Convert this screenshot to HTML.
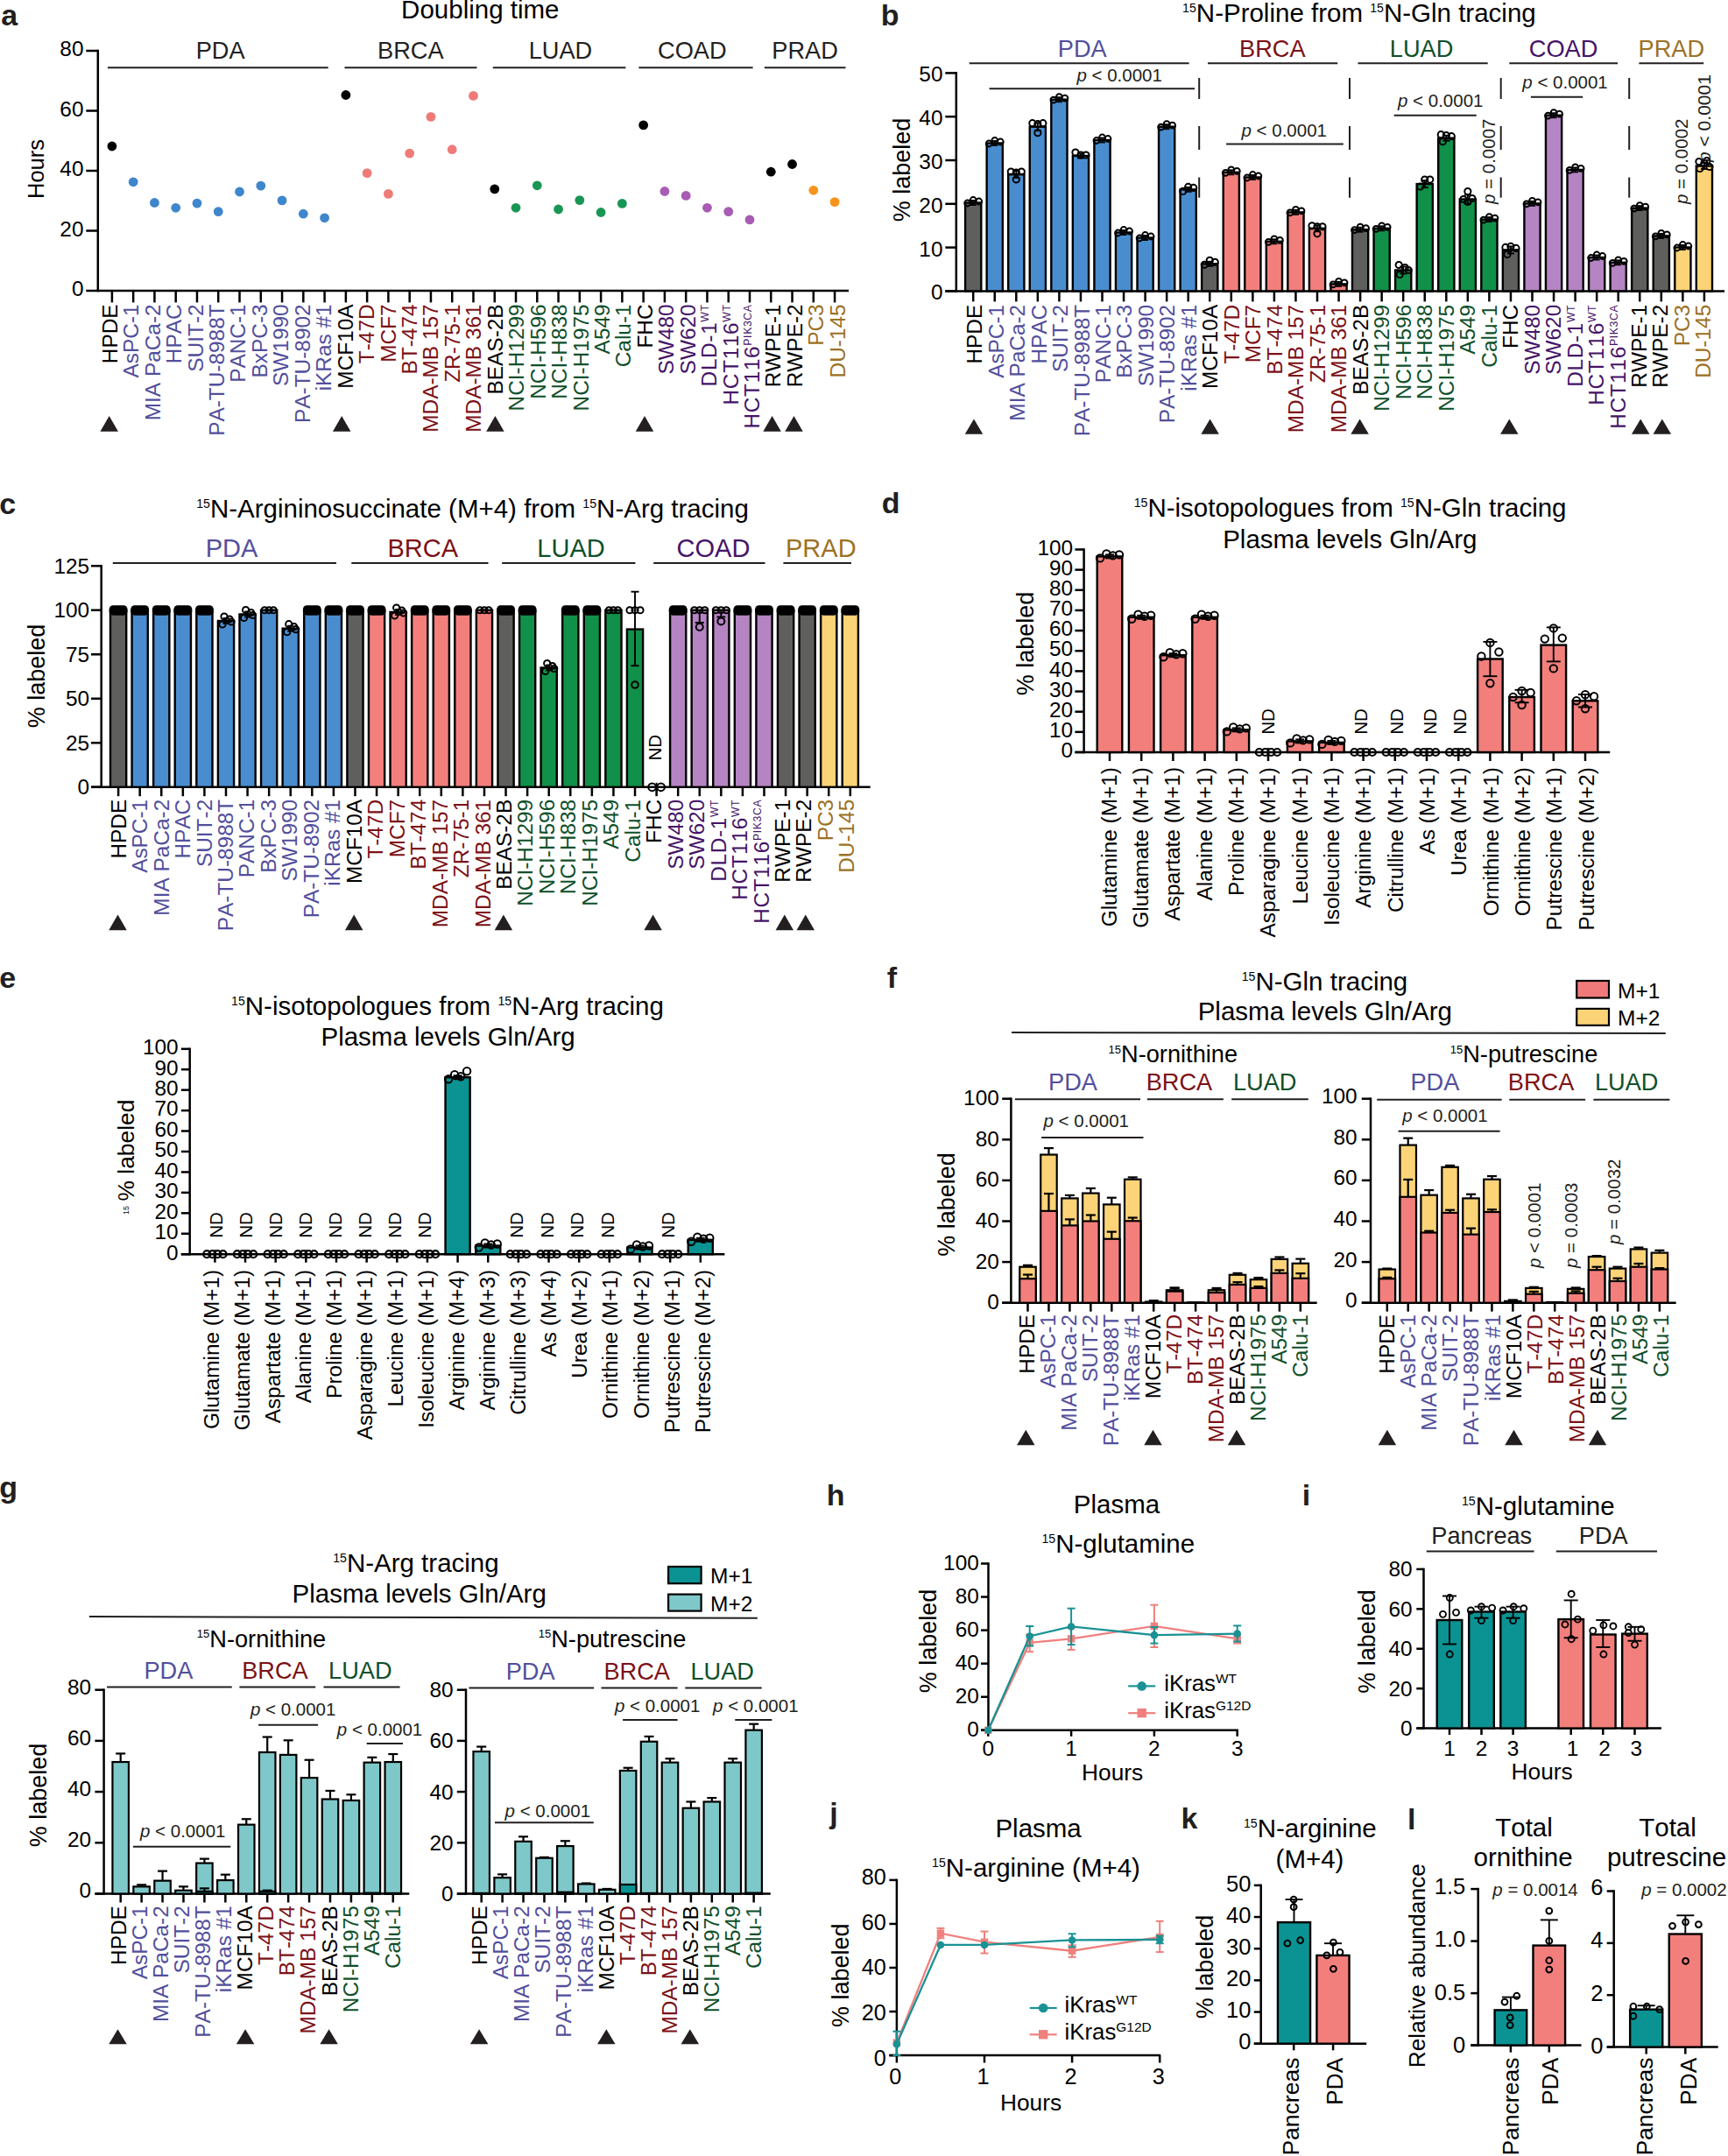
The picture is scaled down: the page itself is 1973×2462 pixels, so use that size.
<!DOCTYPE html>
<html><head><meta charset="utf-8"><title>Figure</title>
<style>html,body{margin:0;padding:0;background:#fff;overflow:hidden}svg{display:block}</style></head>
<body>
<svg width="1973" height="2462" viewBox="0 0 1973 2462" font-family='"Liberation Sans", Arial, Helvetica, sans-serif' style="font-kerning:none">
<text x="1.2" y="28.9" font-size="34" fill="#231f20" font-weight="bold">a</text>
<text x="548.3" y="21.1" font-size="29.5" text-anchor="middle">Doubling time</text>
<line x1="111.8" y1="56.75" x2="111.8" y2="333.25" stroke="#000" stroke-width="2.5"/>
<line x1="98.3" y1="332" x2="111.8" y2="332" stroke="#000" stroke-width="2.5"/>
<text x="95.5" y="338.44" font-size="24.4" text-anchor="end">0</text>
<line x1="98.3" y1="263.5" x2="111.8" y2="263.5" stroke="#000" stroke-width="2.5"/>
<text x="95.5" y="269.94" font-size="24.4" text-anchor="end">20</text>
<line x1="98.3" y1="195" x2="111.8" y2="195" stroke="#000" stroke-width="2.5"/>
<text x="95.5" y="201.44" font-size="24.4" text-anchor="end">40</text>
<line x1="98.3" y1="126.5" x2="111.8" y2="126.5" stroke="#000" stroke-width="2.5"/>
<text x="95.5" y="132.94" font-size="24.4" text-anchor="end">60</text>
<line x1="98.3" y1="58" x2="111.8" y2="58" stroke="#000" stroke-width="2.5"/>
<text x="95.5" y="64.44" font-size="24.4" text-anchor="end">80</text>
<text x="50" y="193" font-size="25.5" text-anchor="middle" transform="rotate(-90 50 193)">Hours</text>
<line x1="111.8" y1="332" x2="969" y2="332" stroke="#000" stroke-width="2.5"/>
<line x1="127.9" y1="332" x2="127.9" y2="345.4" stroke="#000" stroke-width="2.5"/>
<line x1="152.17" y1="332" x2="152.17" y2="345.4" stroke="#000" stroke-width="2.5"/>
<line x1="176.44" y1="332" x2="176.44" y2="345.4" stroke="#000" stroke-width="2.5"/>
<line x1="200.71" y1="332" x2="200.71" y2="345.4" stroke="#000" stroke-width="2.5"/>
<line x1="224.98" y1="332" x2="224.98" y2="345.4" stroke="#000" stroke-width="2.5"/>
<line x1="249.25" y1="332" x2="249.25" y2="345.4" stroke="#000" stroke-width="2.5"/>
<line x1="273.52" y1="332" x2="273.52" y2="345.4" stroke="#000" stroke-width="2.5"/>
<line x1="297.79" y1="332" x2="297.79" y2="345.4" stroke="#000" stroke-width="2.5"/>
<line x1="322.06" y1="332" x2="322.06" y2="345.4" stroke="#000" stroke-width="2.5"/>
<line x1="346.33" y1="332" x2="346.33" y2="345.4" stroke="#000" stroke-width="2.5"/>
<line x1="370.6" y1="332" x2="370.6" y2="345.4" stroke="#000" stroke-width="2.5"/>
<line x1="394.87" y1="332" x2="394.87" y2="345.4" stroke="#000" stroke-width="2.5"/>
<line x1="419.14" y1="332" x2="419.14" y2="345.4" stroke="#000" stroke-width="2.5"/>
<line x1="443.41" y1="332" x2="443.41" y2="345.4" stroke="#000" stroke-width="2.5"/>
<line x1="467.68" y1="332" x2="467.68" y2="345.4" stroke="#000" stroke-width="2.5"/>
<line x1="491.95" y1="332" x2="491.95" y2="345.4" stroke="#000" stroke-width="2.5"/>
<line x1="516.22" y1="332" x2="516.22" y2="345.4" stroke="#000" stroke-width="2.5"/>
<line x1="540.49" y1="332" x2="540.49" y2="345.4" stroke="#000" stroke-width="2.5"/>
<line x1="564.76" y1="332" x2="564.76" y2="345.4" stroke="#000" stroke-width="2.5"/>
<line x1="589.03" y1="332" x2="589.03" y2="345.4" stroke="#000" stroke-width="2.5"/>
<line x1="613.3" y1="332" x2="613.3" y2="345.4" stroke="#000" stroke-width="2.5"/>
<line x1="637.57" y1="332" x2="637.57" y2="345.4" stroke="#000" stroke-width="2.5"/>
<line x1="661.84" y1="332" x2="661.84" y2="345.4" stroke="#000" stroke-width="2.5"/>
<line x1="686.11" y1="332" x2="686.11" y2="345.4" stroke="#000" stroke-width="2.5"/>
<line x1="710.38" y1="332" x2="710.38" y2="345.4" stroke="#000" stroke-width="2.5"/>
<line x1="734.65" y1="332" x2="734.65" y2="345.4" stroke="#000" stroke-width="2.5"/>
<line x1="758.92" y1="332" x2="758.92" y2="345.4" stroke="#000" stroke-width="2.5"/>
<line x1="783.19" y1="332" x2="783.19" y2="345.4" stroke="#000" stroke-width="2.5"/>
<line x1="807.46" y1="332" x2="807.46" y2="345.4" stroke="#000" stroke-width="2.5"/>
<line x1="831.73" y1="332" x2="831.73" y2="345.4" stroke="#000" stroke-width="2.5"/>
<line x1="856" y1="332" x2="856" y2="345.4" stroke="#000" stroke-width="2.5"/>
<line x1="880.27" y1="332" x2="880.27" y2="345.4" stroke="#000" stroke-width="2.5"/>
<line x1="904.54" y1="332" x2="904.54" y2="345.4" stroke="#000" stroke-width="2.5"/>
<line x1="928.81" y1="332" x2="928.81" y2="345.4" stroke="#000" stroke-width="2.5"/>
<line x1="953.08" y1="332" x2="953.08" y2="345.4" stroke="#000" stroke-width="2.5"/>
<circle cx="127.9" cy="167" r="5.4" fill="#000"/>
<circle cx="152.17" cy="207.8" r="5.4" fill="#3f86cc"/>
<circle cx="176.44" cy="231.5" r="5.4" fill="#3f86cc"/>
<circle cx="200.71" cy="237.3" r="5.4" fill="#3f86cc"/>
<circle cx="224.98" cy="232.1" r="5.4" fill="#3f86cc"/>
<circle cx="249.25" cy="241.6" r="5.4" fill="#3f86cc"/>
<circle cx="273.52" cy="219" r="5.4" fill="#3f86cc"/>
<circle cx="297.79" cy="212.1" r="5.4" fill="#3f86cc"/>
<circle cx="322.06" cy="228.9" r="5.4" fill="#3f86cc"/>
<circle cx="346.33" cy="244.2" r="5.4" fill="#3f86cc"/>
<circle cx="370.6" cy="248.8" r="5.4" fill="#3f86cc"/>
<circle cx="394.87" cy="108.5" r="5.4" fill="#000"/>
<circle cx="419.14" cy="197.6" r="5.4" fill="#ee7b78"/>
<circle cx="443.41" cy="221.4" r="5.4" fill="#ee7b78"/>
<circle cx="467.68" cy="175.1" r="5.4" fill="#ee7b78"/>
<circle cx="491.95" cy="133.4" r="5.4" fill="#ee7b78"/>
<circle cx="516.22" cy="170.7" r="5.4" fill="#ee7b78"/>
<circle cx="540.49" cy="109.4" r="5.4" fill="#ee7b78"/>
<circle cx="564.76" cy="215.9" r="5.4" fill="#000"/>
<circle cx="589.03" cy="237.3" r="5.4" fill="#1a9654"/>
<circle cx="613.3" cy="211.8" r="5.4" fill="#1a9654"/>
<circle cx="637.57" cy="239" r="5.4" fill="#1a9654"/>
<circle cx="661.84" cy="228.6" r="5.4" fill="#1a9654"/>
<circle cx="686.11" cy="242.5" r="5.4" fill="#1a9654"/>
<circle cx="710.38" cy="232.4" r="5.4" fill="#1a9654"/>
<circle cx="734.65" cy="142.9" r="5.4" fill="#000"/>
<circle cx="758.92" cy="218.5" r="5.4" fill="#a85cb4"/>
<circle cx="783.19" cy="223.4" r="5.4" fill="#a85cb4"/>
<circle cx="807.46" cy="237.3" r="5.4" fill="#a85cb4"/>
<circle cx="831.73" cy="241.6" r="5.4" fill="#a85cb4"/>
<circle cx="856" cy="250.9" r="5.4" fill="#a85cb4"/>
<circle cx="880.27" cy="196.2" r="5.4" fill="#000"/>
<circle cx="904.54" cy="187.5" r="5.4" fill="#000"/>
<circle cx="928.81" cy="217.3" r="5.4" fill="#f7941d"/>
<circle cx="953.08" cy="230.6" r="5.4" fill="#f7941d"/>
<text x="251.7" y="67.3" font-size="27.2" text-anchor="middle" fill="#231f20">PDA</text>
<line x1="123" y1="77.3" x2="374.7" y2="77.3" stroke="#231f20" stroke-width="2"/>
<text x="468.8" y="67.3" font-size="27.2" text-anchor="middle" fill="#231f20">BRCA</text>
<line x1="393.5" y1="77.3" x2="544.5" y2="77.3" stroke="#231f20" stroke-width="2"/>
<text x="639.9" y="67.3" font-size="27.2" text-anchor="middle" fill="#231f20">LUAD</text>
<line x1="562.8" y1="77.3" x2="714.4" y2="77.3" stroke="#231f20" stroke-width="2"/>
<text x="790.3" y="67.3" font-size="27.2" text-anchor="middle" fill="#231f20">COAD</text>
<line x1="729.4" y1="77.3" x2="859.6" y2="77.3" stroke="#231f20" stroke-width="2"/>
<text x="919.1" y="67.3" font-size="27.2" text-anchor="middle" fill="#231f20">PRAD</text>
<line x1="872.9" y1="77.3" x2="965.5" y2="77.3" stroke="#231f20" stroke-width="2"/>
<text x="133.84" y="347.4" font-size="24.4" text-anchor="end" transform="rotate(-90 133.84 347.4)">HPDE</text>
<text x="158.28" y="347.4" font-size="24.4" text-anchor="end" fill="#524f9c" transform="rotate(-90 158.28 347.4)">AsPC-1</text>
<text x="182.72" y="347.4" font-size="24.4" text-anchor="end" fill="#524f9c" transform="rotate(-90 182.72 347.4)">MIA PaCa-2</text>
<text x="207.16" y="347.4" font-size="24.4" text-anchor="end" fill="#524f9c" transform="rotate(-90 207.16 347.4)">HPAC</text>
<text x="231.6" y="347.4" font-size="24.4" text-anchor="end" fill="#524f9c" transform="rotate(-90 231.6 347.4)">SUIT-2</text>
<text x="256.04" y="347.4" font-size="24.4" text-anchor="end" fill="#524f9c" transform="rotate(-90 256.04 347.4)">PA-TU-8988T</text>
<text x="280.48" y="347.4" font-size="24.4" text-anchor="end" fill="#524f9c" transform="rotate(-90 280.48 347.4)">PANC-1</text>
<text x="304.92" y="347.4" font-size="24.4" text-anchor="end" fill="#524f9c" transform="rotate(-90 304.92 347.4)">BxPC-3</text>
<text x="329.36" y="347.4" font-size="24.4" text-anchor="end" fill="#524f9c" transform="rotate(-90 329.36 347.4)">SW1990</text>
<text x="353.8" y="347.4" font-size="24.4" text-anchor="end" fill="#524f9c" transform="rotate(-90 353.8 347.4)">PA-TU-8902</text>
<text x="378.24" y="347.4" font-size="24.4" text-anchor="end" fill="#524f9c" transform="rotate(-90 378.24 347.4)">iKRas #1</text>
<text x="402.68" y="347.4" font-size="24.4" text-anchor="end" transform="rotate(-90 402.68 347.4)">MCF10A</text>
<text x="427.12" y="347.4" font-size="24.4" text-anchor="end" fill="#7c1116" transform="rotate(-90 427.12 347.4)">T-47D</text>
<text x="451.56" y="347.4" font-size="24.4" text-anchor="end" fill="#7c1116" transform="rotate(-90 451.56 347.4)">MCF7</text>
<text x="476" y="347.4" font-size="24.4" text-anchor="end" fill="#7c1116" transform="rotate(-90 476 347.4)">BT-474</text>
<text x="500.44" y="347.4" font-size="24.4" text-anchor="end" fill="#7c1116" transform="rotate(-90 500.44 347.4)">MDA-MB 157</text>
<text x="524.88" y="347.4" font-size="24.4" text-anchor="end" fill="#7c1116" transform="rotate(-90 524.88 347.4)">ZR-75-1</text>
<text x="549.32" y="347.4" font-size="24.4" text-anchor="end" fill="#7c1116" transform="rotate(-90 549.32 347.4)">MDA-MB 361</text>
<text x="573.76" y="347.4" font-size="24.4" text-anchor="end" transform="rotate(-90 573.76 347.4)">BEAS-2B</text>
<text x="598.2" y="347.4" font-size="24.4" text-anchor="end" fill="#0f502a" transform="rotate(-90 598.2 347.4)">NCI-H1299</text>
<text x="622.64" y="347.4" font-size="24.4" text-anchor="end" fill="#0f502a" transform="rotate(-90 622.64 347.4)">NCI-H596</text>
<text x="647.08" y="347.4" font-size="24.4" text-anchor="end" fill="#0f502a" transform="rotate(-90 647.08 347.4)">NCI-H838</text>
<text x="671.52" y="347.4" font-size="24.4" text-anchor="end" fill="#0f502a" transform="rotate(-90 671.52 347.4)">NCI-H1975</text>
<text x="695.96" y="347.4" font-size="24.4" text-anchor="end" fill="#0f502a" transform="rotate(-90 695.96 347.4)">A549</text>
<text x="720.4" y="347.4" font-size="24.4" text-anchor="end" fill="#0f502a" transform="rotate(-90 720.4 347.4)">Calu-1</text>
<text x="744.84" y="347.4" font-size="24.4" text-anchor="end" transform="rotate(-90 744.84 347.4)">FHC</text>
<text x="769.28" y="347.4" font-size="24.4" text-anchor="end" fill="#451467" transform="rotate(-90 769.28 347.4)">SW480</text>
<text x="793.72" y="347.4" font-size="24.4" text-anchor="end" fill="#451467" transform="rotate(-90 793.72 347.4)">SW620</text>
<text x="818.16" y="347.4" font-size="24.4" text-anchor="end" fill="#451467" transform="rotate(-90 818.16 347.4)" letter-spacing="0.65">DLD-1<tspan dy="-9.03" font-size="12.2">WT</tspan></text>
<text x="842.6" y="347.4" font-size="24.4" text-anchor="end" fill="#451467" transform="rotate(-90 842.6 347.4)" letter-spacing="0.65">HCT116<tspan dy="-9.03" font-size="12.2">WT</tspan></text>
<text x="867.04" y="347.4" font-size="24.4" text-anchor="end" fill="#451467" transform="rotate(-90 867.04 347.4)" letter-spacing="0.65">HCT116<tspan dy="-9.03" font-size="12.2">PIK3CA</tspan></text>
<text x="891.48" y="347.4" font-size="24.4" text-anchor="end" transform="rotate(-90 891.48 347.4)">RWPE-1</text>
<text x="915.92" y="347.4" font-size="24.4" text-anchor="end" transform="rotate(-90 915.92 347.4)">RWPE-2</text>
<text x="940.36" y="347.4" font-size="24.4" text-anchor="end" fill="#9c7124" transform="rotate(-90 940.36 347.4)">PC3</text>
<text x="964.8" y="347.4" font-size="24.4" text-anchor="end" fill="#9c7124" transform="rotate(-90 964.8 347.4)">DU-145</text>
<polygon points="124.7,474.9 114.45,492.8 134.95,492.8" fill="#231f20"/>
<polygon points="390.2,474.9 379.95,492.8 400.45,492.8" fill="#231f20"/>
<polygon points="565.4,474.9 555.15,492.8 575.65,492.8" fill="#231f20"/>
<polygon points="736,474.9 725.75,492.8 746.25,492.8" fill="#231f20"/>
<polygon points="881.6,474.9 871.35,492.8 891.85,492.8" fill="#231f20"/>
<polygon points="906.5,474.9 896.25,492.8 916.75,492.8" fill="#231f20"/>
<text x="1005.8" y="28.9" font-size="34" fill="#231f20" font-weight="bold">b</text>
<text x="1551.9" y="25.4" font-size="29.5" text-anchor="middle"><tspan dy="-10.91" font-size="14.16">15</tspan><tspan dy="10.91">N-Proline from </tspan><tspan dy="-10.91" font-size="14.16">15</tspan><tspan dy="10.91">N-Gln tracing</tspan></text>
<line x1="1091.8" y1="82.15" x2="1091.8" y2="333.65" stroke="#000" stroke-width="2.5"/>
<line x1="1079.3" y1="332.4" x2="1091.8" y2="332.4" stroke="#000" stroke-width="2.5"/>
<text x="1076.5" y="342.44" font-size="24.4" text-anchor="end">0</text>
<line x1="1079.3" y1="282.6" x2="1091.8" y2="282.6" stroke="#000" stroke-width="2.5"/>
<text x="1076.5" y="292.64" font-size="24.4" text-anchor="end">10</text>
<line x1="1079.3" y1="232.8" x2="1091.8" y2="232.8" stroke="#000" stroke-width="2.5"/>
<text x="1076.5" y="242.84" font-size="24.4" text-anchor="end">20</text>
<line x1="1079.3" y1="183" x2="1091.8" y2="183" stroke="#000" stroke-width="2.5"/>
<text x="1076.5" y="193.04" font-size="24.4" text-anchor="end">30</text>
<line x1="1079.3" y1="133.2" x2="1091.8" y2="133.2" stroke="#000" stroke-width="2.5"/>
<text x="1076.5" y="143.24" font-size="24.4" text-anchor="end">40</text>
<line x1="1079.3" y1="83.4" x2="1091.8" y2="83.4" stroke="#000" stroke-width="2.5"/>
<text x="1076.5" y="93.44" font-size="24.4" text-anchor="end">50</text>
<text x="1039" y="193.9" font-size="27" text-anchor="middle" transform="rotate(-90 1039 193.9)">% labeled</text>
<line x1="1079.3" y1="332.4" x2="1969" y2="332.4" stroke="#000" stroke-width="2.5"/>
<line x1="1111.2" y1="332.4" x2="1111.2" y2="344.4" stroke="#000" stroke-width="2.5"/>
<line x1="1135.75" y1="332.4" x2="1135.75" y2="344.4" stroke="#000" stroke-width="2.5"/>
<line x1="1160.3" y1="332.4" x2="1160.3" y2="344.4" stroke="#000" stroke-width="2.5"/>
<line x1="1184.85" y1="332.4" x2="1184.85" y2="344.4" stroke="#000" stroke-width="2.5"/>
<line x1="1209.4" y1="332.4" x2="1209.4" y2="344.4" stroke="#000" stroke-width="2.5"/>
<line x1="1233.95" y1="332.4" x2="1233.95" y2="344.4" stroke="#000" stroke-width="2.5"/>
<line x1="1258.5" y1="332.4" x2="1258.5" y2="344.4" stroke="#000" stroke-width="2.5"/>
<line x1="1283.05" y1="332.4" x2="1283.05" y2="344.4" stroke="#000" stroke-width="2.5"/>
<line x1="1307.6" y1="332.4" x2="1307.6" y2="344.4" stroke="#000" stroke-width="2.5"/>
<line x1="1332.15" y1="332.4" x2="1332.15" y2="344.4" stroke="#000" stroke-width="2.5"/>
<line x1="1356.7" y1="332.4" x2="1356.7" y2="344.4" stroke="#000" stroke-width="2.5"/>
<line x1="1381.25" y1="332.4" x2="1381.25" y2="344.4" stroke="#000" stroke-width="2.5"/>
<line x1="1405.8" y1="332.4" x2="1405.8" y2="344.4" stroke="#000" stroke-width="2.5"/>
<line x1="1430.35" y1="332.4" x2="1430.35" y2="344.4" stroke="#000" stroke-width="2.5"/>
<line x1="1454.9" y1="332.4" x2="1454.9" y2="344.4" stroke="#000" stroke-width="2.5"/>
<line x1="1479.45" y1="332.4" x2="1479.45" y2="344.4" stroke="#000" stroke-width="2.5"/>
<line x1="1504" y1="332.4" x2="1504" y2="344.4" stroke="#000" stroke-width="2.5"/>
<line x1="1528.55" y1="332.4" x2="1528.55" y2="344.4" stroke="#000" stroke-width="2.5"/>
<line x1="1553.1" y1="332.4" x2="1553.1" y2="344.4" stroke="#000" stroke-width="2.5"/>
<line x1="1577.65" y1="332.4" x2="1577.65" y2="344.4" stroke="#000" stroke-width="2.5"/>
<line x1="1602.2" y1="332.4" x2="1602.2" y2="344.4" stroke="#000" stroke-width="2.5"/>
<line x1="1626.75" y1="332.4" x2="1626.75" y2="344.4" stroke="#000" stroke-width="2.5"/>
<line x1="1651.3" y1="332.4" x2="1651.3" y2="344.4" stroke="#000" stroke-width="2.5"/>
<line x1="1675.85" y1="332.4" x2="1675.85" y2="344.4" stroke="#000" stroke-width="2.5"/>
<line x1="1700.4" y1="332.4" x2="1700.4" y2="344.4" stroke="#000" stroke-width="2.5"/>
<line x1="1724.95" y1="332.4" x2="1724.95" y2="344.4" stroke="#000" stroke-width="2.5"/>
<line x1="1749.5" y1="332.4" x2="1749.5" y2="344.4" stroke="#000" stroke-width="2.5"/>
<line x1="1774.05" y1="332.4" x2="1774.05" y2="344.4" stroke="#000" stroke-width="2.5"/>
<line x1="1798.6" y1="332.4" x2="1798.6" y2="344.4" stroke="#000" stroke-width="2.5"/>
<line x1="1823.15" y1="332.4" x2="1823.15" y2="344.4" stroke="#000" stroke-width="2.5"/>
<line x1="1847.7" y1="332.4" x2="1847.7" y2="344.4" stroke="#000" stroke-width="2.5"/>
<line x1="1872.25" y1="332.4" x2="1872.25" y2="344.4" stroke="#000" stroke-width="2.5"/>
<line x1="1896.8" y1="332.4" x2="1896.8" y2="344.4" stroke="#000" stroke-width="2.5"/>
<line x1="1921.35" y1="332.4" x2="1921.35" y2="344.4" stroke="#000" stroke-width="2.5"/>
<line x1="1945.9" y1="332.4" x2="1945.9" y2="344.4" stroke="#000" stroke-width="2.5"/>
<rect x="1102.1" y="231.5" width="18.2" height="100.9" fill="#5f5f5e" stroke="#000" stroke-width="2.4"/>
<rect x="1126.65" y="163.5" width="18.2" height="168.9" fill="#4a8dcf" stroke="#000" stroke-width="2.4"/>
<rect x="1151.2" y="199" width="18.2" height="133.4" fill="#4a8dcf" stroke="#000" stroke-width="2.4"/>
<rect x="1175.75" y="144.7" width="18.2" height="187.7" fill="#4a8dcf" stroke="#000" stroke-width="2.4"/>
<rect x="1200.3" y="113.7" width="18.2" height="218.7" fill="#4a8dcf" stroke="#000" stroke-width="2.4"/>
<rect x="1224.85" y="178" width="18.2" height="154.4" fill="#4a8dcf" stroke="#000" stroke-width="2.4"/>
<rect x="1249.4" y="160" width="18.2" height="172.4" fill="#4a8dcf" stroke="#000" stroke-width="2.4"/>
<rect x="1273.95" y="265.5" width="18.2" height="66.9" fill="#4a8dcf" stroke="#000" stroke-width="2.4"/>
<rect x="1298.5" y="271.5" width="18.2" height="60.9" fill="#4a8dcf" stroke="#000" stroke-width="2.4"/>
<rect x="1323.05" y="144.7" width="18.2" height="187.7" fill="#4a8dcf" stroke="#000" stroke-width="2.4"/>
<rect x="1347.6" y="216.4" width="18.2" height="116" fill="#4a8dcf" stroke="#000" stroke-width="2.4"/>
<rect x="1372.15" y="301.3" width="18.2" height="31.1" fill="#5f5f5e" stroke="#000" stroke-width="2.4"/>
<rect x="1396.7" y="196.8" width="18.2" height="135.6" fill="#f27f7c" stroke="#000" stroke-width="2.4"/>
<rect x="1421.25" y="202.5" width="18.2" height="129.9" fill="#f27f7c" stroke="#000" stroke-width="2.4"/>
<rect x="1445.8" y="275.8" width="18.2" height="56.6" fill="#f27f7c" stroke="#000" stroke-width="2.4"/>
<rect x="1470.35" y="242.4" width="18.2" height="90" fill="#f27f7c" stroke="#000" stroke-width="2.4"/>
<rect x="1494.9" y="260.8" width="18.2" height="71.6" fill="#f27f7c" stroke="#000" stroke-width="2.4"/>
<rect x="1519.45" y="324.4" width="18.2" height="8" fill="#f27f7c" stroke="#000" stroke-width="2.4"/>
<rect x="1544" y="262.2" width="18.2" height="70.2" fill="#5f5f5e" stroke="#000" stroke-width="2.4"/>
<rect x="1568.55" y="260.8" width="18.2" height="71.6" fill="#109049" stroke="#000" stroke-width="2.4"/>
<rect x="1593.1" y="308.5" width="18.2" height="23.9" fill="#109049" stroke="#000" stroke-width="2.4"/>
<rect x="1617.65" y="210.1" width="18.2" height="122.3" fill="#109049" stroke="#000" stroke-width="2.4"/>
<rect x="1642.2" y="157.7" width="18.2" height="174.7" fill="#109049" stroke="#000" stroke-width="2.4"/>
<rect x="1666.75" y="227.5" width="18.2" height="104.9" fill="#109049" stroke="#000" stroke-width="2.4"/>
<rect x="1691.3" y="250.6" width="18.2" height="81.8" fill="#109049" stroke="#000" stroke-width="2.4"/>
<rect x="1715.85" y="285.4" width="18.2" height="47" fill="#5f5f5e" stroke="#000" stroke-width="2.4"/>
<rect x="1740.4" y="232.4" width="18.2" height="100" fill="#b584c3" stroke="#000" stroke-width="2.4"/>
<rect x="1764.95" y="131.7" width="18.2" height="200.7" fill="#b584c3" stroke="#000" stroke-width="2.4"/>
<rect x="1789.5" y="193.9" width="18.2" height="138.5" fill="#b584c3" stroke="#000" stroke-width="2.4"/>
<rect x="1814.05" y="294" width="18.2" height="38.4" fill="#b584c3" stroke="#000" stroke-width="2.4"/>
<rect x="1838.6" y="299.8" width="18.2" height="32.6" fill="#b584c3" stroke="#000" stroke-width="2.4"/>
<rect x="1863.15" y="237.6" width="18.2" height="94.8" fill="#5f5f5e" stroke="#000" stroke-width="2.4"/>
<rect x="1887.7" y="269.4" width="18.2" height="63" fill="#5f5f5e" stroke="#000" stroke-width="2.4"/>
<rect x="1912.25" y="282.5" width="18.2" height="49.9" fill="#fdd378" stroke="#000" stroke-width="2.4"/>
<rect x="1936.8" y="189.5" width="18.2" height="142.9" fill="#fdd378" stroke="#000" stroke-width="2.4"/>
<line x1="1111.2" y1="229" x2="1111.2" y2="234" stroke="#000" stroke-width="1.9"/>
<line x1="1107.7" y1="229" x2="1114.7" y2="229" stroke="#000" stroke-width="1.9"/>
<line x1="1107.7" y1="234" x2="1114.7" y2="234" stroke="#000" stroke-width="1.9"/>
<circle cx="1104.7" cy="232" r="3.4" fill="none" stroke="#000" stroke-width="2"/>
<circle cx="1111.2" cy="228.5" r="3.4" fill="none" stroke="#000" stroke-width="2"/>
<circle cx="1117.7" cy="230" r="3.4" fill="none" stroke="#000" stroke-width="2"/>
<line x1="1135.75" y1="161" x2="1135.75" y2="166" stroke="#000" stroke-width="1.9"/>
<line x1="1132.25" y1="161" x2="1139.25" y2="161" stroke="#000" stroke-width="1.9"/>
<line x1="1132.25" y1="166" x2="1139.25" y2="166" stroke="#000" stroke-width="1.9"/>
<circle cx="1129.25" cy="164" r="3.4" fill="none" stroke="#000" stroke-width="2"/>
<circle cx="1135.75" cy="160.5" r="3.4" fill="none" stroke="#000" stroke-width="2"/>
<circle cx="1142.25" cy="162" r="3.4" fill="none" stroke="#000" stroke-width="2"/>
<line x1="1160.3" y1="195" x2="1160.3" y2="203" stroke="#000" stroke-width="1.9"/>
<line x1="1156.3" y1="195" x2="1164.3" y2="195" stroke="#000" stroke-width="1.9"/>
<line x1="1156.3" y1="203" x2="1164.3" y2="203" stroke="#000" stroke-width="1.9"/>
<circle cx="1154.3" cy="196" r="3.6" fill="none" stroke="#000" stroke-width="2"/>
<circle cx="1160.3" cy="197" r="3.6" fill="none" stroke="#000" stroke-width="2"/>
<circle cx="1166.3" cy="196" r="3.6" fill="none" stroke="#000" stroke-width="2"/>
<circle cx="1160.3" cy="205" r="3.6" fill="none" stroke="#000" stroke-width="2"/>
<line x1="1184.85" y1="140.2" x2="1184.85" y2="149.2" stroke="#000" stroke-width="1.9"/>
<line x1="1180.85" y1="140.2" x2="1188.85" y2="140.2" stroke="#000" stroke-width="1.9"/>
<line x1="1180.85" y1="149.2" x2="1188.85" y2="149.2" stroke="#000" stroke-width="1.9"/>
<circle cx="1178.85" cy="140.7" r="3.6" fill="none" stroke="#000" stroke-width="2"/>
<circle cx="1184.85" cy="141.7" r="3.6" fill="none" stroke="#000" stroke-width="2"/>
<circle cx="1190.85" cy="140.7" r="3.6" fill="none" stroke="#000" stroke-width="2"/>
<circle cx="1184.85" cy="151.7" r="3.6" fill="none" stroke="#000" stroke-width="2"/>
<line x1="1209.4" y1="111.2" x2="1209.4" y2="116.2" stroke="#000" stroke-width="1.9"/>
<line x1="1205.9" y1="111.2" x2="1212.9" y2="111.2" stroke="#000" stroke-width="1.9"/>
<line x1="1205.9" y1="116.2" x2="1212.9" y2="116.2" stroke="#000" stroke-width="1.9"/>
<circle cx="1202.9" cy="114.2" r="3.4" fill="none" stroke="#000" stroke-width="2"/>
<circle cx="1209.4" cy="110.7" r="3.4" fill="none" stroke="#000" stroke-width="2"/>
<circle cx="1215.9" cy="112.2" r="3.4" fill="none" stroke="#000" stroke-width="2"/>
<line x1="1233.95" y1="175.5" x2="1233.95" y2="180.5" stroke="#000" stroke-width="1.9"/>
<line x1="1229.95" y1="175.5" x2="1237.95" y2="175.5" stroke="#000" stroke-width="1.9"/>
<line x1="1229.95" y1="180.5" x2="1237.95" y2="180.5" stroke="#000" stroke-width="1.9"/>
<circle cx="1227.95" cy="174" r="3.6" fill="none" stroke="#000" stroke-width="2"/>
<circle cx="1233.95" cy="177" r="3.6" fill="none" stroke="#000" stroke-width="2"/>
<circle cx="1239.95" cy="177" r="3.6" fill="none" stroke="#000" stroke-width="2"/>
<line x1="1258.5" y1="157.5" x2="1258.5" y2="162.5" stroke="#000" stroke-width="1.9"/>
<line x1="1255" y1="157.5" x2="1262" y2="157.5" stroke="#000" stroke-width="1.9"/>
<line x1="1255" y1="162.5" x2="1262" y2="162.5" stroke="#000" stroke-width="1.9"/>
<circle cx="1252" cy="160.5" r="3.4" fill="none" stroke="#000" stroke-width="2"/>
<circle cx="1258.5" cy="157" r="3.4" fill="none" stroke="#000" stroke-width="2"/>
<circle cx="1265" cy="158.5" r="3.4" fill="none" stroke="#000" stroke-width="2"/>
<line x1="1283.05" y1="263" x2="1283.05" y2="268" stroke="#000" stroke-width="1.9"/>
<line x1="1279.55" y1="263" x2="1286.55" y2="263" stroke="#000" stroke-width="1.9"/>
<line x1="1279.55" y1="268" x2="1286.55" y2="268" stroke="#000" stroke-width="1.9"/>
<circle cx="1276.55" cy="266" r="3.4" fill="none" stroke="#000" stroke-width="2"/>
<circle cx="1283.05" cy="262.5" r="3.4" fill="none" stroke="#000" stroke-width="2"/>
<circle cx="1289.55" cy="264" r="3.4" fill="none" stroke="#000" stroke-width="2"/>
<line x1="1307.6" y1="269" x2="1307.6" y2="274" stroke="#000" stroke-width="1.9"/>
<line x1="1304.1" y1="269" x2="1311.1" y2="269" stroke="#000" stroke-width="1.9"/>
<line x1="1304.1" y1="274" x2="1311.1" y2="274" stroke="#000" stroke-width="1.9"/>
<circle cx="1301.1" cy="272" r="3.4" fill="none" stroke="#000" stroke-width="2"/>
<circle cx="1307.6" cy="268.5" r="3.4" fill="none" stroke="#000" stroke-width="2"/>
<circle cx="1314.1" cy="270" r="3.4" fill="none" stroke="#000" stroke-width="2"/>
<line x1="1332.15" y1="142.2" x2="1332.15" y2="147.2" stroke="#000" stroke-width="1.9"/>
<line x1="1328.65" y1="142.2" x2="1335.65" y2="142.2" stroke="#000" stroke-width="1.9"/>
<line x1="1328.65" y1="147.2" x2="1335.65" y2="147.2" stroke="#000" stroke-width="1.9"/>
<circle cx="1325.65" cy="145.2" r="3.4" fill="none" stroke="#000" stroke-width="2"/>
<circle cx="1332.15" cy="141.7" r="3.4" fill="none" stroke="#000" stroke-width="2"/>
<circle cx="1338.65" cy="143.2" r="3.4" fill="none" stroke="#000" stroke-width="2"/>
<line x1="1356.7" y1="213.9" x2="1356.7" y2="218.9" stroke="#000" stroke-width="1.9"/>
<line x1="1352.7" y1="213.9" x2="1360.7" y2="213.9" stroke="#000" stroke-width="1.9"/>
<line x1="1352.7" y1="218.9" x2="1360.7" y2="218.9" stroke="#000" stroke-width="1.9"/>
<circle cx="1350.7" cy="218.4" r="3.6" fill="none" stroke="#000" stroke-width="2"/>
<circle cx="1356.7" cy="213.4" r="3.6" fill="none" stroke="#000" stroke-width="2"/>
<circle cx="1362.7" cy="214.4" r="3.6" fill="none" stroke="#000" stroke-width="2"/>
<line x1="1381.25" y1="298.8" x2="1381.25" y2="303.8" stroke="#000" stroke-width="1.9"/>
<line x1="1377.25" y1="298.8" x2="1385.25" y2="298.8" stroke="#000" stroke-width="1.9"/>
<line x1="1377.25" y1="303.8" x2="1385.25" y2="303.8" stroke="#000" stroke-width="1.9"/>
<circle cx="1375.25" cy="302.3" r="3.6" fill="none" stroke="#000" stroke-width="2"/>
<circle cx="1381.25" cy="297.3" r="3.6" fill="none" stroke="#000" stroke-width="2"/>
<circle cx="1387.25" cy="299.3" r="3.6" fill="none" stroke="#000" stroke-width="2"/>
<line x1="1405.8" y1="194.3" x2="1405.8" y2="199.3" stroke="#000" stroke-width="1.9"/>
<line x1="1402.3" y1="194.3" x2="1409.3" y2="194.3" stroke="#000" stroke-width="1.9"/>
<line x1="1402.3" y1="199.3" x2="1409.3" y2="199.3" stroke="#000" stroke-width="1.9"/>
<circle cx="1399.3" cy="197.3" r="3.4" fill="none" stroke="#000" stroke-width="2"/>
<circle cx="1405.8" cy="193.8" r="3.4" fill="none" stroke="#000" stroke-width="2"/>
<circle cx="1412.3" cy="195.3" r="3.4" fill="none" stroke="#000" stroke-width="2"/>
<line x1="1430.35" y1="200" x2="1430.35" y2="205" stroke="#000" stroke-width="1.9"/>
<line x1="1426.85" y1="200" x2="1433.85" y2="200" stroke="#000" stroke-width="1.9"/>
<line x1="1426.85" y1="205" x2="1433.85" y2="205" stroke="#000" stroke-width="1.9"/>
<circle cx="1423.85" cy="203" r="3.4" fill="none" stroke="#000" stroke-width="2"/>
<circle cx="1430.35" cy="199.5" r="3.4" fill="none" stroke="#000" stroke-width="2"/>
<circle cx="1436.85" cy="201" r="3.4" fill="none" stroke="#000" stroke-width="2"/>
<line x1="1454.9" y1="273.3" x2="1454.9" y2="278.3" stroke="#000" stroke-width="1.9"/>
<line x1="1451.4" y1="273.3" x2="1458.4" y2="273.3" stroke="#000" stroke-width="1.9"/>
<line x1="1451.4" y1="278.3" x2="1458.4" y2="278.3" stroke="#000" stroke-width="1.9"/>
<circle cx="1448.4" cy="276.3" r="3.4" fill="none" stroke="#000" stroke-width="2"/>
<circle cx="1454.9" cy="272.8" r="3.4" fill="none" stroke="#000" stroke-width="2"/>
<circle cx="1461.4" cy="274.3" r="3.4" fill="none" stroke="#000" stroke-width="2"/>
<line x1="1479.45" y1="239.9" x2="1479.45" y2="244.9" stroke="#000" stroke-width="1.9"/>
<line x1="1475.95" y1="239.9" x2="1482.95" y2="239.9" stroke="#000" stroke-width="1.9"/>
<line x1="1475.95" y1="244.9" x2="1482.95" y2="244.9" stroke="#000" stroke-width="1.9"/>
<circle cx="1472.95" cy="242.9" r="3.4" fill="none" stroke="#000" stroke-width="2"/>
<circle cx="1479.45" cy="239.4" r="3.4" fill="none" stroke="#000" stroke-width="2"/>
<circle cx="1485.95" cy="240.9" r="3.4" fill="none" stroke="#000" stroke-width="2"/>
<line x1="1504" y1="257.3" x2="1504" y2="264.3" stroke="#000" stroke-width="1.9"/>
<line x1="1500" y1="257.3" x2="1508" y2="257.3" stroke="#000" stroke-width="1.9"/>
<line x1="1500" y1="264.3" x2="1508" y2="264.3" stroke="#000" stroke-width="1.9"/>
<circle cx="1498" cy="257.8" r="3.6" fill="none" stroke="#000" stroke-width="2"/>
<circle cx="1504" cy="258.8" r="3.6" fill="none" stroke="#000" stroke-width="2"/>
<circle cx="1510" cy="258.8" r="3.6" fill="none" stroke="#000" stroke-width="2"/>
<circle cx="1504" cy="266.8" r="3.6" fill="none" stroke="#000" stroke-width="2"/>
<line x1="1528.55" y1="321.9" x2="1528.55" y2="326.9" stroke="#000" stroke-width="1.9"/>
<line x1="1525.05" y1="321.9" x2="1532.05" y2="321.9" stroke="#000" stroke-width="1.9"/>
<line x1="1525.05" y1="326.9" x2="1532.05" y2="326.9" stroke="#000" stroke-width="1.9"/>
<circle cx="1522.05" cy="324.9" r="3.4" fill="none" stroke="#000" stroke-width="2"/>
<circle cx="1528.55" cy="321.4" r="3.4" fill="none" stroke="#000" stroke-width="2"/>
<circle cx="1535.05" cy="322.9" r="3.4" fill="none" stroke="#000" stroke-width="2"/>
<line x1="1553.1" y1="259.7" x2="1553.1" y2="264.7" stroke="#000" stroke-width="1.9"/>
<line x1="1549.6" y1="259.7" x2="1556.6" y2="259.7" stroke="#000" stroke-width="1.9"/>
<line x1="1549.6" y1="264.7" x2="1556.6" y2="264.7" stroke="#000" stroke-width="1.9"/>
<circle cx="1546.6" cy="262.7" r="3.4" fill="none" stroke="#000" stroke-width="2"/>
<circle cx="1553.1" cy="259.2" r="3.4" fill="none" stroke="#000" stroke-width="2"/>
<circle cx="1559.6" cy="260.7" r="3.4" fill="none" stroke="#000" stroke-width="2"/>
<line x1="1577.65" y1="258.3" x2="1577.65" y2="263.3" stroke="#000" stroke-width="1.9"/>
<line x1="1574.15" y1="258.3" x2="1581.15" y2="258.3" stroke="#000" stroke-width="1.9"/>
<line x1="1574.15" y1="263.3" x2="1581.15" y2="263.3" stroke="#000" stroke-width="1.9"/>
<circle cx="1571.15" cy="261.3" r="3.4" fill="none" stroke="#000" stroke-width="2"/>
<circle cx="1577.65" cy="257.8" r="3.4" fill="none" stroke="#000" stroke-width="2"/>
<circle cx="1584.15" cy="259.3" r="3.4" fill="none" stroke="#000" stroke-width="2"/>
<line x1="1602.2" y1="304.5" x2="1602.2" y2="312.5" stroke="#000" stroke-width="1.9"/>
<line x1="1598.2" y1="304.5" x2="1606.2" y2="304.5" stroke="#000" stroke-width="1.9"/>
<line x1="1598.2" y1="312.5" x2="1606.2" y2="312.5" stroke="#000" stroke-width="1.9"/>
<circle cx="1597.2" cy="302.5" r="3.6" fill="none" stroke="#000" stroke-width="2"/>
<circle cx="1604.2" cy="305.5" r="3.6" fill="none" stroke="#000" stroke-width="2"/>
<circle cx="1608.2" cy="308.5" r="3.6" fill="none" stroke="#000" stroke-width="2"/>
<circle cx="1598.2" cy="313.5" r="3.6" fill="none" stroke="#000" stroke-width="2"/>
<line x1="1626.75" y1="206.1" x2="1626.75" y2="214.1" stroke="#000" stroke-width="1.9"/>
<line x1="1622.75" y1="206.1" x2="1630.75" y2="206.1" stroke="#000" stroke-width="1.9"/>
<line x1="1622.75" y1="214.1" x2="1630.75" y2="214.1" stroke="#000" stroke-width="1.9"/>
<circle cx="1621.75" cy="213.1" r="3.6" fill="none" stroke="#000" stroke-width="2"/>
<circle cx="1626.75" cy="205.1" r="3.6" fill="none" stroke="#000" stroke-width="2"/>
<circle cx="1632.75" cy="205.1" r="3.6" fill="none" stroke="#000" stroke-width="2"/>
<line x1="1651.3" y1="154.7" x2="1651.3" y2="160.7" stroke="#000" stroke-width="1.9"/>
<line x1="1647.3" y1="154.7" x2="1655.3" y2="154.7" stroke="#000" stroke-width="1.9"/>
<line x1="1647.3" y1="160.7" x2="1655.3" y2="160.7" stroke="#000" stroke-width="1.9"/>
<circle cx="1645.3" cy="153.7" r="3.6" fill="none" stroke="#000" stroke-width="2"/>
<circle cx="1651.3" cy="154.7" r="3.6" fill="none" stroke="#000" stroke-width="2"/>
<circle cx="1657.3" cy="155.7" r="3.6" fill="none" stroke="#000" stroke-width="2"/>
<circle cx="1647.3" cy="161.7" r="3.6" fill="none" stroke="#000" stroke-width="2"/>
<line x1="1675.85" y1="222.5" x2="1675.85" y2="232.5" stroke="#000" stroke-width="1.9"/>
<line x1="1671.85" y1="222.5" x2="1679.85" y2="222.5" stroke="#000" stroke-width="1.9"/>
<line x1="1671.85" y1="232.5" x2="1679.85" y2="232.5" stroke="#000" stroke-width="1.9"/>
<circle cx="1675.85" cy="218.5" r="3.6" fill="none" stroke="#000" stroke-width="2"/>
<circle cx="1670.85" cy="227.5" r="3.6" fill="none" stroke="#000" stroke-width="2"/>
<circle cx="1680.85" cy="226.5" r="3.6" fill="none" stroke="#000" stroke-width="2"/>
<circle cx="1675.85" cy="230.5" r="3.6" fill="none" stroke="#000" stroke-width="2"/>
<line x1="1700.4" y1="248.1" x2="1700.4" y2="253.1" stroke="#000" stroke-width="1.9"/>
<line x1="1696.9" y1="248.1" x2="1703.9" y2="248.1" stroke="#000" stroke-width="1.9"/>
<line x1="1696.9" y1="253.1" x2="1703.9" y2="253.1" stroke="#000" stroke-width="1.9"/>
<circle cx="1693.9" cy="251.1" r="3.4" fill="none" stroke="#000" stroke-width="2"/>
<circle cx="1700.4" cy="247.6" r="3.4" fill="none" stroke="#000" stroke-width="2"/>
<circle cx="1706.9" cy="249.1" r="3.4" fill="none" stroke="#000" stroke-width="2"/>
<line x1="1724.95" y1="281.4" x2="1724.95" y2="289.4" stroke="#000" stroke-width="1.9"/>
<line x1="1720.95" y1="281.4" x2="1728.95" y2="281.4" stroke="#000" stroke-width="1.9"/>
<line x1="1720.95" y1="289.4" x2="1728.95" y2="289.4" stroke="#000" stroke-width="1.9"/>
<circle cx="1718.95" cy="282.4" r="3.6" fill="none" stroke="#000" stroke-width="2"/>
<circle cx="1724.95" cy="281.4" r="3.6" fill="none" stroke="#000" stroke-width="2"/>
<circle cx="1730.95" cy="283.4" r="3.6" fill="none" stroke="#000" stroke-width="2"/>
<circle cx="1720.95" cy="290.4" r="3.6" fill="none" stroke="#000" stroke-width="2"/>
<line x1="1749.5" y1="229.9" x2="1749.5" y2="234.9" stroke="#000" stroke-width="1.9"/>
<line x1="1746" y1="229.9" x2="1753" y2="229.9" stroke="#000" stroke-width="1.9"/>
<line x1="1746" y1="234.9" x2="1753" y2="234.9" stroke="#000" stroke-width="1.9"/>
<circle cx="1743" cy="232.9" r="3.4" fill="none" stroke="#000" stroke-width="2"/>
<circle cx="1749.5" cy="229.4" r="3.4" fill="none" stroke="#000" stroke-width="2"/>
<circle cx="1756" cy="230.9" r="3.4" fill="none" stroke="#000" stroke-width="2"/>
<line x1="1774.05" y1="129.2" x2="1774.05" y2="134.2" stroke="#000" stroke-width="1.9"/>
<line x1="1770.55" y1="129.2" x2="1777.55" y2="129.2" stroke="#000" stroke-width="1.9"/>
<line x1="1770.55" y1="134.2" x2="1777.55" y2="134.2" stroke="#000" stroke-width="1.9"/>
<circle cx="1767.55" cy="132.2" r="3.4" fill="none" stroke="#000" stroke-width="2"/>
<circle cx="1774.05" cy="128.7" r="3.4" fill="none" stroke="#000" stroke-width="2"/>
<circle cx="1780.55" cy="130.2" r="3.4" fill="none" stroke="#000" stroke-width="2"/>
<line x1="1798.6" y1="191.4" x2="1798.6" y2="196.4" stroke="#000" stroke-width="1.9"/>
<line x1="1795.1" y1="191.4" x2="1802.1" y2="191.4" stroke="#000" stroke-width="1.9"/>
<line x1="1795.1" y1="196.4" x2="1802.1" y2="196.4" stroke="#000" stroke-width="1.9"/>
<circle cx="1792.1" cy="194.4" r="3.4" fill="none" stroke="#000" stroke-width="2"/>
<circle cx="1798.6" cy="190.9" r="3.4" fill="none" stroke="#000" stroke-width="2"/>
<circle cx="1805.1" cy="192.4" r="3.4" fill="none" stroke="#000" stroke-width="2"/>
<line x1="1823.15" y1="291.5" x2="1823.15" y2="296.5" stroke="#000" stroke-width="1.9"/>
<line x1="1819.65" y1="291.5" x2="1826.65" y2="291.5" stroke="#000" stroke-width="1.9"/>
<line x1="1819.65" y1="296.5" x2="1826.65" y2="296.5" stroke="#000" stroke-width="1.9"/>
<circle cx="1816.65" cy="294.5" r="3.4" fill="none" stroke="#000" stroke-width="2"/>
<circle cx="1823.15" cy="291" r="3.4" fill="none" stroke="#000" stroke-width="2"/>
<circle cx="1829.65" cy="292.5" r="3.4" fill="none" stroke="#000" stroke-width="2"/>
<line x1="1847.7" y1="297.3" x2="1847.7" y2="302.3" stroke="#000" stroke-width="1.9"/>
<line x1="1844.2" y1="297.3" x2="1851.2" y2="297.3" stroke="#000" stroke-width="1.9"/>
<line x1="1844.2" y1="302.3" x2="1851.2" y2="302.3" stroke="#000" stroke-width="1.9"/>
<circle cx="1841.2" cy="300.3" r="3.4" fill="none" stroke="#000" stroke-width="2"/>
<circle cx="1847.7" cy="296.8" r="3.4" fill="none" stroke="#000" stroke-width="2"/>
<circle cx="1854.2" cy="298.3" r="3.4" fill="none" stroke="#000" stroke-width="2"/>
<line x1="1872.25" y1="235.1" x2="1872.25" y2="240.1" stroke="#000" stroke-width="1.9"/>
<line x1="1868.75" y1="235.1" x2="1875.75" y2="235.1" stroke="#000" stroke-width="1.9"/>
<line x1="1868.75" y1="240.1" x2="1875.75" y2="240.1" stroke="#000" stroke-width="1.9"/>
<circle cx="1865.75" cy="238.1" r="3.4" fill="none" stroke="#000" stroke-width="2"/>
<circle cx="1872.25" cy="234.6" r="3.4" fill="none" stroke="#000" stroke-width="2"/>
<circle cx="1878.75" cy="236.1" r="3.4" fill="none" stroke="#000" stroke-width="2"/>
<line x1="1896.8" y1="266.9" x2="1896.8" y2="271.9" stroke="#000" stroke-width="1.9"/>
<line x1="1893.3" y1="266.9" x2="1900.3" y2="266.9" stroke="#000" stroke-width="1.9"/>
<line x1="1893.3" y1="271.9" x2="1900.3" y2="271.9" stroke="#000" stroke-width="1.9"/>
<circle cx="1890.3" cy="269.9" r="3.4" fill="none" stroke="#000" stroke-width="2"/>
<circle cx="1896.8" cy="266.4" r="3.4" fill="none" stroke="#000" stroke-width="2"/>
<circle cx="1903.3" cy="267.9" r="3.4" fill="none" stroke="#000" stroke-width="2"/>
<line x1="1921.35" y1="280" x2="1921.35" y2="285" stroke="#000" stroke-width="1.9"/>
<line x1="1917.85" y1="280" x2="1924.85" y2="280" stroke="#000" stroke-width="1.9"/>
<line x1="1917.85" y1="285" x2="1924.85" y2="285" stroke="#000" stroke-width="1.9"/>
<circle cx="1914.85" cy="283" r="3.4" fill="none" stroke="#000" stroke-width="2"/>
<circle cx="1921.35" cy="279.5" r="3.4" fill="none" stroke="#000" stroke-width="2"/>
<circle cx="1927.85" cy="281" r="3.4" fill="none" stroke="#000" stroke-width="2"/>
<line x1="1945.9" y1="186" x2="1945.9" y2="193" stroke="#000" stroke-width="1.9"/>
<line x1="1941.9" y1="186" x2="1949.9" y2="186" stroke="#000" stroke-width="1.9"/>
<line x1="1941.9" y1="193" x2="1949.9" y2="193" stroke="#000" stroke-width="1.9"/>
<circle cx="1939.9" cy="184.5" r="3.6" fill="none" stroke="#000" stroke-width="2"/>
<circle cx="1945.9" cy="186.5" r="3.6" fill="none" stroke="#000" stroke-width="2"/>
<circle cx="1951.9" cy="190.5" r="3.6" fill="none" stroke="#000" stroke-width="2"/>
<circle cx="1940.9" cy="192.5" r="3.6" fill="none" stroke="#000" stroke-width="2"/>
<circle cx="1948.9" cy="183.5" r="3.6" fill="none" stroke="#000" stroke-width="2"/>
<text x="1235.8" y="65" font-size="27.2" text-anchor="middle" fill="#524f9c">PDA</text>
<line x1="1106.7" y1="72.3" x2="1357.6" y2="72.3" stroke="#231f20" stroke-width="2"/>
<text x="1452.8" y="65" font-size="27.2" text-anchor="middle" fill="#7c1116">BRCA</text>
<line x1="1379" y1="72.3" x2="1527.2" y2="72.3" stroke="#231f20" stroke-width="2"/>
<text x="1623.1" y="65" font-size="27.2" text-anchor="middle" fill="#0f502a">LUAD</text>
<line x1="1550.5" y1="72.3" x2="1698.7" y2="72.3" stroke="#231f20" stroke-width="2"/>
<text x="1785.1" y="65" font-size="27.2" text-anchor="middle" fill="#451467">COAD</text>
<line x1="1723.3" y1="72.3" x2="1847.1" y2="72.3" stroke="#231f20" stroke-width="2"/>
<text x="1908.3" y="65" font-size="27.2" text-anchor="middle" fill="#9c7124">PRAD</text>
<line x1="1871.4" y1="72.3" x2="1945.2" y2="72.3" stroke="#231f20" stroke-width="2"/>
<line x1="1369.2" y1="89" x2="1369.2" y2="113" stroke="#231f20" stroke-width="2"/>
<line x1="1369.2" y1="144" x2="1369.2" y2="171" stroke="#231f20" stroke-width="2"/>
<line x1="1369.2" y1="202.5" x2="1369.2" y2="225.7" stroke="#231f20" stroke-width="2"/>
<line x1="1541" y1="89" x2="1541" y2="113" stroke="#231f20" stroke-width="2"/>
<line x1="1541" y1="144" x2="1541" y2="171" stroke="#231f20" stroke-width="2"/>
<line x1="1541" y1="202.5" x2="1541" y2="225.7" stroke="#231f20" stroke-width="2"/>
<line x1="1713.7" y1="89" x2="1713.7" y2="113" stroke="#231f20" stroke-width="2"/>
<line x1="1713.7" y1="144" x2="1713.7" y2="171" stroke="#231f20" stroke-width="2"/>
<line x1="1713.7" y1="202.5" x2="1713.7" y2="225.7" stroke="#231f20" stroke-width="2"/>
<line x1="1860.2" y1="89" x2="1860.2" y2="113" stroke="#231f20" stroke-width="2"/>
<line x1="1860.2" y1="144" x2="1860.2" y2="171" stroke="#231f20" stroke-width="2"/>
<line x1="1860.2" y1="202.5" x2="1860.2" y2="225.7" stroke="#231f20" stroke-width="2"/>
<line x1="1129.6" y1="101.3" x2="1364" y2="101.3" stroke="#231f20" stroke-width="2"/>
<text x="1229.4" y="93.2" font-size="20.5" fill="#231f20"><tspan font-style="italic">p</tspan> &lt; 0.0001</text>
<line x1="1400.1" y1="164.6" x2="1533.8" y2="164.6" stroke="#231f20" stroke-width="2"/>
<text x="1417.5" y="156.3" font-size="20.5" fill="#231f20"><tspan font-style="italic">p</tspan> &lt; 0.0001</text>
<line x1="1591.7" y1="131.7" x2="1685.7" y2="131.7" stroke="#231f20" stroke-width="2"/>
<text x="1596" y="122.1" font-size="20.5" fill="#231f20"><tspan font-style="italic">p</tspan> &lt; 0.0001</text>
<line x1="1747.9" y1="110.8" x2="1807.2" y2="110.8" stroke="#231f20" stroke-width="2"/>
<text x="1738.3" y="101.3" font-size="20.5" fill="#231f20"><tspan font-style="italic">p</tspan> &lt; 0.0001</text>
<text x="1707" y="233" font-size="20.5" fill="#231f20" transform="rotate(-90 1707 233)"><tspan font-style="italic">p</tspan> = 0.0007</text>
<text x="1927" y="233" font-size="20.5" fill="#231f20" transform="rotate(-90 1927 233)"><tspan font-style="italic">p</tspan> = 0.0002</text>
<text x="1952.5" y="185" font-size="21" fill="#231f20" transform="rotate(-90 1952.5 185)"><tspan font-style="italic">p</tspan> &lt; 0.0001</text>
<text x="1121.14" y="347.8" font-size="24.4" text-anchor="end" transform="rotate(-90 1121.14 347.8)">HPDE</text>
<text x="1145.62" y="347.8" font-size="24.4" text-anchor="end" fill="#524f9c" transform="rotate(-90 1145.62 347.8)">AsPC-1</text>
<text x="1170.1" y="347.8" font-size="24.4" text-anchor="end" fill="#524f9c" transform="rotate(-90 1170.1 347.8)">MIA PaCa-2</text>
<text x="1194.58" y="347.8" font-size="24.4" text-anchor="end" fill="#524f9c" transform="rotate(-90 1194.58 347.8)">HPAC</text>
<text x="1219.06" y="347.8" font-size="24.4" text-anchor="end" fill="#524f9c" transform="rotate(-90 1219.06 347.8)">SUIT-2</text>
<text x="1243.54" y="347.8" font-size="24.4" text-anchor="end" fill="#524f9c" transform="rotate(-90 1243.54 347.8)">PA-TU-8988T</text>
<text x="1268.02" y="347.8" font-size="24.4" text-anchor="end" fill="#524f9c" transform="rotate(-90 1268.02 347.8)">PANC-1</text>
<text x="1292.5" y="347.8" font-size="24.4" text-anchor="end" fill="#524f9c" transform="rotate(-90 1292.5 347.8)">BxPC-3</text>
<text x="1316.98" y="347.8" font-size="24.4" text-anchor="end" fill="#524f9c" transform="rotate(-90 1316.98 347.8)">SW1990</text>
<text x="1341.46" y="347.8" font-size="24.4" text-anchor="end" fill="#524f9c" transform="rotate(-90 1341.46 347.8)">PA-TU-8902</text>
<text x="1365.94" y="347.8" font-size="24.4" text-anchor="end" fill="#524f9c" transform="rotate(-90 1365.94 347.8)">iKRas #1</text>
<text x="1390.42" y="347.8" font-size="24.4" text-anchor="end" transform="rotate(-90 1390.42 347.8)">MCF10A</text>
<text x="1414.9" y="347.8" font-size="24.4" text-anchor="end" fill="#7c1116" transform="rotate(-90 1414.9 347.8)">T-47D</text>
<text x="1439.38" y="347.8" font-size="24.4" text-anchor="end" fill="#7c1116" transform="rotate(-90 1439.38 347.8)">MCF7</text>
<text x="1463.86" y="347.8" font-size="24.4" text-anchor="end" fill="#7c1116" transform="rotate(-90 1463.86 347.8)">BT-474</text>
<text x="1488.34" y="347.8" font-size="24.4" text-anchor="end" fill="#7c1116" transform="rotate(-90 1488.34 347.8)">MDA-MB 157</text>
<text x="1512.82" y="347.8" font-size="24.4" text-anchor="end" fill="#7c1116" transform="rotate(-90 1512.82 347.8)">ZR-75-1</text>
<text x="1537.3" y="347.8" font-size="24.4" text-anchor="end" fill="#7c1116" transform="rotate(-90 1537.3 347.8)">MDA-MB 361</text>
<text x="1561.78" y="347.8" font-size="24.4" text-anchor="end" transform="rotate(-90 1561.78 347.8)">BEAS-2B</text>
<text x="1586.26" y="347.8" font-size="24.4" text-anchor="end" fill="#0f502a" transform="rotate(-90 1586.26 347.8)">NCI-H1299</text>
<text x="1610.74" y="347.8" font-size="24.4" text-anchor="end" fill="#0f502a" transform="rotate(-90 1610.74 347.8)">NCI-H596</text>
<text x="1635.22" y="347.8" font-size="24.4" text-anchor="end" fill="#0f502a" transform="rotate(-90 1635.22 347.8)">NCI-H838</text>
<text x="1659.7" y="347.8" font-size="24.4" text-anchor="end" fill="#0f502a" transform="rotate(-90 1659.7 347.8)">NCI-H1975</text>
<text x="1684.18" y="347.8" font-size="24.4" text-anchor="end" fill="#0f502a" transform="rotate(-90 1684.18 347.8)">A549</text>
<text x="1708.66" y="347.8" font-size="24.4" text-anchor="end" fill="#0f502a" transform="rotate(-90 1708.66 347.8)">Calu-1</text>
<text x="1733.14" y="347.8" font-size="24.4" text-anchor="end" transform="rotate(-90 1733.14 347.8)">FHC</text>
<text x="1757.62" y="347.8" font-size="24.4" text-anchor="end" fill="#451467" transform="rotate(-90 1757.62 347.8)">SW480</text>
<text x="1782.1" y="347.8" font-size="24.4" text-anchor="end" fill="#451467" transform="rotate(-90 1782.1 347.8)">SW620</text>
<text x="1806.58" y="347.8" font-size="24.4" text-anchor="end" fill="#451467" transform="rotate(-90 1806.58 347.8)" letter-spacing="0.65">DLD-1<tspan dy="-9.03" font-size="12.2">WT</tspan></text>
<text x="1831.06" y="347.8" font-size="24.4" text-anchor="end" fill="#451467" transform="rotate(-90 1831.06 347.8)" letter-spacing="0.65">HCT116<tspan dy="-9.03" font-size="12.2">WT</tspan></text>
<text x="1855.54" y="347.8" font-size="24.4" text-anchor="end" fill="#451467" transform="rotate(-90 1855.54 347.8)" letter-spacing="0.65">HCT116<tspan dy="-9.03" font-size="12.2">PIK3CA</tspan></text>
<text x="1880.02" y="347.8" font-size="24.4" text-anchor="end" transform="rotate(-90 1880.02 347.8)">RWPE-1</text>
<text x="1904.5" y="347.8" font-size="24.4" text-anchor="end" transform="rotate(-90 1904.5 347.8)">RWPE-2</text>
<text x="1928.98" y="347.8" font-size="24.4" text-anchor="end" fill="#9c7124" transform="rotate(-90 1928.98 347.8)">PC3</text>
<text x="1953.46" y="347.8" font-size="24.4" text-anchor="end" fill="#9c7124" transform="rotate(-90 1953.46 347.8)">DU-145</text>
<polygon points="1112,478.4 1101.75,495.7 1122.25,495.7" fill="#231f20"/>
<polygon points="1381.6,478.4 1371.35,495.7 1391.85,495.7" fill="#231f20"/>
<polygon points="1552.6,478.4 1542.35,495.7 1562.85,495.7" fill="#231f20"/>
<polygon points="1723.3,478.4 1713.05,495.7 1733.55,495.7" fill="#231f20"/>
<polygon points="1873.2,478.4 1862.95,495.7 1883.45,495.7" fill="#231f20"/>
<polygon points="1897.8,478.4 1887.55,495.7 1908.05,495.7" fill="#231f20"/>
<text x="-0.8" y="586.9" font-size="34" fill="#231f20" font-weight="bold">c</text>
<text x="539.5" y="591.2" font-size="29.5" text-anchor="middle"><tspan dy="-10.91" font-size="14.16">15</tspan><tspan dy="10.91">N-Argininosuccinate (M+4) from </tspan><tspan dy="-10.91" font-size="14.16">15</tspan><tspan dy="10.91">N-Arg tracing</tspan></text>
<line x1="115.7" y1="644.99" x2="115.7" y2="900.05" stroke="#000" stroke-width="2.5"/>
<line x1="104" y1="898.8" x2="115.7" y2="898.8" stroke="#000" stroke-width="2.5"/>
<text x="102.2" y="907.44" font-size="24.4" text-anchor="end">0</text>
<line x1="104" y1="848.29" x2="115.7" y2="848.29" stroke="#000" stroke-width="2.5"/>
<text x="102.2" y="856.92" font-size="24.4" text-anchor="end">25</text>
<line x1="104" y1="797.77" x2="115.7" y2="797.77" stroke="#000" stroke-width="2.5"/>
<text x="102.2" y="806.41" font-size="24.4" text-anchor="end">50</text>
<line x1="104" y1="747.26" x2="115.7" y2="747.26" stroke="#000" stroke-width="2.5"/>
<text x="102.2" y="755.9" font-size="24.4" text-anchor="end">75</text>
<line x1="104" y1="696.75" x2="115.7" y2="696.75" stroke="#000" stroke-width="2.5"/>
<text x="102.2" y="705.39" font-size="24.4" text-anchor="end">100</text>
<line x1="104" y1="646.24" x2="115.7" y2="646.24" stroke="#000" stroke-width="2.5"/>
<text x="102.2" y="654.87" font-size="24.4" text-anchor="end">125</text>
<text x="50.5" y="772" font-size="27" text-anchor="middle" transform="rotate(-90 50.5 772)">% labeled</text>
<line x1="104" y1="898.8" x2="993.7" y2="898.8" stroke="#000" stroke-width="2.5"/>
<line x1="135.1" y1="898.8" x2="135.1" y2="909.2" stroke="#000" stroke-width="2.5"/>
<line x1="159.68" y1="898.8" x2="159.68" y2="909.2" stroke="#000" stroke-width="2.5"/>
<line x1="184.26" y1="898.8" x2="184.26" y2="909.2" stroke="#000" stroke-width="2.5"/>
<line x1="208.84" y1="898.8" x2="208.84" y2="909.2" stroke="#000" stroke-width="2.5"/>
<line x1="233.42" y1="898.8" x2="233.42" y2="909.2" stroke="#000" stroke-width="2.5"/>
<line x1="258" y1="898.8" x2="258" y2="909.2" stroke="#000" stroke-width="2.5"/>
<line x1="282.58" y1="898.8" x2="282.58" y2="909.2" stroke="#000" stroke-width="2.5"/>
<line x1="307.16" y1="898.8" x2="307.16" y2="909.2" stroke="#000" stroke-width="2.5"/>
<line x1="331.74" y1="898.8" x2="331.74" y2="909.2" stroke="#000" stroke-width="2.5"/>
<line x1="356.32" y1="898.8" x2="356.32" y2="909.2" stroke="#000" stroke-width="2.5"/>
<line x1="380.9" y1="898.8" x2="380.9" y2="909.2" stroke="#000" stroke-width="2.5"/>
<line x1="405.48" y1="898.8" x2="405.48" y2="909.2" stroke="#000" stroke-width="2.5"/>
<line x1="430.06" y1="898.8" x2="430.06" y2="909.2" stroke="#000" stroke-width="2.5"/>
<line x1="454.64" y1="898.8" x2="454.64" y2="909.2" stroke="#000" stroke-width="2.5"/>
<line x1="479.22" y1="898.8" x2="479.22" y2="909.2" stroke="#000" stroke-width="2.5"/>
<line x1="503.8" y1="898.8" x2="503.8" y2="909.2" stroke="#000" stroke-width="2.5"/>
<line x1="528.38" y1="898.8" x2="528.38" y2="909.2" stroke="#000" stroke-width="2.5"/>
<line x1="552.96" y1="898.8" x2="552.96" y2="909.2" stroke="#000" stroke-width="2.5"/>
<line x1="577.54" y1="898.8" x2="577.54" y2="909.2" stroke="#000" stroke-width="2.5"/>
<line x1="602.12" y1="898.8" x2="602.12" y2="909.2" stroke="#000" stroke-width="2.5"/>
<line x1="626.7" y1="898.8" x2="626.7" y2="909.2" stroke="#000" stroke-width="2.5"/>
<line x1="651.28" y1="898.8" x2="651.28" y2="909.2" stroke="#000" stroke-width="2.5"/>
<line x1="675.86" y1="898.8" x2="675.86" y2="909.2" stroke="#000" stroke-width="2.5"/>
<line x1="700.44" y1="898.8" x2="700.44" y2="909.2" stroke="#000" stroke-width="2.5"/>
<line x1="725.02" y1="898.8" x2="725.02" y2="909.2" stroke="#000" stroke-width="2.5"/>
<line x1="749.6" y1="898.8" x2="749.6" y2="909.2" stroke="#000" stroke-width="2.5"/>
<line x1="774.18" y1="898.8" x2="774.18" y2="909.2" stroke="#000" stroke-width="2.5"/>
<line x1="798.76" y1="898.8" x2="798.76" y2="909.2" stroke="#000" stroke-width="2.5"/>
<line x1="823.34" y1="898.8" x2="823.34" y2="909.2" stroke="#000" stroke-width="2.5"/>
<line x1="847.92" y1="898.8" x2="847.92" y2="909.2" stroke="#000" stroke-width="2.5"/>
<line x1="872.5" y1="898.8" x2="872.5" y2="909.2" stroke="#000" stroke-width="2.5"/>
<line x1="897.08" y1="898.8" x2="897.08" y2="909.2" stroke="#000" stroke-width="2.5"/>
<line x1="921.66" y1="898.8" x2="921.66" y2="909.2" stroke="#000" stroke-width="2.5"/>
<line x1="946.24" y1="898.8" x2="946.24" y2="909.2" stroke="#000" stroke-width="2.5"/>
<line x1="970.82" y1="898.8" x2="970.82" y2="909.2" stroke="#000" stroke-width="2.5"/>
<rect x="126" y="696.75" width="18.2" height="202.05" fill="#5f5f5e" stroke="#000" stroke-width="2.4"/>
<rect x="150.58" y="696.75" width="18.2" height="202.05" fill="#4a8dcf" stroke="#000" stroke-width="2.4"/>
<rect x="175.16" y="696.75" width="18.2" height="202.05" fill="#4a8dcf" stroke="#000" stroke-width="2.4"/>
<rect x="199.74" y="696.75" width="18.2" height="202.05" fill="#4a8dcf" stroke="#000" stroke-width="2.4"/>
<rect x="224.32" y="696.75" width="18.2" height="202.05" fill="#4a8dcf" stroke="#000" stroke-width="2.4"/>
<rect x="248.9" y="709" width="18.2" height="189.8" fill="#4a8dcf" stroke="#000" stroke-width="2.4"/>
<rect x="273.48" y="701.5" width="18.2" height="197.3" fill="#4a8dcf" stroke="#000" stroke-width="2.4"/>
<rect x="298.06" y="696.75" width="18.2" height="202.05" fill="#4a8dcf" stroke="#000" stroke-width="2.4"/>
<rect x="322.64" y="717.7" width="18.2" height="181.1" fill="#4a8dcf" stroke="#000" stroke-width="2.4"/>
<rect x="347.22" y="696.75" width="18.2" height="202.05" fill="#4a8dcf" stroke="#000" stroke-width="2.4"/>
<rect x="371.8" y="696.75" width="18.2" height="202.05" fill="#4a8dcf" stroke="#000" stroke-width="2.4"/>
<rect x="396.38" y="696.75" width="18.2" height="202.05" fill="#5f5f5e" stroke="#000" stroke-width="2.4"/>
<rect x="420.96" y="696.75" width="18.2" height="202.05" fill="#f27f7c" stroke="#000" stroke-width="2.4"/>
<rect x="445.54" y="699" width="18.2" height="199.8" fill="#f27f7c" stroke="#000" stroke-width="2.4"/>
<rect x="470.12" y="696.75" width="18.2" height="202.05" fill="#f27f7c" stroke="#000" stroke-width="2.4"/>
<rect x="494.7" y="696.75" width="18.2" height="202.05" fill="#f27f7c" stroke="#000" stroke-width="2.4"/>
<rect x="519.28" y="696.75" width="18.2" height="202.05" fill="#f27f7c" stroke="#000" stroke-width="2.4"/>
<rect x="543.86" y="696.75" width="18.2" height="202.05" fill="#f27f7c" stroke="#000" stroke-width="2.4"/>
<rect x="568.44" y="696.75" width="18.2" height="202.05" fill="#5f5f5e" stroke="#000" stroke-width="2.4"/>
<rect x="593.02" y="696.75" width="18.2" height="202.05" fill="#109049" stroke="#000" stroke-width="2.4"/>
<rect x="617.6" y="762.5" width="18.2" height="136.3" fill="#109049" stroke="#000" stroke-width="2.4"/>
<rect x="642.18" y="696.75" width="18.2" height="202.05" fill="#109049" stroke="#000" stroke-width="2.4"/>
<rect x="666.76" y="696.75" width="18.2" height="202.05" fill="#109049" stroke="#000" stroke-width="2.4"/>
<rect x="691.34" y="696.75" width="18.2" height="202.05" fill="#109049" stroke="#000" stroke-width="2.4"/>
<rect x="715.92" y="718.6" width="18.2" height="180.2" fill="#109049" stroke="#000" stroke-width="2.4"/>
<rect x="765.08" y="696.75" width="18.2" height="202.05" fill="#b584c3" stroke="#000" stroke-width="2.4"/>
<rect x="789.66" y="696.75" width="18.2" height="202.05" fill="#b584c3" stroke="#000" stroke-width="2.4"/>
<rect x="814.24" y="696.75" width="18.2" height="202.05" fill="#b584c3" stroke="#000" stroke-width="2.4"/>
<rect x="838.82" y="696.75" width="18.2" height="202.05" fill="#b584c3" stroke="#000" stroke-width="2.4"/>
<rect x="863.4" y="696.75" width="18.2" height="202.05" fill="#b584c3" stroke="#000" stroke-width="2.4"/>
<rect x="887.98" y="696.75" width="18.2" height="202.05" fill="#5f5f5e" stroke="#000" stroke-width="2.4"/>
<rect x="912.56" y="696.75" width="18.2" height="202.05" fill="#5f5f5e" stroke="#000" stroke-width="2.4"/>
<rect x="937.14" y="696.75" width="18.2" height="202.05" fill="#fdd378" stroke="#000" stroke-width="2.4"/>
<rect x="961.72" y="696.75" width="18.2" height="202.05" fill="#fdd378" stroke="#000" stroke-width="2.4"/>
<rect x="124.7" y="691.15" width="20.8" height="11.5" rx="4.5" fill="#000"/>
<rect x="149.28" y="691.15" width="20.8" height="11.5" rx="4.5" fill="#000"/>
<rect x="173.86" y="691.15" width="20.8" height="11.5" rx="4.5" fill="#000"/>
<rect x="198.44" y="691.15" width="20.8" height="11.5" rx="4.5" fill="#000"/>
<rect x="223.02" y="691.15" width="20.8" height="11.5" rx="4.5" fill="#000"/>
<line x1="258" y1="706" x2="258" y2="712" stroke="#000" stroke-width="1.9"/>
<line x1="254.5" y1="706" x2="261.5" y2="706" stroke="#000" stroke-width="1.9"/>
<line x1="254.5" y1="712" x2="261.5" y2="712" stroke="#000" stroke-width="1.9"/>
<circle cx="254" cy="713" r="3.6" fill="none" stroke="#000" stroke-width="2"/>
<circle cx="256" cy="704" r="3.6" fill="none" stroke="#000" stroke-width="2"/>
<circle cx="262" cy="707" r="3.6" fill="none" stroke="#000" stroke-width="2"/>
<circle cx="264" cy="710" r="3.6" fill="none" stroke="#000" stroke-width="2"/>
<line x1="282.58" y1="698.5" x2="282.58" y2="704.5" stroke="#000" stroke-width="1.9"/>
<line x1="279.08" y1="698.5" x2="286.08" y2="698.5" stroke="#000" stroke-width="1.9"/>
<line x1="279.08" y1="704.5" x2="286.08" y2="704.5" stroke="#000" stroke-width="1.9"/>
<circle cx="278.58" cy="705.5" r="3.6" fill="none" stroke="#000" stroke-width="2"/>
<circle cx="280.58" cy="696.5" r="3.6" fill="none" stroke="#000" stroke-width="2"/>
<circle cx="286.58" cy="699.5" r="3.6" fill="none" stroke="#000" stroke-width="2"/>
<circle cx="288.58" cy="702.5" r="3.6" fill="none" stroke="#000" stroke-width="2"/>
<circle cx="302.16" cy="696.75" r="3.6" fill="none" stroke="#000" stroke-width="2"/>
<circle cx="312.16" cy="696.75" r="3.6" fill="none" stroke="#000" stroke-width="2"/>
<circle cx="307.16" cy="696.75" r="3.6" fill="none" stroke="#000" stroke-width="2"/>
<line x1="331.74" y1="714.7" x2="331.74" y2="720.7" stroke="#000" stroke-width="1.9"/>
<line x1="328.24" y1="714.7" x2="335.24" y2="714.7" stroke="#000" stroke-width="1.9"/>
<line x1="328.24" y1="720.7" x2="335.24" y2="720.7" stroke="#000" stroke-width="1.9"/>
<circle cx="327.74" cy="721.7" r="3.6" fill="none" stroke="#000" stroke-width="2"/>
<circle cx="329.74" cy="712.7" r="3.6" fill="none" stroke="#000" stroke-width="2"/>
<circle cx="335.74" cy="715.7" r="3.6" fill="none" stroke="#000" stroke-width="2"/>
<circle cx="337.74" cy="718.7" r="3.6" fill="none" stroke="#000" stroke-width="2"/>
<rect x="345.92" y="691.15" width="20.8" height="11.5" rx="4.5" fill="#000"/>
<rect x="370.5" y="691.15" width="20.8" height="11.5" rx="4.5" fill="#000"/>
<rect x="395.08" y="691.15" width="20.8" height="11.5" rx="4.5" fill="#000"/>
<rect x="419.66" y="691.15" width="20.8" height="11.5" rx="4.5" fill="#000"/>
<line x1="454.64" y1="696" x2="454.64" y2="702" stroke="#000" stroke-width="1.9"/>
<line x1="451.14" y1="696" x2="458.14" y2="696" stroke="#000" stroke-width="1.9"/>
<line x1="451.14" y1="702" x2="458.14" y2="702" stroke="#000" stroke-width="1.9"/>
<circle cx="450.64" cy="703" r="3.6" fill="none" stroke="#000" stroke-width="2"/>
<circle cx="452.64" cy="694" r="3.6" fill="none" stroke="#000" stroke-width="2"/>
<circle cx="458.64" cy="697" r="3.6" fill="none" stroke="#000" stroke-width="2"/>
<circle cx="460.64" cy="700" r="3.6" fill="none" stroke="#000" stroke-width="2"/>
<rect x="468.82" y="691.15" width="20.8" height="11.5" rx="4.5" fill="#000"/>
<rect x="493.4" y="691.15" width="20.8" height="11.5" rx="4.5" fill="#000"/>
<rect x="517.98" y="691.15" width="20.8" height="11.5" rx="4.5" fill="#000"/>
<circle cx="547.96" cy="696.75" r="3.6" fill="none" stroke="#000" stroke-width="2"/>
<circle cx="557.96" cy="696.75" r="3.6" fill="none" stroke="#000" stroke-width="2"/>
<circle cx="552.96" cy="696.75" r="3.6" fill="none" stroke="#000" stroke-width="2"/>
<rect x="567.14" y="691.15" width="20.8" height="11.5" rx="4.5" fill="#000"/>
<rect x="591.72" y="691.15" width="20.8" height="11.5" rx="4.5" fill="#000"/>
<line x1="626.7" y1="759.5" x2="626.7" y2="765.5" stroke="#000" stroke-width="1.9"/>
<line x1="623.2" y1="759.5" x2="630.2" y2="759.5" stroke="#000" stroke-width="1.9"/>
<line x1="623.2" y1="765.5" x2="630.2" y2="765.5" stroke="#000" stroke-width="1.9"/>
<circle cx="622.7" cy="766.5" r="3.6" fill="none" stroke="#000" stroke-width="2"/>
<circle cx="624.7" cy="757.5" r="3.6" fill="none" stroke="#000" stroke-width="2"/>
<circle cx="630.7" cy="760.5" r="3.6" fill="none" stroke="#000" stroke-width="2"/>
<circle cx="632.7" cy="763.5" r="3.6" fill="none" stroke="#000" stroke-width="2"/>
<rect x="640.88" y="691.15" width="20.8" height="11.5" rx="4.5" fill="#000"/>
<rect x="665.46" y="691.15" width="20.8" height="11.5" rx="4.5" fill="#000"/>
<circle cx="695.44" cy="696.75" r="3.6" fill="none" stroke="#000" stroke-width="2"/>
<circle cx="705.44" cy="696.75" r="3.6" fill="none" stroke="#000" stroke-width="2"/>
<circle cx="700.44" cy="696.75" r="3.6" fill="none" stroke="#000" stroke-width="2"/>
<line x1="725.02" y1="675.7" x2="725.02" y2="760.2" stroke="#000" stroke-width="1.9"/>
<line x1="720.52" y1="675.7" x2="729.52" y2="675.7" stroke="#000" stroke-width="1.9"/>
<line x1="720.52" y1="760.2" x2="729.52" y2="760.2" stroke="#000" stroke-width="1.9"/>
<circle cx="719.02" cy="696.75" r="3.6" fill="none" stroke="#000" stroke-width="2"/>
<circle cx="725.02" cy="696.75" r="3.6" fill="none" stroke="#000" stroke-width="2"/>
<circle cx="731.02" cy="696.75" r="3.6" fill="none" stroke="#000" stroke-width="2"/>
<circle cx="725.02" cy="782" r="3.8" fill="none" stroke="#000" stroke-width="2"/>
<circle cx="744.6" cy="898.8" r="4.4" fill="none" stroke="#000" stroke-width="2"/>
<circle cx="754.6" cy="898.8" r="4.4" fill="none" stroke="#000" stroke-width="2"/>
<line x1="749.6" y1="893.8" x2="749.6" y2="903.8" stroke="#000" stroke-width="1.9"/>
<rect x="763.78" y="691.15" width="20.8" height="11.5" rx="4.5" fill="#000"/>
<line x1="798.76" y1="696.75" x2="798.76" y2="712" stroke="#000" stroke-width="1.9"/>
<line x1="793.76" y1="711" x2="803.76" y2="711" stroke="#000" stroke-width="1.9"/>
<circle cx="792.76" cy="696.75" r="3.6" fill="none" stroke="#000" stroke-width="2"/>
<circle cx="798.76" cy="696.75" r="3.6" fill="none" stroke="#000" stroke-width="2"/>
<circle cx="804.76" cy="696.75" r="3.6" fill="none" stroke="#000" stroke-width="2"/>
<circle cx="798.76" cy="716" r="4" fill="none" stroke="#000" stroke-width="2"/>
<line x1="823.34" y1="696.75" x2="823.34" y2="705.5" stroke="#000" stroke-width="1.9"/>
<line x1="818.34" y1="704.5" x2="828.34" y2="704.5" stroke="#000" stroke-width="1.9"/>
<circle cx="817.34" cy="696.75" r="3.6" fill="none" stroke="#000" stroke-width="2"/>
<circle cx="823.34" cy="696.75" r="3.6" fill="none" stroke="#000" stroke-width="2"/>
<circle cx="829.34" cy="696.75" r="3.6" fill="none" stroke="#000" stroke-width="2"/>
<circle cx="823.34" cy="709.5" r="4" fill="none" stroke="#000" stroke-width="2"/>
<rect x="837.52" y="691.15" width="20.8" height="11.5" rx="4.5" fill="#000"/>
<rect x="862.1" y="691.15" width="20.8" height="11.5" rx="4.5" fill="#000"/>
<rect x="886.68" y="691.15" width="20.8" height="11.5" rx="4.5" fill="#000"/>
<rect x="911.26" y="691.15" width="20.8" height="11.5" rx="4.5" fill="#000"/>
<rect x="935.84" y="691.15" width="20.8" height="11.5" rx="4.5" fill="#000"/>
<rect x="960.42" y="691.15" width="20.8" height="11.5" rx="4.5" fill="#000"/>
<text x="264.5" y="635.5" font-size="29" text-anchor="middle" fill="#524f9c">PDA</text>
<line x1="128.8" y1="643" x2="384" y2="643" stroke="#231f20" stroke-width="2"/>
<text x="482.8" y="635.5" font-size="29" text-anchor="middle" fill="#7c1116">BRCA</text>
<line x1="401.3" y1="643" x2="557.5" y2="643" stroke="#231f20" stroke-width="2"/>
<text x="652" y="635.5" font-size="29" text-anchor="middle" fill="#0f502a">LUAD</text>
<line x1="573.2" y1="643" x2="725.4" y2="643" stroke="#231f20" stroke-width="2"/>
<text x="814.5" y="635.5" font-size="29" text-anchor="middle" fill="#451467">COAD</text>
<line x1="746.2" y1="643" x2="873.5" y2="643" stroke="#231f20" stroke-width="2"/>
<text x="937.3" y="635.5" font-size="29" text-anchor="middle" fill="#9c7124">PRAD</text>
<line x1="894.4" y1="643" x2="972" y2="643" stroke="#231f20" stroke-width="2"/>
<text x="755" y="868.5" font-size="20.5" transform="rotate(-90 755 868.5)">ND</text>
<text x="143.74" y="912.8" font-size="24.4" text-anchor="end" transform="rotate(-90 143.74 912.8)">HPDE</text>
<text x="168.2" y="912.8" font-size="24.4" text-anchor="end" fill="#524f9c" transform="rotate(-90 168.2 912.8)">AsPC-1</text>
<text x="192.66" y="912.8" font-size="24.4" text-anchor="end" fill="#524f9c" transform="rotate(-90 192.66 912.8)">MIA PaCa-2</text>
<text x="217.12" y="912.8" font-size="24.4" text-anchor="end" fill="#524f9c" transform="rotate(-90 217.12 912.8)">HPAC</text>
<text x="241.58" y="912.8" font-size="24.4" text-anchor="end" fill="#524f9c" transform="rotate(-90 241.58 912.8)">SUIT-2</text>
<text x="266.04" y="912.8" font-size="24.4" text-anchor="end" fill="#524f9c" transform="rotate(-90 266.04 912.8)">PA-TU-8988T</text>
<text x="290.5" y="912.8" font-size="24.4" text-anchor="end" fill="#524f9c" transform="rotate(-90 290.5 912.8)">PANC-1</text>
<text x="314.96" y="912.8" font-size="24.4" text-anchor="end" fill="#524f9c" transform="rotate(-90 314.96 912.8)">BxPC-3</text>
<text x="339.42" y="912.8" font-size="24.4" text-anchor="end" fill="#524f9c" transform="rotate(-90 339.42 912.8)">SW1990</text>
<text x="363.88" y="912.8" font-size="24.4" text-anchor="end" fill="#524f9c" transform="rotate(-90 363.88 912.8)">PA-TU-8902</text>
<text x="388.34" y="912.8" font-size="24.4" text-anchor="end" fill="#524f9c" transform="rotate(-90 388.34 912.8)">iKRas #1</text>
<text x="412.8" y="912.8" font-size="24.4" text-anchor="end" transform="rotate(-90 412.8 912.8)">MCF10A</text>
<text x="437.26" y="912.8" font-size="24.4" text-anchor="end" fill="#7c1116" transform="rotate(-90 437.26 912.8)">T-47D</text>
<text x="461.72" y="912.8" font-size="24.4" text-anchor="end" fill="#7c1116" transform="rotate(-90 461.72 912.8)">MCF7</text>
<text x="486.18" y="912.8" font-size="24.4" text-anchor="end" fill="#7c1116" transform="rotate(-90 486.18 912.8)">BT-474</text>
<text x="510.64" y="912.8" font-size="24.4" text-anchor="end" fill="#7c1116" transform="rotate(-90 510.64 912.8)">MDA-MB 157</text>
<text x="535.1" y="912.8" font-size="24.4" text-anchor="end" fill="#7c1116" transform="rotate(-90 535.1 912.8)">ZR-75-1</text>
<text x="559.56" y="912.8" font-size="24.4" text-anchor="end" fill="#7c1116" transform="rotate(-90 559.56 912.8)">MDA-MB 361</text>
<text x="584.02" y="912.8" font-size="24.4" text-anchor="end" transform="rotate(-90 584.02 912.8)">BEAS-2B</text>
<text x="608.48" y="912.8" font-size="24.4" text-anchor="end" fill="#0f502a" transform="rotate(-90 608.48 912.8)">NCI-H1299</text>
<text x="632.94" y="912.8" font-size="24.4" text-anchor="end" fill="#0f502a" transform="rotate(-90 632.94 912.8)">NCI-H596</text>
<text x="657.4" y="912.8" font-size="24.4" text-anchor="end" fill="#0f502a" transform="rotate(-90 657.4 912.8)">NCI-H838</text>
<text x="681.86" y="912.8" font-size="24.4" text-anchor="end" fill="#0f502a" transform="rotate(-90 681.86 912.8)">NCI-H1975</text>
<text x="706.32" y="912.8" font-size="24.4" text-anchor="end" fill="#0f502a" transform="rotate(-90 706.32 912.8)">A549</text>
<text x="730.78" y="912.8" font-size="24.4" text-anchor="end" fill="#0f502a" transform="rotate(-90 730.78 912.8)">Calu-1</text>
<text x="755.24" y="912.8" font-size="24.4" text-anchor="end" transform="rotate(-90 755.24 912.8)">FHC</text>
<text x="779.7" y="912.8" font-size="24.4" text-anchor="end" fill="#451467" transform="rotate(-90 779.7 912.8)">SW480</text>
<text x="804.16" y="912.8" font-size="24.4" text-anchor="end" fill="#451467" transform="rotate(-90 804.16 912.8)">SW620</text>
<text x="828.62" y="912.8" font-size="24.4" text-anchor="end" fill="#451467" transform="rotate(-90 828.62 912.8)" letter-spacing="0.65">DLD-1<tspan dy="-9.03" font-size="12.2">WT</tspan></text>
<text x="853.08" y="912.8" font-size="24.4" text-anchor="end" fill="#451467" transform="rotate(-90 853.08 912.8)" letter-spacing="0.65">HCT116<tspan dy="-9.03" font-size="12.2">WT</tspan></text>
<text x="877.54" y="912.8" font-size="24.4" text-anchor="end" fill="#451467" transform="rotate(-90 877.54 912.8)" letter-spacing="0.65">HCT116<tspan dy="-9.03" font-size="12.2">PIK3CA</tspan></text>
<text x="902" y="912.8" font-size="24.4" text-anchor="end" transform="rotate(-90 902 912.8)">RWPE-1</text>
<text x="926.46" y="912.8" font-size="24.4" text-anchor="end" transform="rotate(-90 926.46 912.8)">RWPE-2</text>
<text x="950.92" y="912.8" font-size="24.4" text-anchor="end" fill="#9c7124" transform="rotate(-90 950.92 912.8)">PC3</text>
<text x="975.38" y="912.8" font-size="24.4" text-anchor="end" fill="#9c7124" transform="rotate(-90 975.38 912.8)">DU-145</text>
<polygon points="134.5,1044.4 124.25,1062.3 144.75,1062.3" fill="#231f20"/>
<polygon points="404.2,1044.4 393.95,1062.3 414.45,1062.3" fill="#231f20"/>
<polygon points="574.9,1044.4 564.65,1062.3 585.15,1062.3" fill="#231f20"/>
<polygon points="745.6,1044.4 735.35,1062.3 755.85,1062.3" fill="#231f20"/>
<polygon points="895.8,1044.4 885.55,1062.3 906.05,1062.3" fill="#231f20"/>
<polygon points="919.8,1044.4 909.55,1062.3 930.05,1062.3" fill="#231f20"/>
<text x="1006.7" y="585.6" font-size="34" fill="#231f20" font-weight="bold">d</text>
<text x="1541.6" y="589.8" font-size="29.5" text-anchor="middle"><tspan dy="-10.91" font-size="14.16">15</tspan><tspan dy="10.91">N-isotopologues from </tspan><tspan dy="-10.91" font-size="14.16">15</tspan><tspan dy="10.91">N-Gln tracing</tspan></text>
<text x="1541.3" y="625.5" font-size="29.5" text-anchor="middle">Plasma levels Gln/Arg</text>
<line x1="1237.6" y1="626.25" x2="1237.6" y2="860.25" stroke="#000" stroke-width="2.5"/>
<line x1="1227.4" y1="859" x2="1237.6" y2="859" stroke="#000" stroke-width="2.5"/>
<text x="1225.2" y="865.24" font-size="24.4" text-anchor="end">0</text>
<line x1="1227.4" y1="835.85" x2="1237.6" y2="835.85" stroke="#000" stroke-width="2.5"/>
<text x="1225.2" y="842.09" font-size="24.4" text-anchor="end">10</text>
<line x1="1227.4" y1="812.7" x2="1237.6" y2="812.7" stroke="#000" stroke-width="2.5"/>
<text x="1225.2" y="818.94" font-size="24.4" text-anchor="end">20</text>
<line x1="1227.4" y1="789.55" x2="1237.6" y2="789.55" stroke="#000" stroke-width="2.5"/>
<text x="1225.2" y="795.79" font-size="24.4" text-anchor="end">30</text>
<line x1="1227.4" y1="766.4" x2="1237.6" y2="766.4" stroke="#000" stroke-width="2.5"/>
<text x="1225.2" y="772.64" font-size="24.4" text-anchor="end">40</text>
<line x1="1227.4" y1="743.25" x2="1237.6" y2="743.25" stroke="#000" stroke-width="2.5"/>
<text x="1225.2" y="749.49" font-size="24.4" text-anchor="end">50</text>
<line x1="1227.4" y1="720.1" x2="1237.6" y2="720.1" stroke="#000" stroke-width="2.5"/>
<text x="1225.2" y="726.34" font-size="24.4" text-anchor="end">60</text>
<line x1="1227.4" y1="696.95" x2="1237.6" y2="696.95" stroke="#000" stroke-width="2.5"/>
<text x="1225.2" y="703.19" font-size="24.4" text-anchor="end">70</text>
<line x1="1227.4" y1="673.8" x2="1237.6" y2="673.8" stroke="#000" stroke-width="2.5"/>
<text x="1225.2" y="680.04" font-size="24.4" text-anchor="end">80</text>
<line x1="1227.4" y1="650.65" x2="1237.6" y2="650.65" stroke="#000" stroke-width="2.5"/>
<text x="1225.2" y="656.89" font-size="24.4" text-anchor="end">90</text>
<line x1="1227.4" y1="627.5" x2="1237.6" y2="627.5" stroke="#000" stroke-width="2.5"/>
<text x="1225.2" y="633.74" font-size="24.4" text-anchor="end">100</text>
<text x="1179.5" y="735" font-size="27" text-anchor="middle" transform="rotate(-90 1179.5 735)">% labeled</text>
<line x1="1227.4" y1="859" x2="1838.2" y2="859" stroke="#000" stroke-width="2.5"/>
<line x1="1267" y1="859" x2="1267" y2="869" stroke="#000" stroke-width="2.5"/>
<line x1="1303.2" y1="859" x2="1303.2" y2="869" stroke="#000" stroke-width="2.5"/>
<line x1="1339.4" y1="859" x2="1339.4" y2="869" stroke="#000" stroke-width="2.5"/>
<line x1="1375.6" y1="859" x2="1375.6" y2="869" stroke="#000" stroke-width="2.5"/>
<line x1="1411.8" y1="859" x2="1411.8" y2="869" stroke="#000" stroke-width="2.5"/>
<line x1="1448" y1="859" x2="1448" y2="869" stroke="#000" stroke-width="2.5"/>
<line x1="1484.2" y1="859" x2="1484.2" y2="869" stroke="#000" stroke-width="2.5"/>
<line x1="1520.4" y1="859" x2="1520.4" y2="869" stroke="#000" stroke-width="2.5"/>
<line x1="1556.6" y1="859" x2="1556.6" y2="869" stroke="#000" stroke-width="2.5"/>
<line x1="1592.8" y1="859" x2="1592.8" y2="869" stroke="#000" stroke-width="2.5"/>
<line x1="1629" y1="859" x2="1629" y2="869" stroke="#000" stroke-width="2.5"/>
<line x1="1665.2" y1="859" x2="1665.2" y2="869" stroke="#000" stroke-width="2.5"/>
<line x1="1701.4" y1="859" x2="1701.4" y2="869" stroke="#000" stroke-width="2.5"/>
<line x1="1737.6" y1="859" x2="1737.6" y2="869" stroke="#000" stroke-width="2.5"/>
<line x1="1773.8" y1="859" x2="1773.8" y2="869" stroke="#000" stroke-width="2.5"/>
<line x1="1810" y1="859" x2="1810" y2="869" stroke="#000" stroke-width="2.5"/>
<rect x="1252.7" y="635.4" width="28.6" height="223.6" fill="#f27f7c" stroke="#000" stroke-width="2.4"/>
<line x1="1267" y1="633.4" x2="1267" y2="637.4" stroke="#000" stroke-width="1.9"/>
<line x1="1262" y1="633.4" x2="1272" y2="633.4" stroke="#000" stroke-width="1.9"/>
<line x1="1262" y1="637.4" x2="1272" y2="637.4" stroke="#000" stroke-width="1.9"/>
<circle cx="1256.05" cy="637.4" r="4.2" fill="none" stroke="#000" stroke-width="2"/>
<circle cx="1263.35" cy="632.4" r="4.2" fill="none" stroke="#000" stroke-width="2"/>
<circle cx="1270.65" cy="634.4" r="4.2" fill="none" stroke="#000" stroke-width="2"/>
<circle cx="1277.95" cy="633.4" r="4.2" fill="none" stroke="#000" stroke-width="2"/>
<rect x="1288.9" y="704.8" width="28.6" height="154.2" fill="#f27f7c" stroke="#000" stroke-width="2.4"/>
<line x1="1303.2" y1="702.8" x2="1303.2" y2="706.8" stroke="#000" stroke-width="1.9"/>
<line x1="1298.2" y1="702.8" x2="1308.2" y2="702.8" stroke="#000" stroke-width="1.9"/>
<line x1="1298.2" y1="706.8" x2="1308.2" y2="706.8" stroke="#000" stroke-width="1.9"/>
<circle cx="1292.25" cy="706.8" r="4.2" fill="none" stroke="#000" stroke-width="2"/>
<circle cx="1299.55" cy="701.8" r="4.2" fill="none" stroke="#000" stroke-width="2"/>
<circle cx="1306.85" cy="703.8" r="4.2" fill="none" stroke="#000" stroke-width="2"/>
<circle cx="1314.15" cy="702.8" r="4.2" fill="none" stroke="#000" stroke-width="2"/>
<rect x="1325.1" y="748.2" width="28.6" height="110.8" fill="#f27f7c" stroke="#000" stroke-width="2.4"/>
<line x1="1339.4" y1="746.2" x2="1339.4" y2="750.2" stroke="#000" stroke-width="1.9"/>
<line x1="1334.4" y1="746.2" x2="1344.4" y2="746.2" stroke="#000" stroke-width="1.9"/>
<line x1="1334.4" y1="750.2" x2="1344.4" y2="750.2" stroke="#000" stroke-width="1.9"/>
<circle cx="1328.45" cy="750.2" r="4.2" fill="none" stroke="#000" stroke-width="2"/>
<circle cx="1335.75" cy="745.2" r="4.2" fill="none" stroke="#000" stroke-width="2"/>
<circle cx="1343.05" cy="747.2" r="4.2" fill="none" stroke="#000" stroke-width="2"/>
<circle cx="1350.35" cy="746.2" r="4.2" fill="none" stroke="#000" stroke-width="2"/>
<rect x="1361.3" y="704.8" width="28.6" height="154.2" fill="#f27f7c" stroke="#000" stroke-width="2.4"/>
<line x1="1375.6" y1="702.8" x2="1375.6" y2="706.8" stroke="#000" stroke-width="1.9"/>
<line x1="1370.6" y1="702.8" x2="1380.6" y2="702.8" stroke="#000" stroke-width="1.9"/>
<line x1="1370.6" y1="706.8" x2="1380.6" y2="706.8" stroke="#000" stroke-width="1.9"/>
<circle cx="1364.65" cy="706.8" r="4.2" fill="none" stroke="#000" stroke-width="2"/>
<circle cx="1371.95" cy="701.8" r="4.2" fill="none" stroke="#000" stroke-width="2"/>
<circle cx="1379.25" cy="703.8" r="4.2" fill="none" stroke="#000" stroke-width="2"/>
<circle cx="1386.55" cy="702.8" r="4.2" fill="none" stroke="#000" stroke-width="2"/>
<rect x="1397.5" y="833.4" width="28.6" height="25.6" fill="#f27f7c" stroke="#000" stroke-width="2.4"/>
<line x1="1411.8" y1="831.4" x2="1411.8" y2="835.4" stroke="#000" stroke-width="1.9"/>
<line x1="1406.8" y1="831.4" x2="1416.8" y2="831.4" stroke="#000" stroke-width="1.9"/>
<line x1="1406.8" y1="835.4" x2="1416.8" y2="835.4" stroke="#000" stroke-width="1.9"/>
<circle cx="1400.85" cy="835.4" r="4.2" fill="none" stroke="#000" stroke-width="2"/>
<circle cx="1408.15" cy="830.4" r="4.2" fill="none" stroke="#000" stroke-width="2"/>
<circle cx="1415.45" cy="832.4" r="4.2" fill="none" stroke="#000" stroke-width="2"/>
<circle cx="1422.75" cy="831.4" r="4.2" fill="none" stroke="#000" stroke-width="2"/>
<circle cx="1437.8" cy="859" r="4" fill="none" stroke="#000" stroke-width="2.2"/>
<circle cx="1444.6" cy="859" r="4" fill="none" stroke="#000" stroke-width="2.2"/>
<circle cx="1451.4" cy="859" r="4" fill="none" stroke="#000" stroke-width="2.2"/>
<circle cx="1458.2" cy="859" r="4" fill="none" stroke="#000" stroke-width="2.2"/>
<line x1="1448" y1="854" x2="1448" y2="864" stroke="#000" stroke-width="2"/>
<text x="1455.5" y="838.7" font-size="20.5" transform="rotate(-90 1455.5 838.7)">ND</text>
<rect x="1469.9" y="846.4" width="28.6" height="12.6" fill="#f27f7c" stroke="#000" stroke-width="2.4"/>
<line x1="1484.2" y1="844.4" x2="1484.2" y2="848.4" stroke="#000" stroke-width="1.9"/>
<line x1="1479.2" y1="844.4" x2="1489.2" y2="844.4" stroke="#000" stroke-width="1.9"/>
<line x1="1479.2" y1="848.4" x2="1489.2" y2="848.4" stroke="#000" stroke-width="1.9"/>
<circle cx="1473.25" cy="848.4" r="4.2" fill="none" stroke="#000" stroke-width="2"/>
<circle cx="1480.55" cy="843.4" r="4.2" fill="none" stroke="#000" stroke-width="2"/>
<circle cx="1487.85" cy="845.4" r="4.2" fill="none" stroke="#000" stroke-width="2"/>
<circle cx="1495.15" cy="844.4" r="4.2" fill="none" stroke="#000" stroke-width="2"/>
<rect x="1506.1" y="847.9" width="28.6" height="11.1" fill="#f27f7c" stroke="#000" stroke-width="2.4"/>
<line x1="1520.4" y1="845.9" x2="1520.4" y2="849.9" stroke="#000" stroke-width="1.9"/>
<line x1="1515.4" y1="845.9" x2="1525.4" y2="845.9" stroke="#000" stroke-width="1.9"/>
<line x1="1515.4" y1="849.9" x2="1525.4" y2="849.9" stroke="#000" stroke-width="1.9"/>
<circle cx="1509.45" cy="849.9" r="4.2" fill="none" stroke="#000" stroke-width="2"/>
<circle cx="1516.75" cy="844.9" r="4.2" fill="none" stroke="#000" stroke-width="2"/>
<circle cx="1524.05" cy="846.9" r="4.2" fill="none" stroke="#000" stroke-width="2"/>
<circle cx="1531.35" cy="845.9" r="4.2" fill="none" stroke="#000" stroke-width="2"/>
<circle cx="1546.4" cy="859" r="4" fill="none" stroke="#000" stroke-width="2.2"/>
<circle cx="1553.2" cy="859" r="4" fill="none" stroke="#000" stroke-width="2.2"/>
<circle cx="1560" cy="859" r="4" fill="none" stroke="#000" stroke-width="2.2"/>
<circle cx="1566.8" cy="859" r="4" fill="none" stroke="#000" stroke-width="2.2"/>
<line x1="1556.6" y1="854" x2="1556.6" y2="864" stroke="#000" stroke-width="2"/>
<text x="1561.1" y="838.7" font-size="20.5" transform="rotate(-90 1561.1 838.7)">ND</text>
<circle cx="1582.6" cy="859" r="4" fill="none" stroke="#000" stroke-width="2.2"/>
<circle cx="1589.4" cy="859" r="4" fill="none" stroke="#000" stroke-width="2.2"/>
<circle cx="1596.2" cy="859" r="4" fill="none" stroke="#000" stroke-width="2.2"/>
<circle cx="1603" cy="859" r="4" fill="none" stroke="#000" stroke-width="2.2"/>
<line x1="1592.8" y1="854" x2="1592.8" y2="864" stroke="#000" stroke-width="2"/>
<text x="1602.2" y="838.7" font-size="20.5" transform="rotate(-90 1602.2 838.7)">ND</text>
<circle cx="1618.8" cy="859" r="4" fill="none" stroke="#000" stroke-width="2.2"/>
<circle cx="1625.6" cy="859" r="4" fill="none" stroke="#000" stroke-width="2.2"/>
<circle cx="1632.4" cy="859" r="4" fill="none" stroke="#000" stroke-width="2.2"/>
<circle cx="1639.2" cy="859" r="4" fill="none" stroke="#000" stroke-width="2.2"/>
<line x1="1629" y1="854" x2="1629" y2="864" stroke="#000" stroke-width="2"/>
<text x="1640.1" y="838.7" font-size="20.5" transform="rotate(-90 1640.1 838.7)">ND</text>
<circle cx="1655" cy="859" r="4" fill="none" stroke="#000" stroke-width="2.2"/>
<circle cx="1661.8" cy="859" r="4" fill="none" stroke="#000" stroke-width="2.2"/>
<circle cx="1668.6" cy="859" r="4" fill="none" stroke="#000" stroke-width="2.2"/>
<circle cx="1675.4" cy="859" r="4" fill="none" stroke="#000" stroke-width="2.2"/>
<line x1="1665.2" y1="854" x2="1665.2" y2="864" stroke="#000" stroke-width="2"/>
<text x="1674.3" y="838.7" font-size="20.5" transform="rotate(-90 1674.3 838.7)">ND</text>
<rect x="1687.1" y="752.5" width="28.6" height="106.5" fill="#f27f7c" stroke="#000" stroke-width="2.4"/>
<line x1="1701.4" y1="732.9" x2="1701.4" y2="772.2" stroke="#000" stroke-width="1.9"/>
<line x1="1693.4" y1="732.9" x2="1709.4" y2="732.9" stroke="#000" stroke-width="1.9"/>
<line x1="1693.4" y1="772.2" x2="1709.4" y2="772.2" stroke="#000" stroke-width="1.9"/>
<circle cx="1701.4" cy="733.9" r="4.2" fill="none" stroke="#000" stroke-width="2"/>
<circle cx="1691.4" cy="749.5" r="4.2" fill="none" stroke="#000" stroke-width="2"/>
<circle cx="1711.4" cy="744.5" r="4.2" fill="none" stroke="#000" stroke-width="2"/>
<circle cx="1701.4" cy="780.2" r="4.2" fill="none" stroke="#000" stroke-width="2"/>
<rect x="1723.3" y="796" width="28.6" height="63" fill="#f27f7c" stroke="#000" stroke-width="2.4"/>
<line x1="1737.6" y1="787.8" x2="1737.6" y2="802.3" stroke="#000" stroke-width="1.9"/>
<line x1="1729.6" y1="787.8" x2="1745.6" y2="787.8" stroke="#000" stroke-width="1.9"/>
<line x1="1729.6" y1="802.3" x2="1745.6" y2="802.3" stroke="#000" stroke-width="1.9"/>
<circle cx="1727.6" cy="796" r="4.2" fill="none" stroke="#000" stroke-width="2"/>
<circle cx="1737.6" cy="789" r="4.2" fill="none" stroke="#000" stroke-width="2"/>
<circle cx="1747.6" cy="791" r="4.2" fill="none" stroke="#000" stroke-width="2"/>
<circle cx="1737.6" cy="805" r="4.2" fill="none" stroke="#000" stroke-width="2"/>
<rect x="1759.5" y="736.6" width="28.6" height="122.4" fill="#f27f7c" stroke="#000" stroke-width="2.4"/>
<line x1="1773.8" y1="716.4" x2="1773.8" y2="755.4" stroke="#000" stroke-width="1.9"/>
<line x1="1765.8" y1="716.4" x2="1781.8" y2="716.4" stroke="#000" stroke-width="1.9"/>
<line x1="1765.8" y1="755.4" x2="1781.8" y2="755.4" stroke="#000" stroke-width="1.9"/>
<circle cx="1773.8" cy="717.4" r="4.2" fill="none" stroke="#000" stroke-width="2"/>
<circle cx="1763.8" cy="729.6" r="4.2" fill="none" stroke="#000" stroke-width="2"/>
<circle cx="1783.8" cy="728.6" r="4.2" fill="none" stroke="#000" stroke-width="2"/>
<circle cx="1773.8" cy="763.4" r="4.2" fill="none" stroke="#000" stroke-width="2"/>
<rect x="1795.7" y="800.3" width="28.6" height="58.7" fill="#f27f7c" stroke="#000" stroke-width="2.4"/>
<line x1="1810" y1="793" x2="1810" y2="807.5" stroke="#000" stroke-width="1.9"/>
<line x1="1802" y1="793" x2="1818" y2="793" stroke="#000" stroke-width="1.9"/>
<line x1="1802" y1="807.5" x2="1818" y2="807.5" stroke="#000" stroke-width="1.9"/>
<circle cx="1800" cy="800.3" r="4.2" fill="none" stroke="#000" stroke-width="2"/>
<circle cx="1810" cy="793.3" r="4.2" fill="none" stroke="#000" stroke-width="2"/>
<circle cx="1820" cy="795.3" r="4.2" fill="none" stroke="#000" stroke-width="2"/>
<circle cx="1810" cy="809.3" r="4.2" fill="none" stroke="#000" stroke-width="2"/>
<text x="1274.54" y="876" font-size="24.4" text-anchor="end" transform="rotate(-90 1274.54 876)">Glutamine (M+1)</text>
<text x="1310.88" y="876" font-size="24.4" text-anchor="end" transform="rotate(-90 1310.88 876)">Glutamate (M+1)</text>
<text x="1347.22" y="876" font-size="24.4" text-anchor="end" transform="rotate(-90 1347.22 876)">Aspartate (M+1)</text>
<text x="1383.56" y="876" font-size="24.4" text-anchor="end" transform="rotate(-90 1383.56 876)">Alanine (M+1)</text>
<text x="1419.9" y="876" font-size="24.4" text-anchor="end" transform="rotate(-90 1419.9 876)">Proline (M+1)</text>
<text x="1456.24" y="876" font-size="24.4" text-anchor="end" transform="rotate(-90 1456.24 876)">Asparagine (M+1)</text>
<text x="1492.58" y="876" font-size="24.4" text-anchor="end" transform="rotate(-90 1492.58 876)">Leucine (M+1)</text>
<text x="1528.92" y="876" font-size="24.4" text-anchor="end" transform="rotate(-90 1528.92 876)">Isoleucine (M+1)</text>
<text x="1565.26" y="876" font-size="24.4" text-anchor="end" transform="rotate(-90 1565.26 876)">Arginine (M+1)</text>
<text x="1601.6" y="876" font-size="24.4" text-anchor="end" transform="rotate(-90 1601.6 876)">Citrulline (M+1)</text>
<text x="1637.94" y="876" font-size="24.4" text-anchor="end" transform="rotate(-90 1637.94 876)">As (M+1)</text>
<text x="1674.28" y="876" font-size="24.4" text-anchor="end" transform="rotate(-90 1674.28 876)">Urea (M+1)</text>
<text x="1710.62" y="876" font-size="24.4" text-anchor="end" transform="rotate(-90 1710.62 876)">Ornithine (M+1)</text>
<text x="1746.96" y="876" font-size="24.4" text-anchor="end" transform="rotate(-90 1746.96 876)">Ornithine (M+2)</text>
<text x="1783.3" y="876" font-size="24.4" text-anchor="end" transform="rotate(-90 1783.3 876)">Putrescine (M+1)</text>
<text x="1819.64" y="876" font-size="24.4" text-anchor="end" transform="rotate(-90 1819.64 876)">Putrescine (M+2)</text>
<text x="-0.8" y="1127.9" font-size="34" fill="#231f20" font-weight="bold">e</text>
<text x="511" y="1159.2" font-size="29.5" text-anchor="middle"><tspan dy="-10.91" font-size="14.16">15</tspan><tspan dy="10.91">N-isotopologues from </tspan><tspan dy="-10.91" font-size="14.16">15</tspan><tspan dy="10.91">N-Arg tracing</tspan></text>
<text x="511.6" y="1193.6" font-size="29.5" text-anchor="middle">Plasma levels Gln/Arg</text>
<line x1="216.7" y1="1196.55" x2="216.7" y2="1433.45" stroke="#000" stroke-width="2.5"/>
<line x1="206.9" y1="1432.2" x2="216.7" y2="1432.2" stroke="#000" stroke-width="2.5"/>
<text x="203.7" y="1438.54" font-size="24.4" text-anchor="end">0</text>
<line x1="206.9" y1="1408.76" x2="216.7" y2="1408.76" stroke="#000" stroke-width="2.5"/>
<text x="203.7" y="1415.1" font-size="24.4" text-anchor="end">10</text>
<line x1="206.9" y1="1385.32" x2="216.7" y2="1385.32" stroke="#000" stroke-width="2.5"/>
<text x="203.7" y="1391.66" font-size="24.4" text-anchor="end">20</text>
<line x1="206.9" y1="1361.88" x2="216.7" y2="1361.88" stroke="#000" stroke-width="2.5"/>
<text x="203.7" y="1368.22" font-size="24.4" text-anchor="end">30</text>
<line x1="206.9" y1="1338.44" x2="216.7" y2="1338.44" stroke="#000" stroke-width="2.5"/>
<text x="203.7" y="1344.78" font-size="24.4" text-anchor="end">40</text>
<line x1="206.9" y1="1315" x2="216.7" y2="1315" stroke="#000" stroke-width="2.5"/>
<text x="203.7" y="1321.34" font-size="24.4" text-anchor="end">50</text>
<line x1="206.9" y1="1291.56" x2="216.7" y2="1291.56" stroke="#000" stroke-width="2.5"/>
<text x="203.7" y="1297.9" font-size="24.4" text-anchor="end">60</text>
<line x1="206.9" y1="1268.12" x2="216.7" y2="1268.12" stroke="#000" stroke-width="2.5"/>
<text x="203.7" y="1274.46" font-size="24.4" text-anchor="end">70</text>
<line x1="206.9" y1="1244.68" x2="216.7" y2="1244.68" stroke="#000" stroke-width="2.5"/>
<text x="203.7" y="1251.02" font-size="24.4" text-anchor="end">80</text>
<line x1="206.9" y1="1221.24" x2="216.7" y2="1221.24" stroke="#000" stroke-width="2.5"/>
<text x="203.7" y="1227.58" font-size="24.4" text-anchor="end">90</text>
<line x1="206.9" y1="1197.8" x2="216.7" y2="1197.8" stroke="#000" stroke-width="2.5"/>
<text x="203.7" y="1204.14" font-size="24.4" text-anchor="end">100</text>
<text x="152.5" y="1313.5" font-size="26.4" text-anchor="middle" transform="rotate(-90 152.5 1313.5)">% labeled</text>
<text x="146.5" y="1387" font-size="9" transform="rotate(-90 146.5 1387)">15</text>
<line x1="206.7" y1="1432.2" x2="827.4" y2="1432.2" stroke="#000" stroke-width="2.5"/>
<line x1="245.4" y1="1432.2" x2="245.4" y2="1441.7" stroke="#000" stroke-width="2.5"/>
<line x1="280.05" y1="1432.2" x2="280.05" y2="1441.7" stroke="#000" stroke-width="2.5"/>
<line x1="314.7" y1="1432.2" x2="314.7" y2="1441.7" stroke="#000" stroke-width="2.5"/>
<line x1="349.35" y1="1432.2" x2="349.35" y2="1441.7" stroke="#000" stroke-width="2.5"/>
<line x1="384" y1="1432.2" x2="384" y2="1441.7" stroke="#000" stroke-width="2.5"/>
<line x1="418.65" y1="1432.2" x2="418.65" y2="1441.7" stroke="#000" stroke-width="2.5"/>
<line x1="453.3" y1="1432.2" x2="453.3" y2="1441.7" stroke="#000" stroke-width="2.5"/>
<line x1="487.95" y1="1432.2" x2="487.95" y2="1441.7" stroke="#000" stroke-width="2.5"/>
<line x1="522.6" y1="1432.2" x2="522.6" y2="1441.7" stroke="#000" stroke-width="2.5"/>
<line x1="557.25" y1="1432.2" x2="557.25" y2="1441.7" stroke="#000" stroke-width="2.5"/>
<line x1="591.9" y1="1432.2" x2="591.9" y2="1441.7" stroke="#000" stroke-width="2.5"/>
<line x1="626.55" y1="1432.2" x2="626.55" y2="1441.7" stroke="#000" stroke-width="2.5"/>
<line x1="661.2" y1="1432.2" x2="661.2" y2="1441.7" stroke="#000" stroke-width="2.5"/>
<line x1="695.85" y1="1432.2" x2="695.85" y2="1441.7" stroke="#000" stroke-width="2.5"/>
<line x1="730.5" y1="1432.2" x2="730.5" y2="1441.7" stroke="#000" stroke-width="2.5"/>
<line x1="765.15" y1="1432.2" x2="765.15" y2="1441.7" stroke="#000" stroke-width="2.5"/>
<line x1="799.8" y1="1432.2" x2="799.8" y2="1441.7" stroke="#000" stroke-width="2.5"/>
<circle cx="236.25" cy="1432.2" r="4" fill="none" stroke="#000" stroke-width="2.2"/>
<circle cx="242.35" cy="1432.2" r="4" fill="none" stroke="#000" stroke-width="2.2"/>
<circle cx="248.45" cy="1432.2" r="4" fill="none" stroke="#000" stroke-width="2.2"/>
<circle cx="254.55" cy="1432.2" r="4" fill="none" stroke="#000" stroke-width="2.2"/>
<line x1="245.4" y1="1427.2" x2="245.4" y2="1437.2" stroke="#000" stroke-width="2"/>
<text x="253.9" y="1413.7" font-size="20.5" transform="rotate(-90 253.9 1413.7)">ND</text>
<circle cx="270.9" cy="1432.2" r="4" fill="none" stroke="#000" stroke-width="2.2"/>
<circle cx="277" cy="1432.2" r="4" fill="none" stroke="#000" stroke-width="2.2"/>
<circle cx="283.1" cy="1432.2" r="4" fill="none" stroke="#000" stroke-width="2.2"/>
<circle cx="289.2" cy="1432.2" r="4" fill="none" stroke="#000" stroke-width="2.2"/>
<line x1="280.05" y1="1427.2" x2="280.05" y2="1437.2" stroke="#000" stroke-width="2"/>
<text x="287.87" y="1413.7" font-size="20.5" transform="rotate(-90 287.87 1413.7)">ND</text>
<circle cx="305.55" cy="1432.2" r="4" fill="none" stroke="#000" stroke-width="2.2"/>
<circle cx="311.65" cy="1432.2" r="4" fill="none" stroke="#000" stroke-width="2.2"/>
<circle cx="317.75" cy="1432.2" r="4" fill="none" stroke="#000" stroke-width="2.2"/>
<circle cx="323.85" cy="1432.2" r="4" fill="none" stroke="#000" stroke-width="2.2"/>
<line x1="314.7" y1="1427.2" x2="314.7" y2="1437.2" stroke="#000" stroke-width="2"/>
<text x="321.84" y="1413.7" font-size="20.5" transform="rotate(-90 321.84 1413.7)">ND</text>
<circle cx="340.2" cy="1432.2" r="4" fill="none" stroke="#000" stroke-width="2.2"/>
<circle cx="346.3" cy="1432.2" r="4" fill="none" stroke="#000" stroke-width="2.2"/>
<circle cx="352.4" cy="1432.2" r="4" fill="none" stroke="#000" stroke-width="2.2"/>
<circle cx="358.5" cy="1432.2" r="4" fill="none" stroke="#000" stroke-width="2.2"/>
<line x1="349.35" y1="1427.2" x2="349.35" y2="1437.2" stroke="#000" stroke-width="2"/>
<text x="355.81" y="1413.7" font-size="20.5" transform="rotate(-90 355.81 1413.7)">ND</text>
<circle cx="374.85" cy="1432.2" r="4" fill="none" stroke="#000" stroke-width="2.2"/>
<circle cx="380.95" cy="1432.2" r="4" fill="none" stroke="#000" stroke-width="2.2"/>
<circle cx="387.05" cy="1432.2" r="4" fill="none" stroke="#000" stroke-width="2.2"/>
<circle cx="393.15" cy="1432.2" r="4" fill="none" stroke="#000" stroke-width="2.2"/>
<line x1="384" y1="1427.2" x2="384" y2="1437.2" stroke="#000" stroke-width="2"/>
<text x="389.78" y="1413.7" font-size="20.5" transform="rotate(-90 389.78 1413.7)">ND</text>
<circle cx="409.5" cy="1432.2" r="4" fill="none" stroke="#000" stroke-width="2.2"/>
<circle cx="415.6" cy="1432.2" r="4" fill="none" stroke="#000" stroke-width="2.2"/>
<circle cx="421.7" cy="1432.2" r="4" fill="none" stroke="#000" stroke-width="2.2"/>
<circle cx="427.8" cy="1432.2" r="4" fill="none" stroke="#000" stroke-width="2.2"/>
<line x1="418.65" y1="1427.2" x2="418.65" y2="1437.2" stroke="#000" stroke-width="2"/>
<text x="423.75" y="1413.7" font-size="20.5" transform="rotate(-90 423.75 1413.7)">ND</text>
<circle cx="444.15" cy="1432.2" r="4" fill="none" stroke="#000" stroke-width="2.2"/>
<circle cx="450.25" cy="1432.2" r="4" fill="none" stroke="#000" stroke-width="2.2"/>
<circle cx="456.35" cy="1432.2" r="4" fill="none" stroke="#000" stroke-width="2.2"/>
<circle cx="462.45" cy="1432.2" r="4" fill="none" stroke="#000" stroke-width="2.2"/>
<line x1="453.3" y1="1427.2" x2="453.3" y2="1437.2" stroke="#000" stroke-width="2"/>
<text x="457.72" y="1413.7" font-size="20.5" transform="rotate(-90 457.72 1413.7)">ND</text>
<circle cx="478.8" cy="1432.2" r="4" fill="none" stroke="#000" stroke-width="2.2"/>
<circle cx="484.9" cy="1432.2" r="4" fill="none" stroke="#000" stroke-width="2.2"/>
<circle cx="491" cy="1432.2" r="4" fill="none" stroke="#000" stroke-width="2.2"/>
<circle cx="497.1" cy="1432.2" r="4" fill="none" stroke="#000" stroke-width="2.2"/>
<line x1="487.95" y1="1427.2" x2="487.95" y2="1437.2" stroke="#000" stroke-width="2"/>
<text x="491.69" y="1413.7" font-size="20.5" transform="rotate(-90 491.69 1413.7)">ND</text>
<rect x="508.55" y="1230.2" width="28.1" height="202" fill="#0b9292" stroke="#000" stroke-width="2.4"/>
<line x1="522.6" y1="1228.2" x2="522.6" y2="1232.2" stroke="#000" stroke-width="1.9"/>
<line x1="517.6" y1="1228.2" x2="527.6" y2="1228.2" stroke="#000" stroke-width="1.9"/>
<line x1="517.6" y1="1232.2" x2="527.6" y2="1232.2" stroke="#000" stroke-width="1.9"/>
<circle cx="512.1" cy="1232.2" r="4.2" fill="none" stroke="#000" stroke-width="2"/>
<circle cx="519.1" cy="1227.2" r="4.2" fill="none" stroke="#000" stroke-width="2"/>
<circle cx="526.1" cy="1229.2" r="4.2" fill="none" stroke="#000" stroke-width="2"/>
<circle cx="533.1" cy="1223.2" r="4.2" fill="none" stroke="#000" stroke-width="2"/>
<rect x="543.2" y="1422.5" width="28.1" height="9.7" fill="#0b9292" stroke="#000" stroke-width="2.4"/>
<line x1="557.25" y1="1420.5" x2="557.25" y2="1424.5" stroke="#000" stroke-width="1.9"/>
<line x1="552.25" y1="1420.5" x2="562.25" y2="1420.5" stroke="#000" stroke-width="1.9"/>
<line x1="552.25" y1="1424.5" x2="562.25" y2="1424.5" stroke="#000" stroke-width="1.9"/>
<circle cx="546.75" cy="1424.5" r="4.2" fill="none" stroke="#000" stroke-width="2"/>
<circle cx="553.75" cy="1419.5" r="4.2" fill="none" stroke="#000" stroke-width="2"/>
<circle cx="560.75" cy="1421.5" r="4.2" fill="none" stroke="#000" stroke-width="2"/>
<circle cx="567.75" cy="1420.5" r="4.2" fill="none" stroke="#000" stroke-width="2"/>
<circle cx="582.75" cy="1432.2" r="4" fill="none" stroke="#000" stroke-width="2.2"/>
<circle cx="588.85" cy="1432.2" r="4" fill="none" stroke="#000" stroke-width="2.2"/>
<circle cx="594.95" cy="1432.2" r="4" fill="none" stroke="#000" stroke-width="2.2"/>
<circle cx="601.05" cy="1432.2" r="4" fill="none" stroke="#000" stroke-width="2.2"/>
<line x1="591.9" y1="1427.2" x2="591.9" y2="1437.2" stroke="#000" stroke-width="2"/>
<text x="597" y="1413.7" font-size="20.5" transform="rotate(-90 597 1413.7)">ND</text>
<circle cx="617.4" cy="1432.2" r="4" fill="none" stroke="#000" stroke-width="2.2"/>
<circle cx="623.5" cy="1432.2" r="4" fill="none" stroke="#000" stroke-width="2.2"/>
<circle cx="629.6" cy="1432.2" r="4" fill="none" stroke="#000" stroke-width="2.2"/>
<circle cx="635.7" cy="1432.2" r="4" fill="none" stroke="#000" stroke-width="2.2"/>
<line x1="626.55" y1="1427.2" x2="626.55" y2="1437.2" stroke="#000" stroke-width="2"/>
<text x="631.65" y="1413.7" font-size="20.5" transform="rotate(-90 631.65 1413.7)">ND</text>
<circle cx="652.05" cy="1432.2" r="4" fill="none" stroke="#000" stroke-width="2.2"/>
<circle cx="658.15" cy="1432.2" r="4" fill="none" stroke="#000" stroke-width="2.2"/>
<circle cx="664.25" cy="1432.2" r="4" fill="none" stroke="#000" stroke-width="2.2"/>
<circle cx="670.35" cy="1432.2" r="4" fill="none" stroke="#000" stroke-width="2.2"/>
<line x1="661.2" y1="1427.2" x2="661.2" y2="1437.2" stroke="#000" stroke-width="2"/>
<text x="666.3" y="1413.7" font-size="20.5" transform="rotate(-90 666.3 1413.7)">ND</text>
<circle cx="686.7" cy="1432.2" r="4" fill="none" stroke="#000" stroke-width="2.2"/>
<circle cx="692.8" cy="1432.2" r="4" fill="none" stroke="#000" stroke-width="2.2"/>
<circle cx="698.9" cy="1432.2" r="4" fill="none" stroke="#000" stroke-width="2.2"/>
<circle cx="705" cy="1432.2" r="4" fill="none" stroke="#000" stroke-width="2.2"/>
<line x1="695.85" y1="1427.2" x2="695.85" y2="1437.2" stroke="#000" stroke-width="2"/>
<text x="700.95" y="1413.7" font-size="20.5" transform="rotate(-90 700.95 1413.7)">ND</text>
<rect x="716.45" y="1424.5" width="28.1" height="7.7" fill="#0b9292" stroke="#000" stroke-width="2.4"/>
<line x1="730.5" y1="1422.5" x2="730.5" y2="1426.5" stroke="#000" stroke-width="1.9"/>
<line x1="725.5" y1="1422.5" x2="735.5" y2="1422.5" stroke="#000" stroke-width="1.9"/>
<line x1="725.5" y1="1426.5" x2="735.5" y2="1426.5" stroke="#000" stroke-width="1.9"/>
<circle cx="720" cy="1426.5" r="4.2" fill="none" stroke="#000" stroke-width="2"/>
<circle cx="727" cy="1421.5" r="4.2" fill="none" stroke="#000" stroke-width="2"/>
<circle cx="734" cy="1423.5" r="4.2" fill="none" stroke="#000" stroke-width="2"/>
<circle cx="741" cy="1422.5" r="4.2" fill="none" stroke="#000" stroke-width="2"/>
<circle cx="756" cy="1432.2" r="4" fill="none" stroke="#000" stroke-width="2.2"/>
<circle cx="762.1" cy="1432.2" r="4" fill="none" stroke="#000" stroke-width="2.2"/>
<circle cx="768.2" cy="1432.2" r="4" fill="none" stroke="#000" stroke-width="2.2"/>
<circle cx="774.3" cy="1432.2" r="4" fill="none" stroke="#000" stroke-width="2.2"/>
<line x1="765.15" y1="1427.2" x2="765.15" y2="1437.2" stroke="#000" stroke-width="2"/>
<text x="770.25" y="1413.7" font-size="20.5" transform="rotate(-90 770.25 1413.7)">ND</text>
<rect x="785.75" y="1415.8" width="28.1" height="16.4" fill="#0b9292" stroke="#000" stroke-width="2.4"/>
<line x1="799.8" y1="1413.8" x2="799.8" y2="1417.8" stroke="#000" stroke-width="1.9"/>
<line x1="794.8" y1="1413.8" x2="804.8" y2="1413.8" stroke="#000" stroke-width="1.9"/>
<line x1="794.8" y1="1417.8" x2="804.8" y2="1417.8" stroke="#000" stroke-width="1.9"/>
<circle cx="789.3" cy="1417.8" r="4.2" fill="none" stroke="#000" stroke-width="2"/>
<circle cx="796.3" cy="1412.8" r="4.2" fill="none" stroke="#000" stroke-width="2"/>
<circle cx="803.3" cy="1414.8" r="4.2" fill="none" stroke="#000" stroke-width="2"/>
<circle cx="810.3" cy="1413.8" r="4.2" fill="none" stroke="#000" stroke-width="2"/>
<text x="249.84" y="1449.8" font-size="24.4" text-anchor="end" transform="rotate(-90 249.84 1449.8)">Glutamine (M+1)</text>
<text x="284.89" y="1449.8" font-size="24.4" text-anchor="end" transform="rotate(-90 284.89 1449.8)">Glutamate (M+1)</text>
<text x="319.94" y="1449.8" font-size="24.4" text-anchor="end" transform="rotate(-90 319.94 1449.8)">Aspartate (M+1)</text>
<text x="354.99" y="1449.8" font-size="24.4" text-anchor="end" transform="rotate(-90 354.99 1449.8)">Alanine (M+1)</text>
<text x="390.04" y="1449.8" font-size="24.4" text-anchor="end" transform="rotate(-90 390.04 1449.8)">Proline (M+1)</text>
<text x="425.09" y="1449.8" font-size="24.4" text-anchor="end" transform="rotate(-90 425.09 1449.8)">Asparagine (M+1)</text>
<text x="460.14" y="1449.8" font-size="24.4" text-anchor="end" transform="rotate(-90 460.14 1449.8)">Leucine (M+1)</text>
<text x="495.19" y="1449.8" font-size="24.4" text-anchor="end" transform="rotate(-90 495.19 1449.8)">Isoleucine (M+1)</text>
<text x="530.24" y="1449.8" font-size="24.4" text-anchor="end" transform="rotate(-90 530.24 1449.8)">Arginine (M+4)</text>
<text x="565.29" y="1449.8" font-size="24.4" text-anchor="end" transform="rotate(-90 565.29 1449.8)">Arginine (M+3)</text>
<text x="600.34" y="1449.8" font-size="24.4" text-anchor="end" transform="rotate(-90 600.34 1449.8)">Citrulline (M+3)</text>
<text x="635.39" y="1449.8" font-size="24.4" text-anchor="end" transform="rotate(-90 635.39 1449.8)">As (M+4)</text>
<text x="670.44" y="1449.8" font-size="24.4" text-anchor="end" transform="rotate(-90 670.44 1449.8)">Urea (M+2)</text>
<text x="705.49" y="1449.8" font-size="24.4" text-anchor="end" transform="rotate(-90 705.49 1449.8)">Ornithine (M+1)</text>
<text x="740.54" y="1449.8" font-size="24.4" text-anchor="end" transform="rotate(-90 740.54 1449.8)">Ornithine (M+2)</text>
<text x="775.59" y="1449.8" font-size="24.4" text-anchor="end" transform="rotate(-90 775.59 1449.8)">Putrescine (M+1)</text>
<text x="810.64" y="1449.8" font-size="24.4" text-anchor="end" transform="rotate(-90 810.64 1449.8)">Putrescine (M+2)</text>
<text x="1012.7" y="1127.9" font-size="34" fill="#231f20" font-weight="bold">f</text>
<text x="1512.5" y="1130.5" font-size="29.5" text-anchor="middle"><tspan dy="-10.91" font-size="14.16">15</tspan><tspan dy="10.91">N-Gln tracing</tspan></text>
<text x="1512.8" y="1165.3" font-size="29.5" text-anchor="middle">Plasma levels Gln/Arg</text>
<line x1="1155" y1="1179" x2="1901.8" y2="1180" stroke="#231f20" stroke-width="2"/>
<rect x="1800.2" y="1120" width="36.8" height="19.5" fill="#f07a7a" stroke="#000" stroke-width="2.2"/>
<rect x="1800.2" y="1151.9" width="36.8" height="19" fill="#fdd378" stroke="#000" stroke-width="2.2"/>
<text x="1847.1" y="1139.8" font-size="24.5">M+1</text>
<text x="1847.1" y="1171" font-size="24.5">M+2</text>
<text x="1339.3" y="1212.8" font-size="27.2" text-anchor="middle"><tspan dy="-10.06" font-size="13.06">15</tspan><tspan dy="10.06">N-ornithine</tspan></text>
<text x="1225" y="1245" font-size="27.2" text-anchor="middle" fill="#524f9c">PDA</text>
<line x1="1158.8" y1="1255.2" x2="1302" y2="1255.2" stroke="#231f20" stroke-width="2"/>
<text x="1346.4" y="1245" font-size="27.2" text-anchor="middle" fill="#7c1116">BRCA</text>
<line x1="1309.8" y1="1255.2" x2="1396.9" y2="1255.2" stroke="#231f20" stroke-width="2"/>
<text x="1444.2" y="1245" font-size="27.2" text-anchor="middle" fill="#0f502a">LUAD</text>
<line x1="1406.2" y1="1255.2" x2="1493.8" y2="1255.2" stroke="#231f20" stroke-width="2"/>
<line x1="1154.4" y1="1253.45" x2="1154.4" y2="1488.95" stroke="#000" stroke-width="2.5"/>
<line x1="1144.2" y1="1487.7" x2="1154.4" y2="1487.7" stroke="#000" stroke-width="2.5"/>
<text x="1140.8" y="1495.24" font-size="24.4" text-anchor="end">0</text>
<line x1="1144.2" y1="1441.1" x2="1154.4" y2="1441.1" stroke="#000" stroke-width="2.5"/>
<text x="1140.8" y="1448.64" font-size="24.4" text-anchor="end">20</text>
<line x1="1144.2" y1="1394.5" x2="1154.4" y2="1394.5" stroke="#000" stroke-width="2.5"/>
<text x="1140.8" y="1402.04" font-size="24.4" text-anchor="end">40</text>
<line x1="1144.2" y1="1347.9" x2="1154.4" y2="1347.9" stroke="#000" stroke-width="2.5"/>
<text x="1140.8" y="1355.44" font-size="24.4" text-anchor="end">60</text>
<line x1="1144.2" y1="1301.3" x2="1154.4" y2="1301.3" stroke="#000" stroke-width="2.5"/>
<text x="1140.8" y="1308.84" font-size="24.4" text-anchor="end">80</text>
<line x1="1144.2" y1="1254.7" x2="1154.4" y2="1254.7" stroke="#000" stroke-width="2.5"/>
<text x="1140.8" y="1262.24" font-size="24.4" text-anchor="end">100</text>
<line x1="1144.2" y1="1487.7" x2="1503.7" y2="1487.7" stroke="#000" stroke-width="2.5"/>
<line x1="1173.5" y1="1487.7" x2="1173.5" y2="1497.7" stroke="#000" stroke-width="2.5"/>
<line x1="1197.45" y1="1487.7" x2="1197.45" y2="1497.7" stroke="#000" stroke-width="2.5"/>
<line x1="1221.4" y1="1487.7" x2="1221.4" y2="1497.7" stroke="#000" stroke-width="2.5"/>
<line x1="1245.35" y1="1487.7" x2="1245.35" y2="1497.7" stroke="#000" stroke-width="2.5"/>
<line x1="1269.3" y1="1487.7" x2="1269.3" y2="1497.7" stroke="#000" stroke-width="2.5"/>
<line x1="1293.25" y1="1487.7" x2="1293.25" y2="1497.7" stroke="#000" stroke-width="2.5"/>
<line x1="1317.2" y1="1487.7" x2="1317.2" y2="1497.7" stroke="#000" stroke-width="2.5"/>
<line x1="1341.15" y1="1487.7" x2="1341.15" y2="1497.7" stroke="#000" stroke-width="2.5"/>
<line x1="1365.1" y1="1487.7" x2="1365.1" y2="1497.7" stroke="#000" stroke-width="2.5"/>
<line x1="1389.05" y1="1487.7" x2="1389.05" y2="1497.7" stroke="#000" stroke-width="2.5"/>
<line x1="1413" y1="1487.7" x2="1413" y2="1497.7" stroke="#000" stroke-width="2.5"/>
<line x1="1436.95" y1="1487.7" x2="1436.95" y2="1497.7" stroke="#000" stroke-width="2.5"/>
<line x1="1460.9" y1="1487.7" x2="1460.9" y2="1497.7" stroke="#000" stroke-width="2.5"/>
<line x1="1484.85" y1="1487.7" x2="1484.85" y2="1497.7" stroke="#000" stroke-width="2.5"/>
<line x1="1173.5" y1="1444.83" x2="1173.5" y2="1446.69" stroke="#000" stroke-width="2.2"/>
<line x1="1168" y1="1444.83" x2="1179" y2="1444.83" stroke="#000" stroke-width="2.2"/>
<rect x="1164.25" y="1446.69" width="18.5" height="41.01" fill="#fdd378" stroke="#000" stroke-width="2.2"/>
<rect x="1164.25" y="1460.21" width="18.5" height="27.49" fill="#f27f7c" stroke="#000" stroke-width="2.2"/>
<line x1="1173.5" y1="1455.55" x2="1173.5" y2="1460.21" stroke="#000" stroke-width="2.2"/>
<line x1="1168" y1="1455.55" x2="1179" y2="1455.55" stroke="#000" stroke-width="2.2"/>
<line x1="1197.45" y1="1311.09" x2="1197.45" y2="1318.54" stroke="#000" stroke-width="2.2"/>
<line x1="1191.95" y1="1311.09" x2="1202.95" y2="1311.09" stroke="#000" stroke-width="2.2"/>
<rect x="1188.2" y="1318.54" width="18.5" height="169.16" fill="#fdd378" stroke="#000" stroke-width="2.2"/>
<rect x="1188.2" y="1382.85" width="18.5" height="104.85" fill="#f27f7c" stroke="#000" stroke-width="2.2"/>
<line x1="1197.45" y1="1363.05" x2="1197.45" y2="1382.85" stroke="#000" stroke-width="2.2"/>
<line x1="1191.95" y1="1363.05" x2="1202.95" y2="1363.05" stroke="#000" stroke-width="2.2"/>
<line x1="1221.4" y1="1364.91" x2="1221.4" y2="1368.4" stroke="#000" stroke-width="2.2"/>
<line x1="1215.9" y1="1364.91" x2="1226.9" y2="1364.91" stroke="#000" stroke-width="2.2"/>
<rect x="1212.15" y="1368.4" width="18.5" height="119.3" fill="#fdd378" stroke="#000" stroke-width="2.2"/>
<rect x="1212.15" y="1399.39" width="18.5" height="88.31" fill="#f27f7c" stroke="#000" stroke-width="2.2"/>
<line x1="1221.4" y1="1392.4" x2="1221.4" y2="1399.39" stroke="#000" stroke-width="2.2"/>
<line x1="1215.9" y1="1392.4" x2="1226.9" y2="1392.4" stroke="#000" stroke-width="2.2"/>
<line x1="1245.35" y1="1356.99" x2="1245.35" y2="1362.58" stroke="#000" stroke-width="2.2"/>
<line x1="1239.85" y1="1356.99" x2="1250.85" y2="1356.99" stroke="#000" stroke-width="2.2"/>
<rect x="1236.1" y="1362.58" width="18.5" height="125.12" fill="#fdd378" stroke="#000" stroke-width="2.2"/>
<rect x="1236.1" y="1394.5" width="18.5" height="93.2" fill="#f27f7c" stroke="#000" stroke-width="2.2"/>
<line x1="1245.35" y1="1387.51" x2="1245.35" y2="1394.5" stroke="#000" stroke-width="2.2"/>
<line x1="1239.85" y1="1387.51" x2="1250.85" y2="1387.51" stroke="#000" stroke-width="2.2"/>
<line x1="1269.3" y1="1367.7" x2="1269.3" y2="1375.39" stroke="#000" stroke-width="2.2"/>
<line x1="1263.8" y1="1367.7" x2="1274.8" y2="1367.7" stroke="#000" stroke-width="2.2"/>
<rect x="1260.05" y="1375.39" width="18.5" height="112.31" fill="#fdd378" stroke="#000" stroke-width="2.2"/>
<rect x="1260.05" y="1414.77" width="18.5" height="72.93" fill="#f27f7c" stroke="#000" stroke-width="2.2"/>
<line x1="1269.3" y1="1406.62" x2="1269.3" y2="1414.77" stroke="#000" stroke-width="2.2"/>
<line x1="1263.8" y1="1406.62" x2="1274.8" y2="1406.62" stroke="#000" stroke-width="2.2"/>
<line x1="1293.25" y1="1344.41" x2="1293.25" y2="1346.74" stroke="#000" stroke-width="2.2"/>
<line x1="1287.75" y1="1344.41" x2="1298.75" y2="1344.41" stroke="#000" stroke-width="2.2"/>
<rect x="1284" y="1346.74" width="18.5" height="140.96" fill="#fdd378" stroke="#000" stroke-width="2.2"/>
<rect x="1284" y="1394.27" width="18.5" height="93.43" fill="#f27f7c" stroke="#000" stroke-width="2.2"/>
<line x1="1293.25" y1="1390.54" x2="1293.25" y2="1394.27" stroke="#000" stroke-width="2.2"/>
<line x1="1287.75" y1="1390.54" x2="1298.75" y2="1390.54" stroke="#000" stroke-width="2.2"/>
<rect x="1307.95" y="1486.54" width="18.5" height="1.16" fill="#f27f7c" stroke="#000" stroke-width="2.2"/>
<line x1="1317.2" y1="1485.14" x2="1317.2" y2="1486.54" stroke="#000" stroke-width="2.2"/>
<line x1="1311.7" y1="1485.14" x2="1322.7" y2="1485.14" stroke="#000" stroke-width="2.2"/>
<line x1="1341.15" y1="1470.92" x2="1341.15" y2="1473.25" stroke="#000" stroke-width="2.2"/>
<line x1="1335.65" y1="1470.92" x2="1346.65" y2="1470.92" stroke="#000" stroke-width="2.2"/>
<rect x="1331.9" y="1473.25" width="18.5" height="14.45" fill="#fdd378" stroke="#000" stroke-width="2.2"/>
<rect x="1331.9" y="1474.65" width="18.5" height="13.05" fill="#f27f7c" stroke="#000" stroke-width="2.2"/>
<line x1="1341.15" y1="1470.46" x2="1341.15" y2="1474.65" stroke="#000" stroke-width="2.2"/>
<line x1="1335.65" y1="1470.46" x2="1346.65" y2="1470.46" stroke="#000" stroke-width="2.2"/>
<rect x="1355.85" y="1487.23" width="18.5" height="0.47" fill="#f27f7c" stroke="#000" stroke-width="2.2"/>
<line x1="1389.05" y1="1470.92" x2="1389.05" y2="1473.25" stroke="#000" stroke-width="2.2"/>
<line x1="1383.55" y1="1470.92" x2="1394.55" y2="1470.92" stroke="#000" stroke-width="2.2"/>
<rect x="1379.8" y="1473.25" width="18.5" height="14.45" fill="#fdd378" stroke="#000" stroke-width="2.2"/>
<rect x="1379.8" y="1476.05" width="18.5" height="11.65" fill="#f27f7c" stroke="#000" stroke-width="2.2"/>
<line x1="1389.05" y1="1472.56" x2="1389.05" y2="1476.05" stroke="#000" stroke-width="2.2"/>
<line x1="1383.55" y1="1472.56" x2="1394.55" y2="1472.56" stroke="#000" stroke-width="2.2"/>
<line x1="1413" y1="1453.91" x2="1413" y2="1455.78" stroke="#000" stroke-width="2.2"/>
<line x1="1407.5" y1="1453.91" x2="1418.5" y2="1453.91" stroke="#000" stroke-width="2.2"/>
<rect x="1403.75" y="1455.78" width="18.5" height="31.92" fill="#fdd378" stroke="#000" stroke-width="2.2"/>
<rect x="1403.75" y="1466.96" width="18.5" height="20.74" fill="#f27f7c" stroke="#000" stroke-width="2.2"/>
<line x1="1413" y1="1464.17" x2="1413" y2="1466.96" stroke="#000" stroke-width="2.2"/>
<line x1="1407.5" y1="1464.17" x2="1418.5" y2="1464.17" stroke="#000" stroke-width="2.2"/>
<line x1="1436.95" y1="1459.04" x2="1436.95" y2="1461.14" stroke="#000" stroke-width="2.2"/>
<line x1="1431.45" y1="1459.04" x2="1442.45" y2="1459.04" stroke="#000" stroke-width="2.2"/>
<rect x="1427.7" y="1461.14" width="18.5" height="26.56" fill="#fdd378" stroke="#000" stroke-width="2.2"/>
<rect x="1427.7" y="1470.92" width="18.5" height="16.78" fill="#f27f7c" stroke="#000" stroke-width="2.2"/>
<line x1="1436.95" y1="1469.06" x2="1436.95" y2="1470.92" stroke="#000" stroke-width="2.2"/>
<line x1="1431.45" y1="1469.06" x2="1442.45" y2="1469.06" stroke="#000" stroke-width="2.2"/>
<line x1="1460.9" y1="1435.51" x2="1460.9" y2="1437.84" stroke="#000" stroke-width="2.2"/>
<line x1="1455.4" y1="1435.51" x2="1466.4" y2="1435.51" stroke="#000" stroke-width="2.2"/>
<rect x="1451.65" y="1437.84" width="18.5" height="49.86" fill="#fdd378" stroke="#000" stroke-width="2.2"/>
<rect x="1451.65" y="1453.91" width="18.5" height="33.79" fill="#f27f7c" stroke="#000" stroke-width="2.2"/>
<line x1="1460.9" y1="1450.42" x2="1460.9" y2="1453.91" stroke="#000" stroke-width="2.2"/>
<line x1="1455.4" y1="1450.42" x2="1466.4" y2="1450.42" stroke="#000" stroke-width="2.2"/>
<line x1="1484.85" y1="1437.61" x2="1484.85" y2="1442.73" stroke="#000" stroke-width="2.2"/>
<line x1="1479.35" y1="1437.61" x2="1490.35" y2="1437.61" stroke="#000" stroke-width="2.2"/>
<rect x="1475.6" y="1442.73" width="18.5" height="44.97" fill="#fdd378" stroke="#000" stroke-width="2.2"/>
<rect x="1475.6" y="1459.74" width="18.5" height="27.96" fill="#f27f7c" stroke="#000" stroke-width="2.2"/>
<line x1="1484.85" y1="1454.15" x2="1484.85" y2="1459.74" stroke="#000" stroke-width="2.2"/>
<line x1="1479.35" y1="1454.15" x2="1490.35" y2="1454.15" stroke="#000" stroke-width="2.2"/>
<text x="1089.5" y="1375.5" font-size="27" text-anchor="middle" transform="rotate(-90 1089.5 1375.5)">% labeled</text>
<line x1="1189.1" y1="1298.9" x2="1305.5" y2="1298.9" stroke="#231f20" stroke-width="2"/>
<text x="1191.5" y="1287.3" font-size="20.5" fill="#231f20"><tspan font-style="italic">p</tspan> &lt; 0.0001</text>
<text x="1181.49" y="1500.9" font-size="24.4" text-anchor="end" transform="rotate(-90 1181.49 1500.9)">HPDE</text>
<text x="1205.49" y="1500.9" font-size="24.4" text-anchor="end" fill="#524f9c" transform="rotate(-90 1205.49 1500.9)">AsPC-1</text>
<text x="1229.49" y="1500.9" font-size="24.4" text-anchor="end" fill="#524f9c" transform="rotate(-90 1229.49 1500.9)">MIA PaCa-2</text>
<text x="1253.49" y="1500.9" font-size="24.4" text-anchor="end" fill="#524f9c" transform="rotate(-90 1253.49 1500.9)">SUIT-2</text>
<text x="1277.49" y="1500.9" font-size="24.4" text-anchor="end" fill="#524f9c" transform="rotate(-90 1277.49 1500.9)">PA-TU-8988T</text>
<text x="1301.49" y="1500.9" font-size="24.4" text-anchor="end" fill="#524f9c" transform="rotate(-90 1301.49 1500.9)">iKRas #1</text>
<text x="1325.49" y="1500.9" font-size="24.4" text-anchor="end" transform="rotate(-90 1325.49 1500.9)">MCF10A</text>
<text x="1349.49" y="1500.9" font-size="24.4" text-anchor="end" fill="#7c1116" transform="rotate(-90 1349.49 1500.9)">T-47D</text>
<text x="1373.49" y="1500.9" font-size="24.4" text-anchor="end" fill="#7c1116" transform="rotate(-90 1373.49 1500.9)">BT-474</text>
<text x="1397.49" y="1500.9" font-size="24.4" text-anchor="end" fill="#7c1116" transform="rotate(-90 1397.49 1500.9)">MDA-MB 157</text>
<text x="1421.49" y="1500.9" font-size="24.4" text-anchor="end" transform="rotate(-90 1421.49 1500.9)">BEAS-2B</text>
<text x="1445.49" y="1500.9" font-size="24.4" text-anchor="end" fill="#0f502a" transform="rotate(-90 1445.49 1500.9)">NCI-H1975</text>
<text x="1469.49" y="1500.9" font-size="24.4" text-anchor="end" fill="#0f502a" transform="rotate(-90 1469.49 1500.9)">A549</text>
<text x="1493.49" y="1500.9" font-size="24.4" text-anchor="end" fill="#0f502a" transform="rotate(-90 1493.49 1500.9)">Calu-1</text>
<polygon points="1171.3,1632.8 1161.05,1650.3 1181.55,1650.3" fill="#231f20"/>
<polygon points="1316.5,1632.8 1306.25,1650.3 1326.75,1650.3" fill="#231f20"/>
<polygon points="1412,1632.8 1401.75,1650.3 1422.25,1650.3" fill="#231f20"/>
<text x="1740" y="1212.8" font-size="27.2" text-anchor="middle"><tspan dy="-10.06" font-size="13.06">15</tspan><tspan dy="10.06">N-putrescine</tspan></text>
<text x="1638.4" y="1245" font-size="27.2" text-anchor="middle" fill="#524f9c">PDA</text>
<line x1="1572.2" y1="1255.8" x2="1714.6" y2="1255.8" stroke="#231f20" stroke-width="2"/>
<text x="1759.6" y="1245" font-size="27.2" text-anchor="middle" fill="#7c1116">BRCA</text>
<line x1="1723.3" y1="1255.8" x2="1810.1" y2="1255.8" stroke="#231f20" stroke-width="2"/>
<text x="1857.2" y="1245" font-size="27.2" text-anchor="middle" fill="#0f502a">LUAD</text>
<line x1="1819.4" y1="1255.8" x2="1906.4" y2="1255.8" stroke="#231f20" stroke-width="2"/>
<line x1="1565" y1="1253.45" x2="1565" y2="1488.95" stroke="#000" stroke-width="2.5"/>
<line x1="1554.8" y1="1487.7" x2="1565" y2="1487.7" stroke="#000" stroke-width="2.5"/>
<text x="1549.6" y="1493.24" font-size="24.4" text-anchor="end">0</text>
<line x1="1554.8" y1="1441.1" x2="1565" y2="1441.1" stroke="#000" stroke-width="2.5"/>
<text x="1549.6" y="1446.64" font-size="24.4" text-anchor="end">20</text>
<line x1="1554.8" y1="1394.5" x2="1565" y2="1394.5" stroke="#000" stroke-width="2.5"/>
<text x="1549.6" y="1400.04" font-size="24.4" text-anchor="end">40</text>
<line x1="1554.8" y1="1347.9" x2="1565" y2="1347.9" stroke="#000" stroke-width="2.5"/>
<text x="1549.6" y="1353.44" font-size="24.4" text-anchor="end">60</text>
<line x1="1554.8" y1="1301.3" x2="1565" y2="1301.3" stroke="#000" stroke-width="2.5"/>
<text x="1549.6" y="1306.84" font-size="24.4" text-anchor="end">80</text>
<line x1="1554.8" y1="1254.7" x2="1565" y2="1254.7" stroke="#000" stroke-width="2.5"/>
<text x="1549.6" y="1260.24" font-size="24.4" text-anchor="end">100</text>
<line x1="1554.8" y1="1487.7" x2="1913.7" y2="1487.7" stroke="#000" stroke-width="2.5"/>
<line x1="1583.8" y1="1487.7" x2="1583.8" y2="1497.7" stroke="#000" stroke-width="2.5"/>
<line x1="1607.73" y1="1487.7" x2="1607.73" y2="1497.7" stroke="#000" stroke-width="2.5"/>
<line x1="1631.66" y1="1487.7" x2="1631.66" y2="1497.7" stroke="#000" stroke-width="2.5"/>
<line x1="1655.59" y1="1487.7" x2="1655.59" y2="1497.7" stroke="#000" stroke-width="2.5"/>
<line x1="1679.52" y1="1487.7" x2="1679.52" y2="1497.7" stroke="#000" stroke-width="2.5"/>
<line x1="1703.45" y1="1487.7" x2="1703.45" y2="1497.7" stroke="#000" stroke-width="2.5"/>
<line x1="1727.38" y1="1487.7" x2="1727.38" y2="1497.7" stroke="#000" stroke-width="2.5"/>
<line x1="1751.31" y1="1487.7" x2="1751.31" y2="1497.7" stroke="#000" stroke-width="2.5"/>
<line x1="1775.24" y1="1487.7" x2="1775.24" y2="1497.7" stroke="#000" stroke-width="2.5"/>
<line x1="1799.17" y1="1487.7" x2="1799.17" y2="1497.7" stroke="#000" stroke-width="2.5"/>
<line x1="1823.1" y1="1487.7" x2="1823.1" y2="1497.7" stroke="#000" stroke-width="2.5"/>
<line x1="1847.03" y1="1487.7" x2="1847.03" y2="1497.7" stroke="#000" stroke-width="2.5"/>
<line x1="1870.96" y1="1487.7" x2="1870.96" y2="1497.7" stroke="#000" stroke-width="2.5"/>
<line x1="1894.89" y1="1487.7" x2="1894.89" y2="1497.7" stroke="#000" stroke-width="2.5"/>
<line x1="1583.8" y1="1448.56" x2="1583.8" y2="1449.49" stroke="#000" stroke-width="2.2"/>
<line x1="1578.3" y1="1448.56" x2="1589.3" y2="1448.56" stroke="#000" stroke-width="2.2"/>
<rect x="1574.55" y="1449.49" width="18.5" height="38.21" fill="#fdd378" stroke="#000" stroke-width="2.2"/>
<rect x="1574.55" y="1460.21" width="18.5" height="27.49" fill="#f27f7c" stroke="#000" stroke-width="2.2"/>
<line x1="1583.8" y1="1458.81" x2="1583.8" y2="1460.21" stroke="#000" stroke-width="2.2"/>
<line x1="1578.3" y1="1458.81" x2="1589.3" y2="1458.81" stroke="#000" stroke-width="2.2"/>
<line x1="1607.73" y1="1299.67" x2="1607.73" y2="1307.59" stroke="#000" stroke-width="2.2"/>
<line x1="1602.23" y1="1299.67" x2="1613.23" y2="1299.67" stroke="#000" stroke-width="2.2"/>
<rect x="1598.48" y="1307.59" width="18.5" height="180.11" fill="#fdd378" stroke="#000" stroke-width="2.2"/>
<rect x="1598.48" y="1366.77" width="18.5" height="120.93" fill="#f27f7c" stroke="#000" stroke-width="2.2"/>
<line x1="1607.73" y1="1346.97" x2="1607.73" y2="1366.77" stroke="#000" stroke-width="2.2"/>
<line x1="1602.23" y1="1346.97" x2="1613.23" y2="1346.97" stroke="#000" stroke-width="2.2"/>
<line x1="1631.66" y1="1359.08" x2="1631.66" y2="1364.68" stroke="#000" stroke-width="2.2"/>
<line x1="1626.16" y1="1359.08" x2="1637.16" y2="1359.08" stroke="#000" stroke-width="2.2"/>
<rect x="1622.41" y="1364.68" width="18.5" height="123.02" fill="#fdd378" stroke="#000" stroke-width="2.2"/>
<rect x="1622.41" y="1407.55" width="18.5" height="80.15" fill="#f27f7c" stroke="#000" stroke-width="2.2"/>
<line x1="1631.66" y1="1405.68" x2="1631.66" y2="1407.55" stroke="#000" stroke-width="2.2"/>
<line x1="1626.16" y1="1405.68" x2="1637.16" y2="1405.68" stroke="#000" stroke-width="2.2"/>
<line x1="1655.59" y1="1330.89" x2="1655.59" y2="1332.76" stroke="#000" stroke-width="2.2"/>
<line x1="1650.09" y1="1330.89" x2="1661.09" y2="1330.89" stroke="#000" stroke-width="2.2"/>
<rect x="1646.34" y="1332.76" width="18.5" height="154.94" fill="#fdd378" stroke="#000" stroke-width="2.2"/>
<rect x="1646.34" y="1384.95" width="18.5" height="102.75" fill="#f27f7c" stroke="#000" stroke-width="2.2"/>
<line x1="1655.59" y1="1381.69" x2="1655.59" y2="1384.95" stroke="#000" stroke-width="2.2"/>
<line x1="1650.09" y1="1381.69" x2="1661.09" y2="1381.69" stroke="#000" stroke-width="2.2"/>
<line x1="1679.52" y1="1363.74" x2="1679.52" y2="1368.4" stroke="#000" stroke-width="2.2"/>
<line x1="1674.02" y1="1363.74" x2="1685.02" y2="1363.74" stroke="#000" stroke-width="2.2"/>
<rect x="1670.27" y="1368.4" width="18.5" height="119.3" fill="#fdd378" stroke="#000" stroke-width="2.2"/>
<rect x="1670.27" y="1409.64" width="18.5" height="78.06" fill="#f27f7c" stroke="#000" stroke-width="2.2"/>
<line x1="1679.52" y1="1402.65" x2="1679.52" y2="1409.64" stroke="#000" stroke-width="2.2"/>
<line x1="1674.02" y1="1402.65" x2="1685.02" y2="1402.65" stroke="#000" stroke-width="2.2"/>
<line x1="1703.45" y1="1343.01" x2="1703.45" y2="1346.74" stroke="#000" stroke-width="2.2"/>
<line x1="1697.95" y1="1343.01" x2="1708.95" y2="1343.01" stroke="#000" stroke-width="2.2"/>
<rect x="1694.2" y="1346.74" width="18.5" height="140.96" fill="#fdd378" stroke="#000" stroke-width="2.2"/>
<rect x="1694.2" y="1384.02" width="18.5" height="103.68" fill="#f27f7c" stroke="#000" stroke-width="2.2"/>
<line x1="1703.45" y1="1381.22" x2="1703.45" y2="1384.02" stroke="#000" stroke-width="2.2"/>
<line x1="1697.95" y1="1381.22" x2="1708.95" y2="1381.22" stroke="#000" stroke-width="2.2"/>
<rect x="1718.13" y="1485.84" width="18.5" height="1.86" fill="#f27f7c" stroke="#000" stroke-width="2.2"/>
<line x1="1727.38" y1="1484.44" x2="1727.38" y2="1485.84" stroke="#000" stroke-width="2.2"/>
<line x1="1721.88" y1="1484.44" x2="1732.88" y2="1484.44" stroke="#000" stroke-width="2.2"/>
<line x1="1751.31" y1="1469.76" x2="1751.31" y2="1470.92" stroke="#000" stroke-width="2.2"/>
<line x1="1745.81" y1="1469.76" x2="1756.81" y2="1469.76" stroke="#000" stroke-width="2.2"/>
<rect x="1742.06" y="1470.92" width="18.5" height="16.78" fill="#fdd378" stroke="#000" stroke-width="2.2"/>
<rect x="1742.06" y="1477.68" width="18.5" height="10.02" fill="#f27f7c" stroke="#000" stroke-width="2.2"/>
<line x1="1751.31" y1="1474.88" x2="1751.31" y2="1477.68" stroke="#000" stroke-width="2.2"/>
<line x1="1745.81" y1="1474.88" x2="1756.81" y2="1474.88" stroke="#000" stroke-width="2.2"/>
<rect x="1765.99" y="1487" width="18.5" height="0.7" fill="#f27f7c" stroke="#000" stroke-width="2.2"/>
<line x1="1799.17" y1="1470.46" x2="1799.17" y2="1471.86" stroke="#000" stroke-width="2.2"/>
<line x1="1793.67" y1="1470.46" x2="1804.67" y2="1470.46" stroke="#000" stroke-width="2.2"/>
<rect x="1789.92" y="1471.86" width="18.5" height="15.84" fill="#fdd378" stroke="#000" stroke-width="2.2"/>
<rect x="1789.92" y="1476.75" width="18.5" height="10.95" fill="#f27f7c" stroke="#000" stroke-width="2.2"/>
<line x1="1799.17" y1="1474.42" x2="1799.17" y2="1476.75" stroke="#000" stroke-width="2.2"/>
<line x1="1793.67" y1="1474.42" x2="1804.67" y2="1474.42" stroke="#000" stroke-width="2.2"/>
<line x1="1823.1" y1="1434.11" x2="1823.1" y2="1435.04" stroke="#000" stroke-width="2.2"/>
<line x1="1817.6" y1="1434.11" x2="1828.6" y2="1434.11" stroke="#000" stroke-width="2.2"/>
<rect x="1813.85" y="1435.04" width="18.5" height="52.66" fill="#fdd378" stroke="#000" stroke-width="2.2"/>
<rect x="1813.85" y="1450.19" width="18.5" height="37.51" fill="#f27f7c" stroke="#000" stroke-width="2.2"/>
<line x1="1823.1" y1="1446.69" x2="1823.1" y2="1450.19" stroke="#000" stroke-width="2.2"/>
<line x1="1817.6" y1="1446.69" x2="1828.6" y2="1446.69" stroke="#000" stroke-width="2.2"/>
<line x1="1847.03" y1="1446.69" x2="1847.03" y2="1448.56" stroke="#000" stroke-width="2.2"/>
<line x1="1841.53" y1="1446.69" x2="1852.53" y2="1446.69" stroke="#000" stroke-width="2.2"/>
<rect x="1837.78" y="1448.56" width="18.5" height="39.14" fill="#fdd378" stroke="#000" stroke-width="2.2"/>
<rect x="1837.78" y="1463" width="18.5" height="24.7" fill="#f27f7c" stroke="#000" stroke-width="2.2"/>
<line x1="1847.03" y1="1459.74" x2="1847.03" y2="1463" stroke="#000" stroke-width="2.2"/>
<line x1="1841.53" y1="1459.74" x2="1852.53" y2="1459.74" stroke="#000" stroke-width="2.2"/>
<line x1="1870.96" y1="1424.56" x2="1870.96" y2="1426.42" stroke="#000" stroke-width="2.2"/>
<line x1="1865.46" y1="1424.56" x2="1876.46" y2="1424.56" stroke="#000" stroke-width="2.2"/>
<rect x="1861.71" y="1426.42" width="18.5" height="61.28" fill="#fdd378" stroke="#000" stroke-width="2.2"/>
<rect x="1861.71" y="1446.69" width="18.5" height="41.01" fill="#f27f7c" stroke="#000" stroke-width="2.2"/>
<line x1="1870.96" y1="1442.96" x2="1870.96" y2="1446.69" stroke="#000" stroke-width="2.2"/>
<line x1="1865.46" y1="1442.96" x2="1876.46" y2="1442.96" stroke="#000" stroke-width="2.2"/>
<line x1="1894.89" y1="1427.82" x2="1894.89" y2="1430.62" stroke="#000" stroke-width="2.2"/>
<line x1="1889.39" y1="1427.82" x2="1900.39" y2="1427.82" stroke="#000" stroke-width="2.2"/>
<rect x="1885.64" y="1430.62" width="18.5" height="57.09" fill="#fdd378" stroke="#000" stroke-width="2.2"/>
<rect x="1885.64" y="1449.49" width="18.5" height="38.21" fill="#f27f7c" stroke="#000" stroke-width="2.2"/>
<line x1="1894.89" y1="1448.09" x2="1894.89" y2="1449.49" stroke="#000" stroke-width="2.2"/>
<line x1="1889.39" y1="1448.09" x2="1900.39" y2="1448.09" stroke="#000" stroke-width="2.2"/>
<line x1="1596.6" y1="1291.7" x2="1712.6" y2="1291.7" stroke="#231f20" stroke-width="2"/>
<text x="1601.2" y="1281" font-size="20.5" fill="#231f20"><tspan font-style="italic">p</tspan> &lt; 0.0001</text>
<text x="1759" y="1448" font-size="20.5" fill="#231f20" transform="rotate(-90 1759 1448)"><tspan font-style="italic">p</tspan> &lt; 0.0001</text>
<text x="1801.2" y="1448" font-size="20.5" fill="#231f20" transform="rotate(-90 1801.2 1448)"><tspan font-style="italic">p</tspan> = 0.0003</text>
<text x="1850.4" y="1421" font-size="20.5" fill="#231f20" transform="rotate(-90 1850.4 1421)"><tspan font-style="italic">p</tspan> = 0.0032</text>
<text x="1592.24" y="1500.9" font-size="24.4" text-anchor="end" transform="rotate(-90 1592.24 1500.9)">HPDE</text>
<text x="1616.3" y="1500.9" font-size="24.4" text-anchor="end" fill="#524f9c" transform="rotate(-90 1616.3 1500.9)">AsPC-1</text>
<text x="1640.36" y="1500.9" font-size="24.4" text-anchor="end" fill="#524f9c" transform="rotate(-90 1640.36 1500.9)">MIA PaCa-2</text>
<text x="1664.42" y="1500.9" font-size="24.4" text-anchor="end" fill="#524f9c" transform="rotate(-90 1664.42 1500.9)">SUIT-2</text>
<text x="1688.48" y="1500.9" font-size="24.4" text-anchor="end" fill="#524f9c" transform="rotate(-90 1688.48 1500.9)">PA-TU-8988T</text>
<text x="1712.54" y="1500.9" font-size="24.4" text-anchor="end" fill="#524f9c" transform="rotate(-90 1712.54 1500.9)">iKRas #1</text>
<text x="1736.6" y="1500.9" font-size="24.4" text-anchor="end" transform="rotate(-90 1736.6 1500.9)">MCF10A</text>
<text x="1760.66" y="1500.9" font-size="24.4" text-anchor="end" fill="#7c1116" transform="rotate(-90 1760.66 1500.9)">T-47D</text>
<text x="1784.72" y="1500.9" font-size="24.4" text-anchor="end" fill="#7c1116" transform="rotate(-90 1784.72 1500.9)">BT-474</text>
<text x="1808.78" y="1500.9" font-size="24.4" text-anchor="end" fill="#7c1116" transform="rotate(-90 1808.78 1500.9)">MDA-MB 157</text>
<text x="1832.84" y="1500.9" font-size="24.4" text-anchor="end" transform="rotate(-90 1832.84 1500.9)">BEAS-2B</text>
<text x="1856.9" y="1500.9" font-size="24.4" text-anchor="end" fill="#0f502a" transform="rotate(-90 1856.9 1500.9)">NCI-H1975</text>
<text x="1880.96" y="1500.9" font-size="24.4" text-anchor="end" fill="#0f502a" transform="rotate(-90 1880.96 1500.9)">A549</text>
<text x="1905.02" y="1500.9" font-size="24.4" text-anchor="end" fill="#0f502a" transform="rotate(-90 1905.02 1500.9)">Calu-1</text>
<polygon points="1583.9,1632.8 1573.65,1650.3 1594.15,1650.3" fill="#231f20"/>
<polygon points="1728.5,1632.8 1718.25,1650.3 1738.75,1650.3" fill="#231f20"/>
<polygon points="1824,1632.8 1813.75,1650.3 1834.25,1650.3" fill="#231f20"/>
<text x="-0.8" y="1709.9" font-size="34" fill="#231f20" font-weight="bold">g</text>
<text x="474.9" y="1794.5" font-size="29.5" text-anchor="middle"><tspan dy="-10.91" font-size="14.16">15</tspan><tspan dy="10.91">N-Arg tracing</tspan></text>
<text x="478.7" y="1829.8" font-size="29.5" text-anchor="middle">Plasma levels Gln/Arg</text>
<line x1="101.9" y1="1846.1" x2="864.8" y2="1847.8" stroke="#231f20" stroke-width="2"/>
<rect x="763.1" y="1789" width="37.5" height="19.2" fill="#0b9292" stroke="#000" stroke-width="2.2"/>
<rect x="763.1" y="1820.6" width="37.5" height="19" fill="#7fc8c9" stroke="#000" stroke-width="2.2"/>
<text x="811" y="1808.2" font-size="24.5">M+1</text>
<text x="811" y="1840" font-size="24.5">M+2</text>
<text x="298.5" y="1880.5" font-size="27.2" text-anchor="middle"><tspan dy="-10.06" font-size="13.06">15</tspan><tspan dy="10.06">N-ornithine</tspan></text>
<text x="192.4" y="1916.6" font-size="27.2" text-anchor="middle" fill="#524f9c">PDA</text>
<line x1="122.1" y1="1926.5" x2="264.8" y2="1926.5" stroke="#231f20" stroke-width="2"/>
<text x="314" y="1916.6" font-size="27.2" text-anchor="middle" fill="#7c1116">BRCA</text>
<line x1="273.4" y1="1926.5" x2="360.2" y2="1926.5" stroke="#231f20" stroke-width="2"/>
<text x="411.3" y="1916.6" font-size="27.2" text-anchor="middle" fill="#0f502a">LUAD</text>
<line x1="369.5" y1="1926.5" x2="456.6" y2="1926.5" stroke="#231f20" stroke-width="2"/>
<line x1="118.6" y1="1928.45" x2="118.6" y2="2163.75" stroke="#000" stroke-width="2.5"/>
<line x1="108.4" y1="2162.5" x2="118.6" y2="2162.5" stroke="#000" stroke-width="2.5"/>
<text x="104.2" y="2167.34" font-size="24.4" text-anchor="end">0</text>
<line x1="108.4" y1="2104.3" x2="118.6" y2="2104.3" stroke="#000" stroke-width="2.5"/>
<text x="104.2" y="2109.14" font-size="24.4" text-anchor="end">20</text>
<line x1="108.4" y1="2046.1" x2="118.6" y2="2046.1" stroke="#000" stroke-width="2.5"/>
<text x="104.2" y="2050.94" font-size="24.4" text-anchor="end">40</text>
<line x1="108.4" y1="1987.9" x2="118.6" y2="1987.9" stroke="#000" stroke-width="2.5"/>
<text x="104.2" y="1992.74" font-size="24.4" text-anchor="end">60</text>
<line x1="108.4" y1="1929.7" x2="118.6" y2="1929.7" stroke="#000" stroke-width="2.5"/>
<text x="104.2" y="1934.54" font-size="24.4" text-anchor="end">80</text>
<line x1="108.4" y1="2162.5" x2="467.3" y2="2162.5" stroke="#000" stroke-width="2.5"/>
<line x1="137.7" y1="2162.5" x2="137.7" y2="2172.5" stroke="#000" stroke-width="2.5"/>
<line x1="161.63" y1="2162.5" x2="161.63" y2="2172.5" stroke="#000" stroke-width="2.5"/>
<line x1="185.56" y1="2162.5" x2="185.56" y2="2172.5" stroke="#000" stroke-width="2.5"/>
<line x1="209.49" y1="2162.5" x2="209.49" y2="2172.5" stroke="#000" stroke-width="2.5"/>
<line x1="233.42" y1="2162.5" x2="233.42" y2="2172.5" stroke="#000" stroke-width="2.5"/>
<line x1="257.35" y1="2162.5" x2="257.35" y2="2172.5" stroke="#000" stroke-width="2.5"/>
<line x1="281.28" y1="2162.5" x2="281.28" y2="2172.5" stroke="#000" stroke-width="2.5"/>
<line x1="305.21" y1="2162.5" x2="305.21" y2="2172.5" stroke="#000" stroke-width="2.5"/>
<line x1="329.14" y1="2162.5" x2="329.14" y2="2172.5" stroke="#000" stroke-width="2.5"/>
<line x1="353.07" y1="2162.5" x2="353.07" y2="2172.5" stroke="#000" stroke-width="2.5"/>
<line x1="377" y1="2162.5" x2="377" y2="2172.5" stroke="#000" stroke-width="2.5"/>
<line x1="400.93" y1="2162.5" x2="400.93" y2="2172.5" stroke="#000" stroke-width="2.5"/>
<line x1="424.86" y1="2162.5" x2="424.86" y2="2172.5" stroke="#000" stroke-width="2.5"/>
<line x1="448.79" y1="2162.5" x2="448.79" y2="2172.5" stroke="#000" stroke-width="2.5"/>
<line x1="137.7" y1="2002.45" x2="137.7" y2="2012.05" stroke="#000" stroke-width="2.2"/>
<line x1="132.2" y1="2002.45" x2="143.2" y2="2002.45" stroke="#000" stroke-width="2.2"/>
<rect x="128.45" y="2012.05" width="18.5" height="150.45" fill="#7fc8c9" stroke="#000" stroke-width="2.2"/>
<line x1="161.63" y1="2152.32" x2="161.63" y2="2154.35" stroke="#000" stroke-width="2.2"/>
<line x1="156.13" y1="2152.32" x2="167.13" y2="2152.32" stroke="#000" stroke-width="2.2"/>
<rect x="152.38" y="2154.35" width="18.5" height="8.15" fill="#7fc8c9" stroke="#000" stroke-width="2.2"/>
<line x1="185.56" y1="2136.6" x2="185.56" y2="2147.66" stroke="#000" stroke-width="2.2"/>
<line x1="180.06" y1="2136.6" x2="191.06" y2="2136.6" stroke="#000" stroke-width="2.2"/>
<rect x="176.31" y="2147.66" width="18.5" height="14.84" fill="#7fc8c9" stroke="#000" stroke-width="2.2"/>
<line x1="209.49" y1="2154.35" x2="209.49" y2="2158.72" stroke="#000" stroke-width="2.2"/>
<line x1="203.99" y1="2154.35" x2="214.99" y2="2154.35" stroke="#000" stroke-width="2.2"/>
<rect x="200.24" y="2158.72" width="18.5" height="3.78" fill="#7fc8c9" stroke="#000" stroke-width="2.2"/>
<line x1="233.42" y1="2122.63" x2="233.42" y2="2127.58" stroke="#000" stroke-width="2.2"/>
<line x1="227.92" y1="2122.63" x2="238.92" y2="2122.63" stroke="#000" stroke-width="2.2"/>
<rect x="224.17" y="2127.58" width="18.5" height="34.92" fill="#7fc8c9" stroke="#000" stroke-width="2.2"/>
<rect x="224.17" y="2159.88" width="18.5" height="2.62" fill="#0b9292" stroke="#000" stroke-width="2.2"/>
<line x1="233.42" y1="2156.39" x2="233.42" y2="2159.88" stroke="#000" stroke-width="2.2"/>
<line x1="227.92" y1="2156.39" x2="238.92" y2="2156.39" stroke="#000" stroke-width="2.2"/>
<line x1="257.35" y1="2140.68" x2="257.35" y2="2147.08" stroke="#000" stroke-width="2.2"/>
<line x1="251.85" y1="2140.68" x2="262.85" y2="2140.68" stroke="#000" stroke-width="2.2"/>
<rect x="248.1" y="2147.08" width="18.5" height="15.42" fill="#7fc8c9" stroke="#000" stroke-width="2.2"/>
<line x1="281.28" y1="2077.24" x2="281.28" y2="2083.64" stroke="#000" stroke-width="2.2"/>
<line x1="275.78" y1="2077.24" x2="286.78" y2="2077.24" stroke="#000" stroke-width="2.2"/>
<rect x="272.03" y="2083.64" width="18.5" height="78.86" fill="#7fc8c9" stroke="#000" stroke-width="2.2"/>
<line x1="305.21" y1="1983.53" x2="305.21" y2="2000.99" stroke="#000" stroke-width="2.2"/>
<line x1="299.71" y1="1983.53" x2="310.71" y2="1983.53" stroke="#000" stroke-width="2.2"/>
<rect x="295.96" y="2000.99" width="18.5" height="161.51" fill="#7fc8c9" stroke="#000" stroke-width="2.2"/>
<rect x="295.96" y="2159.88" width="18.5" height="2.62" fill="#0b9292" stroke="#000" stroke-width="2.2"/>
<line x1="305.21" y1="2158.72" x2="305.21" y2="2159.88" stroke="#000" stroke-width="2.2"/>
<line x1="299.71" y1="2158.72" x2="310.71" y2="2158.72" stroke="#000" stroke-width="2.2"/>
<line x1="329.14" y1="1987.32" x2="329.14" y2="2003.9" stroke="#000" stroke-width="2.2"/>
<line x1="323.64" y1="1987.32" x2="334.64" y2="1987.32" stroke="#000" stroke-width="2.2"/>
<rect x="319.89" y="2003.9" width="18.5" height="158.6" fill="#7fc8c9" stroke="#000" stroke-width="2.2"/>
<line x1="353.07" y1="2009.73" x2="353.07" y2="2030.1" stroke="#000" stroke-width="2.2"/>
<line x1="347.57" y1="2009.73" x2="358.57" y2="2009.73" stroke="#000" stroke-width="2.2"/>
<rect x="343.82" y="2030.1" width="18.5" height="132.4" fill="#7fc8c9" stroke="#000" stroke-width="2.2"/>
<line x1="377" y1="2044.94" x2="377" y2="2054.54" stroke="#000" stroke-width="2.2"/>
<line x1="371.5" y1="2044.94" x2="382.5" y2="2044.94" stroke="#000" stroke-width="2.2"/>
<rect x="367.75" y="2054.54" width="18.5" height="107.96" fill="#7fc8c9" stroke="#000" stroke-width="2.2"/>
<line x1="400.93" y1="2049.3" x2="400.93" y2="2055.99" stroke="#000" stroke-width="2.2"/>
<line x1="395.43" y1="2049.3" x2="406.43" y2="2049.3" stroke="#000" stroke-width="2.2"/>
<rect x="391.68" y="2055.99" width="18.5" height="106.51" fill="#7fc8c9" stroke="#000" stroke-width="2.2"/>
<rect x="391.68" y="2161.92" width="18.5" height="0.58" fill="#0b9292" stroke="#000" stroke-width="2.2"/>
<line x1="424.86" y1="2006.82" x2="424.86" y2="2012.63" stroke="#000" stroke-width="2.2"/>
<line x1="419.36" y1="2006.82" x2="430.36" y2="2006.82" stroke="#000" stroke-width="2.2"/>
<rect x="415.61" y="2012.63" width="18.5" height="149.87" fill="#7fc8c9" stroke="#000" stroke-width="2.2"/>
<rect x="415.61" y="2161.63" width="18.5" height="0.87" fill="#0b9292" stroke="#000" stroke-width="2.2"/>
<line x1="448.79" y1="2003.03" x2="448.79" y2="2012.05" stroke="#000" stroke-width="2.2"/>
<line x1="443.29" y1="2003.03" x2="454.29" y2="2003.03" stroke="#000" stroke-width="2.2"/>
<rect x="439.54" y="2012.05" width="18.5" height="150.45" fill="#7fc8c9" stroke="#000" stroke-width="2.2"/>
<rect x="439.54" y="2161.92" width="18.5" height="0.58" fill="#0b9292" stroke="#000" stroke-width="2.2"/>
<text x="52.5" y="2050" font-size="27" text-anchor="middle" transform="rotate(-90 52.5 2050)">% labeled</text>
<line x1="151.9" y1="2108.7" x2="263.3" y2="2108.7" stroke="#231f20" stroke-width="2"/>
<text x="160" y="2098" font-size="20.5" fill="#231f20"><tspan font-style="italic">p</tspan> &lt; 0.0001</text>
<line x1="295.1" y1="1969.8" x2="363.1" y2="1969.8" stroke="#231f20" stroke-width="2"/>
<text x="285.9" y="1959" font-size="20.5" fill="#231f20"><tspan font-style="italic">p</tspan> &lt; 0.0001</text>
<line x1="418.7" y1="1990.9" x2="460" y2="1990.9" stroke="#231f20" stroke-width="2"/>
<text x="384.8" y="1981.6" font-size="20.5" fill="#231f20"><tspan font-style="italic">p</tspan> &lt; 0.0001</text>
<text x="144.14" y="2176.2" font-size="24.4" text-anchor="end" transform="rotate(-90 144.14 2176.2)">HPDE</text>
<text x="168.18" y="2176.2" font-size="24.4" text-anchor="end" fill="#524f9c" transform="rotate(-90 168.18 2176.2)">AsPC-1</text>
<text x="192.22" y="2176.2" font-size="24.4" text-anchor="end" fill="#524f9c" transform="rotate(-90 192.22 2176.2)">MIA PaCa-2</text>
<text x="216.26" y="2176.2" font-size="24.4" text-anchor="end" fill="#524f9c" transform="rotate(-90 216.26 2176.2)">SUIT-2</text>
<text x="240.3" y="2176.2" font-size="24.4" text-anchor="end" fill="#524f9c" transform="rotate(-90 240.3 2176.2)">PA-TU-8988T</text>
<text x="264.34" y="2176.2" font-size="24.4" text-anchor="end" fill="#524f9c" transform="rotate(-90 264.34 2176.2)">iKRas #1</text>
<text x="288.38" y="2176.2" font-size="24.4" text-anchor="end" transform="rotate(-90 288.38 2176.2)">MCF10A</text>
<text x="312.42" y="2176.2" font-size="24.4" text-anchor="end" fill="#7c1116" transform="rotate(-90 312.42 2176.2)">T-47D</text>
<text x="336.46" y="2176.2" font-size="24.4" text-anchor="end" fill="#7c1116" transform="rotate(-90 336.46 2176.2)">BT-474</text>
<text x="360.5" y="2176.2" font-size="24.4" text-anchor="end" fill="#7c1116" transform="rotate(-90 360.5 2176.2)">MDA-MB 157</text>
<text x="384.54" y="2176.2" font-size="24.4" text-anchor="end" transform="rotate(-90 384.54 2176.2)">BEAS-2B</text>
<text x="408.58" y="2176.2" font-size="24.4" text-anchor="end" fill="#0f502a" transform="rotate(-90 408.58 2176.2)">NCI-H1975</text>
<text x="432.62" y="2176.2" font-size="24.4" text-anchor="end" fill="#0f502a" transform="rotate(-90 432.62 2176.2)">A549</text>
<text x="456.66" y="2176.2" font-size="24.4" text-anchor="end" fill="#0f502a" transform="rotate(-90 456.66 2176.2)">Calu-1</text>
<polygon points="134.5,2317.2 124.25,2334.3 144.75,2334.3" fill="#231f20"/>
<polygon points="280.1,2317.2 269.85,2334.3 290.35,2334.3" fill="#231f20"/>
<polygon points="375.6,2317.2 365.35,2334.3 385.85,2334.3" fill="#231f20"/>
<text x="699" y="1880.5" font-size="27.2" text-anchor="middle"><tspan dy="-10.06" font-size="13.06">15</tspan><tspan dy="10.06">N-putrescine</tspan></text>
<text x="605.7" y="1917.5" font-size="27.2" text-anchor="middle" fill="#524f9c">PDA</text>
<line x1="535.5" y1="1927.4" x2="678.1" y2="1927.4" stroke="#231f20" stroke-width="2"/>
<text x="727.2" y="1917.5" font-size="27.2" text-anchor="middle" fill="#7c1116">BRCA</text>
<line x1="686.5" y1="1927.4" x2="773.6" y2="1927.4" stroke="#231f20" stroke-width="2"/>
<text x="824.7" y="1917.5" font-size="27.2" text-anchor="middle" fill="#0f502a">LUAD</text>
<line x1="782.3" y1="1927.4" x2="869.7" y2="1927.4" stroke="#231f20" stroke-width="2"/>
<line x1="532" y1="1928.45" x2="532" y2="2163.75" stroke="#000" stroke-width="2.5"/>
<line x1="521.8" y1="2162.5" x2="532" y2="2162.5" stroke="#000" stroke-width="2.5"/>
<text x="517.6" y="2171.04" font-size="24.4" text-anchor="end">0</text>
<line x1="521.8" y1="2104.3" x2="532" y2="2104.3" stroke="#000" stroke-width="2.5"/>
<text x="517.6" y="2112.84" font-size="24.4" text-anchor="end">20</text>
<line x1="521.8" y1="2046.1" x2="532" y2="2046.1" stroke="#000" stroke-width="2.5"/>
<text x="517.6" y="2054.64" font-size="24.4" text-anchor="end">40</text>
<line x1="521.8" y1="1987.9" x2="532" y2="1987.9" stroke="#000" stroke-width="2.5"/>
<text x="517.6" y="1996.44" font-size="24.4" text-anchor="end">60</text>
<line x1="521.8" y1="1929.7" x2="532" y2="1929.7" stroke="#000" stroke-width="2.5"/>
<text x="517.6" y="1938.24" font-size="24.4" text-anchor="end">80</text>
<line x1="521.8" y1="2162.5" x2="879.8" y2="2162.5" stroke="#000" stroke-width="2.5"/>
<line x1="549.7" y1="2162.5" x2="549.7" y2="2172.5" stroke="#000" stroke-width="2.5"/>
<line x1="573.62" y1="2162.5" x2="573.62" y2="2172.5" stroke="#000" stroke-width="2.5"/>
<line x1="597.54" y1="2162.5" x2="597.54" y2="2172.5" stroke="#000" stroke-width="2.5"/>
<line x1="621.46" y1="2162.5" x2="621.46" y2="2172.5" stroke="#000" stroke-width="2.5"/>
<line x1="645.38" y1="2162.5" x2="645.38" y2="2172.5" stroke="#000" stroke-width="2.5"/>
<line x1="669.3" y1="2162.5" x2="669.3" y2="2172.5" stroke="#000" stroke-width="2.5"/>
<line x1="693.22" y1="2162.5" x2="693.22" y2="2172.5" stroke="#000" stroke-width="2.5"/>
<line x1="717.14" y1="2162.5" x2="717.14" y2="2172.5" stroke="#000" stroke-width="2.5"/>
<line x1="741.06" y1="2162.5" x2="741.06" y2="2172.5" stroke="#000" stroke-width="2.5"/>
<line x1="764.98" y1="2162.5" x2="764.98" y2="2172.5" stroke="#000" stroke-width="2.5"/>
<line x1="788.9" y1="2162.5" x2="788.9" y2="2172.5" stroke="#000" stroke-width="2.5"/>
<line x1="812.82" y1="2162.5" x2="812.82" y2="2172.5" stroke="#000" stroke-width="2.5"/>
<line x1="836.74" y1="2162.5" x2="836.74" y2="2172.5" stroke="#000" stroke-width="2.5"/>
<line x1="860.66" y1="2162.5" x2="860.66" y2="2172.5" stroke="#000" stroke-width="2.5"/>
<line x1="549.7" y1="1994.59" x2="549.7" y2="2000.12" stroke="#000" stroke-width="2.2"/>
<line x1="544.2" y1="1994.59" x2="555.2" y2="1994.59" stroke="#000" stroke-width="2.2"/>
<rect x="540.45" y="2000.12" width="18.5" height="162.38" fill="#7fc8c9" stroke="#000" stroke-width="2.2"/>
<rect x="540.45" y="2161.92" width="18.5" height="0.58" fill="#0b9292" stroke="#000" stroke-width="2.2"/>
<line x1="573.62" y1="2140.38" x2="573.62" y2="2144.17" stroke="#000" stroke-width="2.2"/>
<line x1="568.12" y1="2140.38" x2="579.12" y2="2140.38" stroke="#000" stroke-width="2.2"/>
<rect x="564.37" y="2144.17" width="18.5" height="18.33" fill="#7fc8c9" stroke="#000" stroke-width="2.2"/>
<line x1="597.54" y1="2097.32" x2="597.54" y2="2102.84" stroke="#000" stroke-width="2.2"/>
<line x1="592.04" y1="2097.32" x2="603.04" y2="2097.32" stroke="#000" stroke-width="2.2"/>
<rect x="588.29" y="2102.84" width="18.5" height="59.66" fill="#7fc8c9" stroke="#000" stroke-width="2.2"/>
<rect x="588.29" y="2161.92" width="18.5" height="0.58" fill="#0b9292" stroke="#000" stroke-width="2.2"/>
<line x1="621.46" y1="2120.89" x2="621.46" y2="2121.76" stroke="#000" stroke-width="2.2"/>
<line x1="615.96" y1="2120.89" x2="626.96" y2="2120.89" stroke="#000" stroke-width="2.2"/>
<rect x="612.21" y="2121.76" width="18.5" height="40.74" fill="#7fc8c9" stroke="#000" stroke-width="2.2"/>
<line x1="645.38" y1="2102.26" x2="645.38" y2="2108.08" stroke="#000" stroke-width="2.2"/>
<line x1="639.88" y1="2102.26" x2="650.88" y2="2102.26" stroke="#000" stroke-width="2.2"/>
<rect x="636.13" y="2108.08" width="18.5" height="54.42" fill="#7fc8c9" stroke="#000" stroke-width="2.2"/>
<rect x="636.13" y="2160.75" width="18.5" height="1.75" fill="#0b9292" stroke="#000" stroke-width="2.2"/>
<line x1="669.3" y1="2150.57" x2="669.3" y2="2151.44" stroke="#000" stroke-width="2.2"/>
<line x1="663.8" y1="2150.57" x2="674.8" y2="2150.57" stroke="#000" stroke-width="2.2"/>
<rect x="660.05" y="2151.44" width="18.5" height="11.06" fill="#7fc8c9" stroke="#000" stroke-width="2.2"/>
<line x1="693.22" y1="2156.97" x2="693.22" y2="2157.84" stroke="#000" stroke-width="2.2"/>
<line x1="687.72" y1="2156.97" x2="698.72" y2="2156.97" stroke="#000" stroke-width="2.2"/>
<rect x="683.97" y="2157.84" width="18.5" height="4.66" fill="#7fc8c9" stroke="#000" stroke-width="2.2"/>
<line x1="717.14" y1="2018.75" x2="717.14" y2="2021.95" stroke="#000" stroke-width="2.2"/>
<line x1="711.64" y1="2018.75" x2="722.64" y2="2018.75" stroke="#000" stroke-width="2.2"/>
<rect x="707.89" y="2021.95" width="18.5" height="140.55" fill="#7fc8c9" stroke="#000" stroke-width="2.2"/>
<rect x="707.89" y="2152.02" width="18.5" height="10.48" fill="#0b9292" stroke="#000" stroke-width="2.2"/>
<line x1="741.06" y1="1982.95" x2="741.06" y2="1988.77" stroke="#000" stroke-width="2.2"/>
<line x1="735.56" y1="1982.95" x2="746.56" y2="1982.95" stroke="#000" stroke-width="2.2"/>
<rect x="731.81" y="1988.77" width="18.5" height="173.73" fill="#7fc8c9" stroke="#000" stroke-width="2.2"/>
<rect x="731.81" y="2161.92" width="18.5" height="0.58" fill="#0b9292" stroke="#000" stroke-width="2.2"/>
<line x1="764.98" y1="2008.27" x2="764.98" y2="2012.63" stroke="#000" stroke-width="2.2"/>
<line x1="759.48" y1="2008.27" x2="770.48" y2="2008.27" stroke="#000" stroke-width="2.2"/>
<rect x="755.73" y="2012.63" width="18.5" height="149.87" fill="#7fc8c9" stroke="#000" stroke-width="2.2"/>
<line x1="788.9" y1="2057.45" x2="788.9" y2="2064.72" stroke="#000" stroke-width="2.2"/>
<line x1="783.4" y1="2057.45" x2="794.4" y2="2057.45" stroke="#000" stroke-width="2.2"/>
<rect x="779.65" y="2064.72" width="18.5" height="97.78" fill="#7fc8c9" stroke="#000" stroke-width="2.2"/>
<rect x="779.65" y="2161.92" width="18.5" height="0.58" fill="#0b9292" stroke="#000" stroke-width="2.2"/>
<line x1="812.82" y1="2053.08" x2="812.82" y2="2057.45" stroke="#000" stroke-width="2.2"/>
<line x1="807.32" y1="2053.08" x2="818.32" y2="2053.08" stroke="#000" stroke-width="2.2"/>
<rect x="803.57" y="2057.45" width="18.5" height="105.05" fill="#7fc8c9" stroke="#000" stroke-width="2.2"/>
<line x1="836.74" y1="2008.27" x2="836.74" y2="2012.63" stroke="#000" stroke-width="2.2"/>
<line x1="831.24" y1="2008.27" x2="842.24" y2="2008.27" stroke="#000" stroke-width="2.2"/>
<rect x="827.49" y="2012.63" width="18.5" height="149.87" fill="#7fc8c9" stroke="#000" stroke-width="2.2"/>
<line x1="860.66" y1="1968.69" x2="860.66" y2="1975.68" stroke="#000" stroke-width="2.2"/>
<line x1="855.16" y1="1968.69" x2="866.16" y2="1968.69" stroke="#000" stroke-width="2.2"/>
<rect x="851.41" y="1975.68" width="18.5" height="186.82" fill="#7fc8c9" stroke="#000" stroke-width="2.2"/>
<rect x="851.41" y="2161.63" width="18.5" height="0.87" fill="#0b9292" stroke="#000" stroke-width="2.2"/>
<line x1="565" y1="2081.2" x2="677.8" y2="2081.2" stroke="#231f20" stroke-width="2"/>
<text x="576.6" y="2074.8" font-size="20.5" fill="#231f20"><tspan font-style="italic">p</tspan> &lt; 0.0001</text>
<line x1="711.1" y1="1964" x2="773.6" y2="1964" stroke="#231f20" stroke-width="2"/>
<text x="701.9" y="1954.7" font-size="20.5" fill="#231f20"><tspan font-style="italic">p</tspan> &lt; 0.0001</text>
<line x1="839.3" y1="1964" x2="881.3" y2="1964" stroke="#231f20" stroke-width="2"/>
<text x="814.1" y="1954.7" font-size="20.5" fill="#231f20"><tspan font-style="italic">p</tspan> &lt; 0.0001</text>
<text x="556.34" y="2176.2" font-size="24.4" text-anchor="end" transform="rotate(-90 556.34 2176.2)">HPDE</text>
<text x="580.38" y="2176.2" font-size="24.4" text-anchor="end" fill="#524f9c" transform="rotate(-90 580.38 2176.2)">AsPC-1</text>
<text x="604.42" y="2176.2" font-size="24.4" text-anchor="end" fill="#524f9c" transform="rotate(-90 604.42 2176.2)">MIA PaCa-2</text>
<text x="628.46" y="2176.2" font-size="24.4" text-anchor="end" fill="#524f9c" transform="rotate(-90 628.46 2176.2)">SUIT-2</text>
<text x="652.5" y="2176.2" font-size="24.4" text-anchor="end" fill="#524f9c" transform="rotate(-90 652.5 2176.2)">PA-TU-8988T</text>
<text x="676.54" y="2176.2" font-size="24.4" text-anchor="end" fill="#524f9c" transform="rotate(-90 676.54 2176.2)">iKRas #1</text>
<text x="700.58" y="2176.2" font-size="24.4" text-anchor="end" transform="rotate(-90 700.58 2176.2)">MCF10A</text>
<text x="724.62" y="2176.2" font-size="24.4" text-anchor="end" fill="#7c1116" transform="rotate(-90 724.62 2176.2)">T-47D</text>
<text x="748.66" y="2176.2" font-size="24.4" text-anchor="end" fill="#7c1116" transform="rotate(-90 748.66 2176.2)">BT-474</text>
<text x="772.7" y="2176.2" font-size="24.4" text-anchor="end" fill="#7c1116" transform="rotate(-90 772.7 2176.2)">MDA-MB 157</text>
<text x="796.74" y="2176.2" font-size="24.4" text-anchor="end" transform="rotate(-90 796.74 2176.2)">BEAS-2B</text>
<text x="820.78" y="2176.2" font-size="24.4" text-anchor="end" fill="#0f502a" transform="rotate(-90 820.78 2176.2)">NCI-H1975</text>
<text x="844.82" y="2176.2" font-size="24.4" text-anchor="end" fill="#0f502a" transform="rotate(-90 844.82 2176.2)">A549</text>
<text x="868.86" y="2176.2" font-size="24.4" text-anchor="end" fill="#0f502a" transform="rotate(-90 868.86 2176.2)">Calu-1</text>
<polygon points="547.1,2317.2 536.85,2334.3 557.35,2334.3" fill="#231f20"/>
<polygon points="692.3,2317.2 682.05,2334.3 702.55,2334.3" fill="#231f20"/>
<polygon points="787.8,2317.2 777.55,2334.3 798.05,2334.3" fill="#231f20"/>
<text x="943.7" y="1719.3" font-size="34" fill="#231f20" font-weight="bold">h</text>
<text x="1275" y="1727.8" font-size="29.5" text-anchor="middle">Plasma</text>
<text x="1276.8" y="1773.3" font-size="29.5" text-anchor="middle"><tspan dy="-10.91" font-size="14.16">15</tspan><tspan dy="10.91">N-glutamine</tspan></text>
<line x1="1128.5" y1="1784.25" x2="1128.5" y2="1977.05" stroke="#000" stroke-width="2.5"/>
<line x1="1120" y1="1975.8" x2="1128.5" y2="1975.8" stroke="#000" stroke-width="2.5"/>
<text x="1117.8" y="1983.04" font-size="24.4" text-anchor="end">0</text>
<line x1="1120" y1="1937.74" x2="1128.5" y2="1937.74" stroke="#000" stroke-width="2.5"/>
<text x="1117.8" y="1944.98" font-size="24.4" text-anchor="end">20</text>
<line x1="1120" y1="1899.68" x2="1128.5" y2="1899.68" stroke="#000" stroke-width="2.5"/>
<text x="1117.8" y="1906.92" font-size="24.4" text-anchor="end">40</text>
<line x1="1120" y1="1861.62" x2="1128.5" y2="1861.62" stroke="#000" stroke-width="2.5"/>
<text x="1117.8" y="1868.86" font-size="24.4" text-anchor="end">60</text>
<line x1="1120" y1="1823.56" x2="1128.5" y2="1823.56" stroke="#000" stroke-width="2.5"/>
<text x="1117.8" y="1830.8" font-size="24.4" text-anchor="end">80</text>
<line x1="1120" y1="1785.5" x2="1128.5" y2="1785.5" stroke="#000" stroke-width="2.5"/>
<text x="1117.8" y="1792.74" font-size="24.4" text-anchor="end">100</text>
<text x="1068.5" y="1874" font-size="27" text-anchor="middle" transform="rotate(-90 1068.5 1874)">% labeled</text>
<line x1="1120" y1="1975.8" x2="1413.9" y2="1975.8" stroke="#000" stroke-width="2.5"/>
<line x1="1128.3" y1="1975.8" x2="1128.3" y2="1982.8" stroke="#000" stroke-width="2.5"/>
<line x1="1223.1" y1="1975.8" x2="1223.1" y2="1982.8" stroke="#000" stroke-width="2.5"/>
<line x1="1317.9" y1="1975.8" x2="1317.9" y2="1982.8" stroke="#000" stroke-width="2.5"/>
<line x1="1412.7" y1="1975.8" x2="1412.7" y2="1982.8" stroke="#000" stroke-width="2.5"/>
<text x="1128.3" y="2004.7" font-size="24.4" text-anchor="middle">0</text>
<text x="1223.1" y="2004.7" font-size="24.4" text-anchor="middle">1</text>
<text x="1317.9" y="2004.7" font-size="24.4" text-anchor="middle">2</text>
<text x="1412.7" y="2004.7" font-size="24.4" text-anchor="middle">3</text>
<text x="1270.2" y="2033.1" font-size="26.3" text-anchor="middle">Hours</text>
<line x1="1175.7" y1="1866.5" x2="1175.7" y2="1886.2" stroke="#ef807d" stroke-width="2"/>
<line x1="1171.2" y1="1866.5" x2="1180.2" y2="1866.5" stroke="#ef807d" stroke-width="2"/>
<line x1="1171.2" y1="1886.2" x2="1180.2" y2="1886.2" stroke="#ef807d" stroke-width="2"/>
<line x1="1223.1" y1="1859.3" x2="1223.1" y2="1883.9" stroke="#ef807d" stroke-width="2"/>
<line x1="1218.6" y1="1859.3" x2="1227.6" y2="1859.3" stroke="#ef807d" stroke-width="2"/>
<line x1="1218.6" y1="1883.9" x2="1227.6" y2="1883.9" stroke="#ef807d" stroke-width="2"/>
<line x1="1317.9" y1="1832.7" x2="1317.9" y2="1881" stroke="#ef807d" stroke-width="2"/>
<line x1="1313.4" y1="1832.7" x2="1322.4" y2="1832.7" stroke="#ef807d" stroke-width="2"/>
<line x1="1313.4" y1="1881" x2="1322.4" y2="1881" stroke="#ef807d" stroke-width="2"/>
<line x1="1412.7" y1="1866.5" x2="1412.7" y2="1876.6" stroke="#ef807d" stroke-width="2"/>
<line x1="1408.2" y1="1866.5" x2="1417.2" y2="1866.5" stroke="#ef807d" stroke-width="2"/>
<line x1="1408.2" y1="1876.6" x2="1417.2" y2="1876.6" stroke="#ef807d" stroke-width="2"/>
<polyline points="1128.3,1975.8 1175.7,1875.89 1223.1,1871.33 1317.9,1856.86 1412.7,1871.33" fill="none" stroke="#ef807d" stroke-width="2.3"/>
<rect x="1124.1" y="1971.6" width="8.4" height="8.4" fill="#ef807d"/>
<rect x="1171.5" y="1871.69" width="8.4" height="8.4" fill="#ef807d"/>
<rect x="1218.9" y="1867.13" width="8.4" height="8.4" fill="#ef807d"/>
<rect x="1313.7" y="1852.66" width="8.4" height="8.4" fill="#ef807d"/>
<rect x="1408.5" y="1867.13" width="8.4" height="8.4" fill="#ef807d"/>
<line x1="1175.7" y1="1857" x2="1175.7" y2="1879.5" stroke="#1a9294" stroke-width="2"/>
<line x1="1171.2" y1="1857" x2="1180.2" y2="1857" stroke="#1a9294" stroke-width="2"/>
<line x1="1171.2" y1="1879.5" x2="1180.2" y2="1879.5" stroke="#1a9294" stroke-width="2"/>
<line x1="1223.1" y1="1836.7" x2="1223.1" y2="1878.1" stroke="#1a9294" stroke-width="2"/>
<line x1="1218.6" y1="1836.7" x2="1227.6" y2="1836.7" stroke="#1a9294" stroke-width="2"/>
<line x1="1218.6" y1="1878.1" x2="1227.6" y2="1878.1" stroke="#1a9294" stroke-width="2"/>
<line x1="1317.9" y1="1858" x2="1317.9" y2="1876.6" stroke="#1a9294" stroke-width="2"/>
<line x1="1313.4" y1="1858" x2="1322.4" y2="1858" stroke="#1a9294" stroke-width="2"/>
<line x1="1313.4" y1="1876.6" x2="1322.4" y2="1876.6" stroke="#1a9294" stroke-width="2"/>
<line x1="1412.7" y1="1856.4" x2="1412.7" y2="1874.6" stroke="#1a9294" stroke-width="2"/>
<line x1="1408.2" y1="1856.4" x2="1417.2" y2="1856.4" stroke="#1a9294" stroke-width="2"/>
<line x1="1408.2" y1="1874.6" x2="1417.2" y2="1874.6" stroke="#1a9294" stroke-width="2"/>
<polyline points="1128.3,1975.8 1175.7,1868.47 1223.1,1857.43 1317.9,1867.14 1412.7,1865.62" fill="none" stroke="#1a9294" stroke-width="2.3"/>
<circle cx="1128.3" cy="1975.8" r="4.3" fill="#1a9294"/>
<circle cx="1175.7" cy="1868.47" r="4.3" fill="#1a9294"/>
<circle cx="1223.1" cy="1857.43" r="4.3" fill="#1a9294"/>
<circle cx="1317.9" cy="1867.14" r="4.3" fill="#1a9294"/>
<circle cx="1412.7" cy="1865.62" r="4.3" fill="#1a9294"/>
<line x1="1288.2" y1="1925.4" x2="1319.2" y2="1925.4" stroke="#1a9294" stroke-width="2.2"/>
<circle cx="1303.7" cy="1925.4" r="5.3" fill="#1a9294"/>
<line x1="1288.2" y1="1956.2" x2="1319.2" y2="1956.2" stroke="#ef807d" stroke-width="2.2"/>
<rect x="1298.5" y="1951" width="10.4" height="10.4" fill="#ef807d"/>
<text x="1329.2" y="1931" font-size="25.8">iKras<tspan dy="-9.29" font-size="15.48">WT</tspan></text>
<text x="1329.2" y="1961.8" font-size="25.8">iKras<tspan dy="-9.29" font-size="15.48">G12D</tspan></text>
<text x="1486.7" y="1718.9" font-size="34" fill="#231f20" font-weight="bold">i</text>
<text x="1756.3" y="1729.8" font-size="29.5" text-anchor="middle"><tspan dy="-10.91" font-size="14.16">15</tspan><tspan dy="10.91">N-glutamine</tspan></text>
<text x="1691.8" y="1763.1" font-size="27.2" text-anchor="middle" fill="#231f20">Pancreas</text>
<text x="1830.8" y="1763.1" font-size="27.2" text-anchor="middle" fill="#231f20">PDA</text>
<line x1="1628.7" y1="1771.6" x2="1751.6" y2="1771.6" stroke="#231f20" stroke-width="2"/>
<line x1="1776.8" y1="1771.6" x2="1892" y2="1771.6" stroke="#231f20" stroke-width="2"/>
<line x1="1625.5" y1="1790.67" x2="1625.5" y2="1974.85" stroke="#000" stroke-width="2.5"/>
<line x1="1617.3" y1="1973.6" x2="1625.5" y2="1973.6" stroke="#000" stroke-width="2.5"/>
<text x="1612.7" y="1982.14" font-size="24.4" text-anchor="end">0</text>
<line x1="1617.3" y1="1928.18" x2="1625.5" y2="1928.18" stroke="#000" stroke-width="2.5"/>
<text x="1612.7" y="1936.72" font-size="24.4" text-anchor="end">20</text>
<line x1="1617.3" y1="1882.76" x2="1625.5" y2="1882.76" stroke="#000" stroke-width="2.5"/>
<text x="1612.7" y="1891.3" font-size="24.4" text-anchor="end">40</text>
<line x1="1617.3" y1="1837.34" x2="1625.5" y2="1837.34" stroke="#000" stroke-width="2.5"/>
<text x="1612.7" y="1845.88" font-size="24.4" text-anchor="end">60</text>
<line x1="1617.3" y1="1791.92" x2="1625.5" y2="1791.92" stroke="#000" stroke-width="2.5"/>
<text x="1612.7" y="1800.46" font-size="24.4" text-anchor="end">80</text>
<text x="1570" y="1874.5" font-size="27" text-anchor="middle" transform="rotate(-90 1570 1874.5)">% labeled</text>
<line x1="1617.3" y1="1973.6" x2="1896.9" y2="1973.6" stroke="#000" stroke-width="2.5"/>
<line x1="1655" y1="1973.6" x2="1655" y2="1981.1" stroke="#000" stroke-width="2.5"/>
<line x1="1691.5" y1="1973.6" x2="1691.5" y2="1981.1" stroke="#000" stroke-width="2.5"/>
<line x1="1727.6" y1="1973.6" x2="1727.6" y2="1981.1" stroke="#000" stroke-width="2.5"/>
<line x1="1793.7" y1="1973.6" x2="1793.7" y2="1981.1" stroke="#000" stroke-width="2.5"/>
<line x1="1830.3" y1="1973.6" x2="1830.3" y2="1981.1" stroke="#000" stroke-width="2.5"/>
<line x1="1866.5" y1="1973.6" x2="1866.5" y2="1981.1" stroke="#000" stroke-width="2.5"/>
<rect x="1640.7" y="1850" width="28.6" height="123.6" fill="#0b9292" stroke="#000" stroke-width="2.4"/>
<line x1="1655" y1="1822.52" x2="1655" y2="1877.5" stroke="#000" stroke-width="1.9"/>
<line x1="1647" y1="1822.52" x2="1663" y2="1822.52" stroke="#000" stroke-width="1.9"/>
<line x1="1647" y1="1877.5" x2="1663" y2="1877.5" stroke="#000" stroke-width="1.9"/>
<rect x="1677.2" y="1840.5" width="28.6" height="133.1" fill="#0b9292" stroke="#000" stroke-width="2.4"/>
<line x1="1691.5" y1="1834.68" x2="1691.5" y2="1847.7" stroke="#000" stroke-width="1.9"/>
<line x1="1683.5" y1="1834.68" x2="1699.5" y2="1834.68" stroke="#000" stroke-width="1.9"/>
<line x1="1683.5" y1="1847.7" x2="1699.5" y2="1847.7" stroke="#000" stroke-width="1.9"/>
<rect x="1713.3" y="1840.5" width="28.6" height="133.1" fill="#0b9292" stroke="#000" stroke-width="2.4"/>
<line x1="1727.6" y1="1834.68" x2="1727.6" y2="1847.7" stroke="#000" stroke-width="1.9"/>
<line x1="1719.6" y1="1834.68" x2="1735.6" y2="1834.68" stroke="#000" stroke-width="1.9"/>
<line x1="1719.6" y1="1847.7" x2="1735.6" y2="1847.7" stroke="#000" stroke-width="1.9"/>
<rect x="1779.4" y="1849.1" width="28.6" height="124.5" fill="#f27f7c" stroke="#000" stroke-width="2.4"/>
<line x1="1793.7" y1="1827.44" x2="1793.7" y2="1870.27" stroke="#000" stroke-width="1.9"/>
<line x1="1785.7" y1="1827.44" x2="1801.7" y2="1827.44" stroke="#000" stroke-width="1.9"/>
<line x1="1785.7" y1="1870.27" x2="1801.7" y2="1870.27" stroke="#000" stroke-width="1.9"/>
<rect x="1816" y="1866.5" width="28.6" height="107.1" fill="#f27f7c" stroke="#000" stroke-width="2.4"/>
<line x1="1830.3" y1="1850.01" x2="1830.3" y2="1880.97" stroke="#000" stroke-width="1.9"/>
<line x1="1822.3" y1="1850.01" x2="1838.3" y2="1850.01" stroke="#000" stroke-width="1.9"/>
<line x1="1822.3" y1="1880.97" x2="1838.3" y2="1880.97" stroke="#000" stroke-width="1.9"/>
<rect x="1852.2" y="1865.6" width="28.6" height="108" fill="#f27f7c" stroke="#000" stroke-width="2.4"/>
<line x1="1866.5" y1="1857.82" x2="1866.5" y2="1873.74" stroke="#000" stroke-width="1.9"/>
<line x1="1858.5" y1="1857.82" x2="1874.5" y2="1857.82" stroke="#000" stroke-width="1.9"/>
<line x1="1858.5" y1="1873.74" x2="1874.5" y2="1873.74" stroke="#000" stroke-width="1.9"/>
<circle cx="1655.29" cy="1824.55" r="3.5" fill="none" stroke="#000" stroke-width="1.9"/>
<circle cx="1647.48" cy="1843.36" r="3.5" fill="none" stroke="#000" stroke-width="1.9"/>
<circle cx="1662.53" cy="1841.33" r="3.5" fill="none" stroke="#000" stroke-width="1.9"/>
<circle cx="1655.29" cy="1889.07" r="3.5" fill="none" stroke="#000" stroke-width="1.9"/>
<circle cx="1679.31" cy="1839.02" r="3.5" fill="none" stroke="#000" stroke-width="1.9"/>
<circle cx="1691.46" cy="1834.68" r="3.5" fill="none" stroke="#000" stroke-width="1.9"/>
<circle cx="1703.61" cy="1836.12" r="3.5" fill="none" stroke="#000" stroke-width="1.9"/>
<circle cx="1691.46" cy="1850.59" r="3.5" fill="none" stroke="#000" stroke-width="1.9"/>
<circle cx="1716.06" cy="1839.02" r="3.5" fill="none" stroke="#000" stroke-width="1.9"/>
<circle cx="1728.21" cy="1834.68" r="3.5" fill="none" stroke="#000" stroke-width="1.9"/>
<circle cx="1739.78" cy="1836.7" r="3.5" fill="none" stroke="#000" stroke-width="1.9"/>
<circle cx="1727.63" cy="1850.59" r="3.5" fill="none" stroke="#000" stroke-width="1.9"/>
<circle cx="1794.18" cy="1820.21" r="3.5" fill="none" stroke="#000" stroke-width="1.9"/>
<circle cx="1786.95" cy="1854.93" r="3.5" fill="none" stroke="#000" stroke-width="1.9"/>
<circle cx="1801.41" cy="1849.14" r="3.5" fill="none" stroke="#000" stroke-width="1.9"/>
<circle cx="1794.18" cy="1871.71" r="3.5" fill="none" stroke="#000" stroke-width="1.9"/>
<circle cx="1818.78" cy="1862.16" r="3.5" fill="none" stroke="#000" stroke-width="1.9"/>
<circle cx="1830.93" cy="1855.8" r="3.5" fill="none" stroke="#000" stroke-width="1.9"/>
<circle cx="1841.92" cy="1856.96" r="3.5" fill="none" stroke="#000" stroke-width="1.9"/>
<circle cx="1830.93" cy="1889.07" r="3.5" fill="none" stroke="#000" stroke-width="1.9"/>
<circle cx="1859.28" cy="1857.82" r="3.5" fill="none" stroke="#000" stroke-width="1.9"/>
<circle cx="1859.28" cy="1864.48" r="3.5" fill="none" stroke="#000" stroke-width="1.9"/>
<circle cx="1873.75" cy="1860.72" r="3.5" fill="none" stroke="#000" stroke-width="1.9"/>
<circle cx="1866.52" cy="1878.08" r="3.5" fill="none" stroke="#000" stroke-width="1.9"/>
<text x="1655" y="2004.8" font-size="24.4" text-anchor="middle">1</text>
<text x="1691.5" y="2004.8" font-size="24.4" text-anchor="middle">2</text>
<text x="1727.6" y="2004.8" font-size="24.4" text-anchor="middle">3</text>
<text x="1795.5" y="2004.8" font-size="24.4" text-anchor="middle">1</text>
<text x="1832.1" y="2004.8" font-size="24.4" text-anchor="middle">2</text>
<text x="1868.3" y="2004.8" font-size="24.4" text-anchor="middle">3</text>
<text x="1760.6" y="2032.3" font-size="26.3" text-anchor="middle">Hours</text>
<text x="947.2" y="2081.7" font-size="34" fill="#231f20" font-weight="bold">j</text>
<text x="1185.6" y="2098.4" font-size="29.5" text-anchor="middle">Plasma</text>
<text x="1183" y="2143.3" font-size="29.5" text-anchor="middle"><tspan dy="-10.91" font-size="14.16">15</tspan><tspan dy="10.91">N-arginine (M+4)</tspan></text>
<line x1="1023.9" y1="2145.65" x2="1023.9" y2="2348.35" stroke="#000" stroke-width="2.5"/>
<line x1="1015.4" y1="2347.1" x2="1023.9" y2="2347.1" stroke="#000" stroke-width="2.5"/>
<text x="1011.9" y="2358.56" font-size="25.3" text-anchor="end">0</text>
<line x1="1015.4" y1="2297.05" x2="1023.9" y2="2297.05" stroke="#000" stroke-width="2.5"/>
<text x="1011.9" y="2306.96" font-size="25.3" text-anchor="end">20</text>
<line x1="1015.4" y1="2247" x2="1023.9" y2="2247" stroke="#000" stroke-width="2.5"/>
<text x="1011.9" y="2255.36" font-size="25.3" text-anchor="end">40</text>
<line x1="1015.4" y1="2196.95" x2="1023.9" y2="2196.95" stroke="#000" stroke-width="2.5"/>
<text x="1011.9" y="2203.76" font-size="25.3" text-anchor="end">60</text>
<line x1="1015.4" y1="2146.9" x2="1023.9" y2="2146.9" stroke="#000" stroke-width="2.5"/>
<text x="1011.9" y="2152.15" font-size="25.3" text-anchor="end">80</text>
<text x="969" y="2255.7" font-size="27" text-anchor="middle" transform="rotate(-90 969 2255.7)">% labeled</text>
<line x1="1015.4" y1="2347.1" x2="1325.2" y2="2347.1" stroke="#000" stroke-width="2.5"/>
<line x1="1023.9" y1="2347.1" x2="1023.9" y2="2355.5" stroke="#000" stroke-width="2.5"/>
<line x1="1124" y1="2347.1" x2="1124" y2="2355.5" stroke="#000" stroke-width="2.5"/>
<line x1="1224.1" y1="2347.1" x2="1224.1" y2="2355.5" stroke="#000" stroke-width="2.5"/>
<line x1="1324.2" y1="2347.1" x2="1324.2" y2="2355.5" stroke="#000" stroke-width="2.5"/>
<text x="1022.4" y="2380.3" font-size="25.3" text-anchor="middle">0</text>
<text x="1122.5" y="2380.3" font-size="25.3" text-anchor="middle">1</text>
<text x="1222.6" y="2380.3" font-size="25.3" text-anchor="middle">2</text>
<text x="1322.7" y="2380.3" font-size="25.3" text-anchor="middle">3</text>
<text x="1177" y="2409.6" font-size="26.3" text-anchor="middle">Hours</text>
<line x1="1073.95" y1="2201.9" x2="1073.95" y2="2213.2" stroke="#ef807d" stroke-width="2"/>
<line x1="1069.45" y1="2201.9" x2="1078.45" y2="2201.9" stroke="#ef807d" stroke-width="2"/>
<line x1="1069.45" y1="2213.2" x2="1078.45" y2="2213.2" stroke="#ef807d" stroke-width="2"/>
<line x1="1124" y1="2205.6" x2="1124" y2="2230.5" stroke="#ef807d" stroke-width="2"/>
<line x1="1119.5" y1="2205.6" x2="1128.5" y2="2205.6" stroke="#ef807d" stroke-width="2"/>
<line x1="1119.5" y1="2230.5" x2="1128.5" y2="2230.5" stroke="#ef807d" stroke-width="2"/>
<line x1="1224.1" y1="2221.3" x2="1224.1" y2="2234.9" stroke="#ef807d" stroke-width="2"/>
<line x1="1219.6" y1="2221.3" x2="1228.6" y2="2221.3" stroke="#ef807d" stroke-width="2"/>
<line x1="1219.6" y1="2234.9" x2="1228.6" y2="2234.9" stroke="#ef807d" stroke-width="2"/>
<line x1="1324.2" y1="2193.8" x2="1324.2" y2="2229.1" stroke="#ef807d" stroke-width="2"/>
<line x1="1319.7" y1="2193.8" x2="1328.7" y2="2193.8" stroke="#ef807d" stroke-width="2"/>
<line x1="1319.7" y1="2229.1" x2="1328.7" y2="2229.1" stroke="#ef807d" stroke-width="2"/>
<polyline points="1023.9,2332.59 1073.95,2207.71 1124,2217.72 1224.1,2227.73 1324.2,2211.97" fill="none" stroke="#ef807d" stroke-width="2.3"/>
<rect x="1019.7" y="2328.39" width="8.4" height="8.4" fill="#ef807d"/>
<rect x="1069.75" y="2203.51" width="8.4" height="8.4" fill="#ef807d"/>
<rect x="1119.8" y="2213.52" width="8.4" height="8.4" fill="#ef807d"/>
<rect x="1219.9" y="2223.53" width="8.4" height="8.4" fill="#ef807d"/>
<rect x="1320" y="2207.77" width="8.4" height="8.4" fill="#ef807d"/>
<line x1="1023.9" y1="2319.7" x2="1023.9" y2="2347.1" stroke="#1a9294" stroke-width="2"/>
<line x1="1019.4" y1="2319.7" x2="1028.4" y2="2319.7" stroke="#1a9294" stroke-width="2"/>
<line x1="1019.4" y1="2347.1" x2="1028.4" y2="2347.1" stroke="#1a9294" stroke-width="2"/>
<line x1="1224.1" y1="2208.3" x2="1224.1" y2="2223.3" stroke="#1a9294" stroke-width="2"/>
<line x1="1219.6" y1="2208.3" x2="1228.6" y2="2208.3" stroke="#1a9294" stroke-width="2"/>
<line x1="1219.6" y1="2223.3" x2="1228.6" y2="2223.3" stroke="#1a9294" stroke-width="2"/>
<line x1="1324.2" y1="2210.6" x2="1324.2" y2="2219.2" stroke="#1a9294" stroke-width="2"/>
<line x1="1319.7" y1="2210.6" x2="1328.7" y2="2210.6" stroke="#1a9294" stroke-width="2"/>
<line x1="1319.7" y1="2219.2" x2="1328.7" y2="2219.2" stroke="#1a9294" stroke-width="2"/>
<polyline points="1023.9,2334.09 1073.95,2220.97 1124,2220.97 1224.1,2215.47 1324.2,2214.97" fill="none" stroke="#1a9294" stroke-width="2.3"/>
<circle cx="1023.9" cy="2334.09" r="4.3" fill="#1a9294"/>
<circle cx="1073.95" cy="2220.97" r="4.3" fill="#1a9294"/>
<circle cx="1124" cy="2220.97" r="4.3" fill="#1a9294"/>
<circle cx="1224.1" cy="2215.47" r="4.3" fill="#1a9294"/>
<circle cx="1324.2" cy="2214.97" r="4.3" fill="#1a9294"/>
<line x1="1175.7" y1="2293" x2="1206.7" y2="2293" stroke="#1a9294" stroke-width="2.2"/>
<circle cx="1191.2" cy="2293" r="5.3" fill="#1a9294"/>
<line x1="1175.7" y1="2323.3" x2="1206.7" y2="2323.3" stroke="#ef807d" stroke-width="2.2"/>
<rect x="1186" y="2318.1" width="10.4" height="10.4" fill="#ef807d"/>
<text x="1215.5" y="2298.4" font-size="25.8">iKras<tspan dy="-9.29" font-size="15.48">WT</tspan></text>
<text x="1215.5" y="2328.8" font-size="25.8">iKras<tspan dy="-9.29" font-size="15.48">G12D</tspan></text>
<text x="1348.6" y="2087.5" font-size="34" fill="#231f20" font-weight="bold">k</text>
<text x="1495.8" y="2098.2" font-size="29.5" text-anchor="middle"><tspan dy="-10.91" font-size="14.16">15</tspan><tspan dy="10.91">N-arginine</tspan></text>
<text x="1495.5" y="2133.2" font-size="29.5" text-anchor="middle">(M+4)</text>
<line x1="1439.7" y1="2151.65" x2="1439.7" y2="2334.95" stroke="#000" stroke-width="2.5"/>
<line x1="1431.8" y1="2333.7" x2="1439.7" y2="2333.7" stroke="#000" stroke-width="2.5"/>
<text x="1428.4" y="2340.33" font-size="25.5" text-anchor="end">0</text>
<line x1="1431.8" y1="2297.54" x2="1439.7" y2="2297.54" stroke="#000" stroke-width="2.5"/>
<text x="1428.4" y="2304.17" font-size="25.5" text-anchor="end">10</text>
<line x1="1431.8" y1="2261.38" x2="1439.7" y2="2261.38" stroke="#000" stroke-width="2.5"/>
<text x="1428.4" y="2268.01" font-size="25.5" text-anchor="end">20</text>
<line x1="1431.8" y1="2225.22" x2="1439.7" y2="2225.22" stroke="#000" stroke-width="2.5"/>
<text x="1428.4" y="2231.85" font-size="25.5" text-anchor="end">30</text>
<line x1="1431.8" y1="2189.06" x2="1439.7" y2="2189.06" stroke="#000" stroke-width="2.5"/>
<text x="1428.4" y="2195.69" font-size="25.5" text-anchor="end">40</text>
<line x1="1431.8" y1="2152.9" x2="1439.7" y2="2152.9" stroke="#000" stroke-width="2.5"/>
<text x="1428.4" y="2159.53" font-size="25.5" text-anchor="end">50</text>
<text x="1385" y="2246" font-size="27" text-anchor="middle" transform="rotate(-90 1385 2246)">% labeled</text>
<line x1="1431.8" y1="2333.7" x2="1560.2" y2="2333.7" stroke="#000" stroke-width="2.5"/>
<line x1="1477.2" y1="2333.7" x2="1477.2" y2="2341.3" stroke="#000" stroke-width="2.5"/>
<line x1="1522.1" y1="2333.7" x2="1522.1" y2="2341.3" stroke="#000" stroke-width="2.5"/>
<rect x="1458.95" y="2195.16" width="37.1" height="138.54" fill="#0b9292" stroke="#000" stroke-width="2.4"/>
<rect x="1503.45" y="2232.91" width="37.1" height="100.79" fill="#f27f7c" stroke="#000" stroke-width="2.4"/>
<line x1="1477.5" y1="2169.08" x2="1477.5" y2="2195.16" stroke="#000" stroke-width="1.9"/>
<line x1="1467.5" y1="2169.08" x2="1487.5" y2="2169.08" stroke="#000" stroke-width="1.9"/>
<line x1="1522" y1="2219.18" x2="1522" y2="2232.91" stroke="#000" stroke-width="1.9"/>
<line x1="1512" y1="2219.18" x2="1532" y2="2219.18" stroke="#000" stroke-width="1.9"/>
<circle cx="1477.12" cy="2169.08" r="3.4" fill="none" stroke="#000" stroke-width="2"/>
<circle cx="1477.12" cy="2177.66" r="3.4" fill="none" stroke="#000" stroke-width="2"/>
<circle cx="1469.91" cy="2219.18" r="3.4" fill="none" stroke="#000" stroke-width="2"/>
<circle cx="1484.67" cy="2215.75" r="3.4" fill="none" stroke="#000" stroke-width="2"/>
<circle cx="1522.42" cy="2218.15" r="3.4" fill="none" stroke="#000" stroke-width="2"/>
<circle cx="1514.87" cy="2232.91" r="3.4" fill="none" stroke="#000" stroke-width="2"/>
<circle cx="1529.97" cy="2229.48" r="3.4" fill="none" stroke="#000" stroke-width="2"/>
<circle cx="1522.42" cy="2248.35" r="3.4" fill="none" stroke="#000" stroke-width="2"/>
<text x="1483.39" y="2349.6" font-size="26.5" text-anchor="end" transform="rotate(-90 1483.39 2349.6)">Pancreas</text>
<text x="1532.69" y="2349.6" font-size="26.5" text-anchor="end" transform="rotate(-90 1532.69 2349.6)">PDA</text>
<text x="1607" y="2088.9" font-size="34" fill="#231f20" font-weight="bold">l</text>
<text x="1626.6" y="2244.7" font-size="26.4" text-anchor="middle" transform="rotate(-90 1626.6 2244.7)">Relative abundance</text>
<text x="1740" y="2097.1" font-size="29.5" text-anchor="middle">Total</text>
<text x="1739.1" y="2131.4" font-size="29.5" text-anchor="middle">ornithine</text>
<line x1="1687.7" y1="2155.85" x2="1687.7" y2="2336.85" stroke="#000" stroke-width="2.5"/>
<line x1="1679.3" y1="2335.6" x2="1687.7" y2="2335.6" stroke="#000" stroke-width="2.5"/>
<text x="1673.3" y="2344.02" font-size="25.5" text-anchor="end">0</text>
<line x1="1679.3" y1="2276.1" x2="1687.7" y2="2276.1" stroke="#000" stroke-width="2.5"/>
<text x="1673.3" y="2283.73" font-size="25.5" text-anchor="end">0.5</text>
<line x1="1679.3" y1="2216.6" x2="1687.7" y2="2216.6" stroke="#000" stroke-width="2.5"/>
<text x="1673.3" y="2223.43" font-size="25.5" text-anchor="end">1.0</text>
<line x1="1679.3" y1="2157.1" x2="1687.7" y2="2157.1" stroke="#000" stroke-width="2.5"/>
<text x="1673.3" y="2163.13" font-size="25.5" text-anchor="end">1.5</text>
<line x1="1679.3" y1="2335.6" x2="1805.5" y2="2335.6" stroke="#000" stroke-width="2.5"/>
<line x1="1724.9" y1="2335.6" x2="1724.9" y2="2343.6" stroke="#000" stroke-width="2.5"/>
<line x1="1768.8" y1="2335.6" x2="1768.8" y2="2343.6" stroke="#000" stroke-width="2.5"/>
<rect x="1706.6" y="2295.37" width="36.6" height="40.23" fill="#0b9292" stroke="#000" stroke-width="2.4"/>
<rect x="1750.5" y="2221.59" width="36.6" height="114.01" fill="#f27f7c" stroke="#000" stroke-width="2.4"/>
<line x1="1724.9" y1="2280.61" x2="1724.9" y2="2295.37" stroke="#000" stroke-width="1.9"/>
<line x1="1714.9" y1="2280.61" x2="1734.9" y2="2280.61" stroke="#000" stroke-width="1.9"/>
<line x1="1768.8" y1="2192.42" x2="1768.8" y2="2221.59" stroke="#000" stroke-width="1.9"/>
<line x1="1758.8" y1="2192.42" x2="1778.8" y2="2192.42" stroke="#000" stroke-width="1.9"/>
<circle cx="1731.75" cy="2279.24" r="3.4" fill="none" stroke="#000" stroke-width="2"/>
<circle cx="1718.02" cy="2286.1" r="3.4" fill="none" stroke="#000" stroke-width="2"/>
<circle cx="1724.2" cy="2303.95" r="3.4" fill="none" stroke="#000" stroke-width="2"/>
<circle cx="1724.2" cy="2312.53" r="3.4" fill="none" stroke="#000" stroke-width="2"/>
<circle cx="1768.81" cy="2182.12" r="3.4" fill="none" stroke="#000" stroke-width="2"/>
<circle cx="1768.81" cy="2216.44" r="3.4" fill="none" stroke="#000" stroke-width="2"/>
<circle cx="1768.81" cy="2238.74" r="3.4" fill="none" stroke="#000" stroke-width="2"/>
<circle cx="1768.81" cy="2249.04" r="3.4" fill="none" stroke="#000" stroke-width="2"/>
<text x="1704.3" y="2165.2" font-size="20.5" fill="#231f20"><tspan font-style="italic">p</tspan> = 0.0014</text>
<text x="1733.89" y="2349.6" font-size="26.5" text-anchor="end" transform="rotate(-90 1733.89 2349.6)">Pancreas</text>
<text x="1779.29" y="2349.6" font-size="26.5" text-anchor="end" transform="rotate(-90 1779.29 2349.6)">PDA</text>
<text x="1904" y="2097.1" font-size="29.5" text-anchor="middle">Total</text>
<text x="1903" y="2131.4" font-size="29.5" text-anchor="middle">putrescine</text>
<line x1="1842.7" y1="2158.27" x2="1842.7" y2="2338.85" stroke="#000" stroke-width="2.5"/>
<line x1="1834.7" y1="2337.6" x2="1842.7" y2="2337.6" stroke="#000" stroke-width="2.5"/>
<text x="1830.4" y="2345.21" font-size="25.5" text-anchor="end">0</text>
<line x1="1834.7" y1="2278.24" x2="1842.7" y2="2278.24" stroke="#000" stroke-width="2.5"/>
<text x="1830.4" y="2284.66" font-size="25.5" text-anchor="end">2</text>
<line x1="1834.7" y1="2218.88" x2="1842.7" y2="2218.88" stroke="#000" stroke-width="2.5"/>
<text x="1830.4" y="2224.12" font-size="25.5" text-anchor="end">4</text>
<line x1="1834.7" y1="2159.52" x2="1842.7" y2="2159.52" stroke="#000" stroke-width="2.5"/>
<text x="1830.4" y="2163.57" font-size="25.5" text-anchor="end">6</text>
<line x1="1834.7" y1="2337.6" x2="1961.7" y2="2337.6" stroke="#000" stroke-width="2.5"/>
<line x1="1879.7" y1="2337.6" x2="1879.7" y2="2345.6" stroke="#000" stroke-width="2.5"/>
<line x1="1924.3" y1="2337.6" x2="1924.3" y2="2345.6" stroke="#000" stroke-width="2.5"/>
<rect x="1861.15" y="2294.68" width="37.1" height="42.92" fill="#0b9292" stroke="#000" stroke-width="2.4"/>
<rect x="1905.75" y="2208.54" width="37.1" height="129.06" fill="#f27f7c" stroke="#000" stroke-width="2.4"/>
<line x1="1879.7" y1="2290.22" x2="1879.7" y2="2294.68" stroke="#000" stroke-width="1.9"/>
<line x1="1869.7" y1="2290.22" x2="1889.7" y2="2290.22" stroke="#000" stroke-width="1.9"/>
<line x1="1924.3" y1="2187.27" x2="1924.3" y2="2208.54" stroke="#000" stroke-width="1.9"/>
<line x1="1914.3" y1="2187.27" x2="1934.3" y2="2187.27" stroke="#000" stroke-width="1.9"/>
<circle cx="1864.9" cy="2302.23" r="3.4" fill="none" stroke="#000" stroke-width="2"/>
<circle cx="1864.9" cy="2291.25" r="3.4" fill="none" stroke="#000" stroke-width="2"/>
<circle cx="1880.34" cy="2291.25" r="3.4" fill="none" stroke="#000" stroke-width="2"/>
<circle cx="1894.76" cy="2294.68" r="3.4" fill="none" stroke="#000" stroke-width="2"/>
<circle cx="1909.51" cy="2199.28" r="3.4" fill="none" stroke="#000" stroke-width="2"/>
<circle cx="1924.61" cy="2194.82" r="3.4" fill="none" stroke="#000" stroke-width="2"/>
<circle cx="1939.37" cy="2197.56" r="3.4" fill="none" stroke="#000" stroke-width="2"/>
<circle cx="1924.61" cy="2239.43" r="3.4" fill="none" stroke="#000" stroke-width="2"/>
<text x="1874.2" y="2165.2" font-size="20.5" fill="#231f20"><tspan font-style="italic">p</tspan> = 0.0002</text>
<text x="1886.59" y="2349.6" font-size="26.5" text-anchor="end" transform="rotate(-90 1886.59 2349.6)">Pancreas</text>
<text x="1936.59" y="2349.6" font-size="26.5" text-anchor="end" transform="rotate(-90 1936.59 2349.6)">PDA</text>
</svg>
</body></html>
